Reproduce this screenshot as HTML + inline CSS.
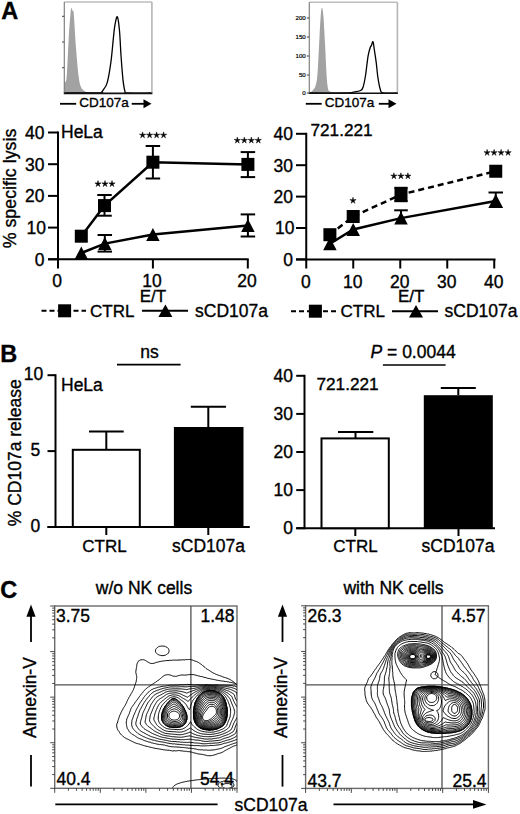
<!DOCTYPE html>
<html><head><meta charset="utf-8"><style>
html,body{margin:0;padding:0;background:#fff;}
body{width:520px;height:814px;overflow:hidden;}
svg{display:block;font-family:"Liberation Sans", sans-serif;}
text{stroke:#000;stroke-width:0.35px;}
</style></head><body>
<svg width="520" height="814" viewBox="0 0 520 814">
<text x="1.2" y="18.6" font-size="23.5" text-anchor="start" font-weight="bold" font-style="normal" >A</text>
<text x="0.2" y="361.6" font-size="23.5" text-anchor="start" font-weight="bold" font-style="normal" >B</text>
<text x="0.2" y="598.3" font-size="23.5" text-anchor="start" font-weight="bold" font-style="normal" >C</text>
<path d="M64.30,93.30 C64.30,91.25 64.07,82.88 64.30,81.00 C64.53,79.12 65.27,83.22 65.70,82.00 C66.13,80.78 66.38,81.20 66.90,73.70 C67.42,66.20 68.20,46.95 68.80,37.00 C69.40,27.05 70.05,18.83 70.50,14.00 C70.95,9.17 71.15,8.50 71.50,8.00 C71.85,7.50 72.23,10.08 72.60,11.00 C72.97,11.92 73.12,7.17 73.70,13.50 C74.28,19.83 75.28,38.58 76.10,49.00 C76.92,59.42 77.78,69.67 78.60,76.00 C79.42,82.33 79.88,84.42 81.00,87.00 C82.12,89.58 83.47,90.57 85.30,91.50 C87.13,92.43 89.55,92.35 92.00,92.60 C94.45,92.85 98.67,92.88 100.00,93.00 C101.33,93.12 100.00,93.25 100.00,93.30 L100,93.35 L64.3,93.35Z" fill="#a2a2a2"/>
<path d="M64.50,93.00 C70.42,93.00 93.90,93.03 100.00,93.00 C106.10,92.97 100.60,93.25 101.10,92.80 C101.60,92.35 101.97,92.05 103.00,90.30 C104.03,88.55 105.97,87.12 107.30,82.30 C108.63,77.48 109.97,68.97 111.00,61.40 C112.03,53.83 112.83,43.03 113.50,36.90 C114.17,30.77 114.35,27.95 115.00,24.60 C115.65,21.25 116.65,15.78 117.40,16.80 C118.15,17.82 118.90,24.28 119.50,30.70 C120.10,37.12 120.42,47.10 121.00,55.30 C121.58,63.50 122.33,73.87 123.00,79.90 C123.67,85.93 124.33,89.32 125.00,91.50 C125.67,93.68 122.67,92.75 127.00,93.00 C131.33,93.25 147.00,93.00 151.00,93.00" fill="none" stroke="#000" stroke-width="1.3" stroke-linejoin="round"/>
<line x1="64.3" y1="2.0" x2="151.9" y2="2.0" stroke="#bdbdbd" stroke-width="1.6" />
<line x1="151.9" y1="2.0" x2="151.9" y2="93.35" stroke="#b5b5b5" stroke-width="1.6" />
<line x1="64.3" y1="2.0" x2="64.3" y2="93.35" stroke="#808080" stroke-width="1.2" />
<line x1="63.8" y1="93.35" x2="152.4" y2="93.35" stroke="#111" stroke-width="1.6" />
<line x1="62.0" y1="16.3" x2="64.3" y2="16.3" stroke="#444" stroke-width="1.0" />
<line x1="62.0" y1="42.0" x2="64.3" y2="42.0" stroke="#444" stroke-width="1.0" />
<line x1="62.0" y1="67.7" x2="64.3" y2="67.7" stroke="#444" stroke-width="1.0" />
<line x1="60" y1="103.8" x2="76.2" y2="103.8" stroke="#000" stroke-width="1.8" />
<text x="79.3" y="107.3" font-size="13.5" text-anchor="start" font-weight="normal" font-style="normal" >CD107a</text>
<line x1="131.7" y1="103.8" x2="145" y2="103.8" stroke="#000" stroke-width="1.8" />
<polygon points="143.5,99.3 151.5,103.8 143.5,108.3" fill="#000"/>
<path d="M309.50,93.00 C309.67,92.92 309.92,93.00 310.50,92.50 C311.08,92.00 312.17,91.08 313.00,90.00 C313.83,88.92 314.75,88.72 315.50,86.00 C316.25,83.28 316.83,81.88 317.50,73.70 C318.17,65.52 318.92,47.13 319.50,36.90 C320.08,26.67 320.55,17.12 321.00,12.30 C321.45,7.48 321.78,7.18 322.20,8.00 C322.62,8.82 323.03,11.37 323.50,17.20 C323.97,23.03 324.50,33.58 325.00,43.00 C325.50,52.42 326.00,66.12 326.50,73.70 C327.00,81.28 327.42,85.53 328.00,88.50 C328.58,91.47 328.83,90.78 330.00,91.50 C331.17,92.22 334.17,92.55 335.00,92.80 C335.83,93.05 335.00,92.97 335.00,93.00 L335,93.2 L309.5,93.2Z" fill="#a2a2a2"/>
<path d="M309.50,93.00 C315.42,93.00 337.85,93.10 345.00,93.00 C352.15,92.90 349.73,92.85 352.40,92.40 C355.07,91.95 359.15,91.43 361.00,90.30 C362.85,89.17 362.73,88.15 363.50,85.60 C364.27,83.05 364.98,78.88 365.60,75.00 C366.22,71.12 366.75,65.65 367.20,62.30 C367.65,58.95 367.77,57.45 368.30,54.90 C368.83,52.35 369.90,48.50 370.40,47.00 C370.90,45.50 370.87,46.78 371.30,45.90 C371.73,45.02 372.50,41.08 373.00,41.70 C373.50,42.32 373.77,46.17 374.30,49.60 C374.83,53.03 375.58,57.53 376.20,62.30 C376.82,67.07 377.30,73.62 378.00,78.20 C378.70,82.78 379.57,87.37 380.40,89.80 C381.23,92.23 380.23,92.27 383.00,92.80 C385.77,93.33 394.67,92.97 397.00,93.00" fill="none" stroke="#000" stroke-width="1.3" stroke-linejoin="round"/>
<line x1="309.3" y1="2.2" x2="397.4" y2="2.2" stroke="#bdbdbd" stroke-width="1.6" />
<line x1="397.4" y1="2.2" x2="397.4" y2="93.2" stroke="#b5b5b5" stroke-width="1.6" />
<line x1="309.3" y1="2.2" x2="309.3" y2="93.2" stroke="#808080" stroke-width="1.2" />
<line x1="308.8" y1="93.2" x2="397.9" y2="93.2" stroke="#111" stroke-width="1.6" />
<text x="305.8" y="20.2" font-size="6.2" text-anchor="end" font-weight="normal" font-style="normal" style="stroke-width:0.2px">200</text>
<line x1="306.8" y1="18" x2="309.3" y2="18" stroke="#444" stroke-width="1.0" />
<text x="305.8" y="39.2" font-size="6.2" text-anchor="end" font-weight="normal" font-style="normal" style="stroke-width:0.2px">150</text>
<line x1="306.8" y1="37" x2="309.3" y2="37" stroke="#444" stroke-width="1.0" />
<text x="305.8" y="58.2" font-size="6.2" text-anchor="end" font-weight="normal" font-style="normal" style="stroke-width:0.2px">100</text>
<line x1="306.8" y1="56" x2="309.3" y2="56" stroke="#444" stroke-width="1.0" />
<text x="305.8" y="77.2" font-size="6.2" text-anchor="end" font-weight="normal" font-style="normal" style="stroke-width:0.2px">50</text>
<line x1="306.8" y1="75" x2="309.3" y2="75" stroke="#444" stroke-width="1.0" />
<text x="305.8" y="95.2" font-size="6.2" text-anchor="end" font-weight="normal" font-style="normal" style="stroke-width:0.2px">0</text>
<line x1="306.8" y1="93" x2="309.3" y2="93" stroke="#444" stroke-width="1.0" />
<line x1="305.8" y1="103.8" x2="321.7" y2="103.8" stroke="#000" stroke-width="1.8" />
<text x="324.8" y="107.3" font-size="13.5" text-anchor="start" font-weight="normal" font-style="normal" >CD107a</text>
<line x1="378.8" y1="103.8" x2="390" y2="103.8" stroke="#000" stroke-width="1.8" />
<polygon points="388.5,99.3 396.5,103.8 388.5,108.3" fill="#000"/>
<line x1="58.0" y1="131.5" x2="58.0" y2="260.3" stroke="#000" stroke-width="2" />
<line x1="48" y1="259.3" x2="248.7" y2="259.3" stroke="#000" stroke-width="2" />
<line x1="48" y1="259.3" x2="58.0" y2="259.3" stroke="#000" stroke-width="2" />
<text x="44.5" y="265.6" font-size="17.5" text-anchor="end" font-weight="normal" font-style="normal" >0</text>
<line x1="48" y1="227.60000000000002" x2="58.0" y2="227.60000000000002" stroke="#000" stroke-width="2" />
<text x="46.0" y="233.90000000000003" font-size="17.5" text-anchor="end" font-weight="normal" font-style="normal" >10</text>
<line x1="48" y1="195.9" x2="58.0" y2="195.9" stroke="#000" stroke-width="2" />
<text x="44.5" y="202.20000000000002" font-size="17.5" text-anchor="end" font-weight="normal" font-style="normal" >20</text>
<line x1="48" y1="164.20000000000002" x2="58.0" y2="164.20000000000002" stroke="#000" stroke-width="2" />
<text x="44.5" y="170.50000000000003" font-size="17.5" text-anchor="end" font-weight="normal" font-style="normal" >30</text>
<line x1="48" y1="132.5" x2="58.0" y2="132.5" stroke="#000" stroke-width="2" />
<text x="44.5" y="138.8" font-size="17.5" text-anchor="end" font-weight="normal" font-style="normal" >40</text>
<line x1="58.0" y1="259.3" x2="58.0" y2="268.5" stroke="#000" stroke-width="2" />
<text x="57.2" y="287.2" font-size="17.5" text-anchor="middle" font-weight="normal" font-style="normal" >0</text>
<line x1="152.9" y1="259.3" x2="152.9" y2="268.5" stroke="#000" stroke-width="2" />
<text x="152.1" y="287.2" font-size="17.5" text-anchor="middle" font-weight="normal" font-style="normal" >10</text>
<line x1="247.8" y1="259.3" x2="247.8" y2="268.5" stroke="#000" stroke-width="2" />
<text x="247.0" y="287.2" font-size="17.5" text-anchor="middle" font-weight="normal" font-style="normal" >20</text>
<text x="152.9" y="302.3" font-size="17" text-anchor="middle" font-weight="normal" font-style="normal" >E/T</text>
<text x="61.0" y="138.2" font-size="17.5" text-anchor="start" font-weight="normal" font-style="normal" >HeLa</text>
<text x="0" y="0" font-size="17.8" text-anchor="middle" transform="translate(16.0 188.5) rotate(-90)">% specific lysis</text>
<polyline points="81.3,236.2 104.5,205.6 152.9,162.2 247.9,164.4" fill="none" stroke="#000" stroke-width="2.5"/>
<polyline points="81.3,253.0 104.8,243.6 152.9,234.6 247.9,225.5" fill="none" stroke="#000" stroke-width="2.5"/>
<rect x="74.8" y="229.7" width="13" height="13" fill="#000"/>
<line x1="104.5" y1="195" x2="104.5" y2="215.7" stroke="#000" stroke-width="2" />
<line x1="97.25" y1="195" x2="111.75" y2="195" stroke="#000" stroke-width="2" />
<line x1="97.25" y1="215.7" x2="111.75" y2="215.7" stroke="#000" stroke-width="2" />
<rect x="98.0" y="199.1" width="13" height="13" fill="#000"/>
<line x1="152.9" y1="146" x2="152.9" y2="178.5" stroke="#000" stroke-width="2" />
<line x1="145.65" y1="146" x2="160.15" y2="146" stroke="#000" stroke-width="2" />
<line x1="145.65" y1="178.5" x2="160.15" y2="178.5" stroke="#000" stroke-width="2" />
<rect x="146.4" y="155.7" width="13" height="13" fill="#000"/>
<line x1="247.9" y1="152.1" x2="247.9" y2="177.1" stroke="#000" stroke-width="2" />
<line x1="240.65" y1="152.1" x2="255.15" y2="152.1" stroke="#000" stroke-width="2" />
<line x1="240.65" y1="177.1" x2="255.15" y2="177.1" stroke="#000" stroke-width="2" />
<rect x="241.4" y="157.9" width="13" height="13" fill="#000"/>
<polygon points="74.55,259.5 88.05,259.5 81.3,246.5" fill="#000"/>
<line x1="104.8" y1="235" x2="104.8" y2="251.6" stroke="#000" stroke-width="2" />
<line x1="97.55" y1="235" x2="112.05" y2="235" stroke="#000" stroke-width="2" />
<line x1="97.55" y1="251.6" x2="112.05" y2="251.6" stroke="#000" stroke-width="2" />
<polygon points="98.05,250.1 111.55,250.1 104.8,237.1" fill="#000"/>
<polygon points="146.15,241.1 159.65,241.1 152.9,228.1" fill="#000"/>
<line x1="247.9" y1="214.4" x2="247.9" y2="236.5" stroke="#000" stroke-width="2" />
<line x1="240.65" y1="214.4" x2="255.15" y2="214.4" stroke="#000" stroke-width="2" />
<line x1="240.65" y1="236.5" x2="255.15" y2="236.5" stroke="#000" stroke-width="2" />
<polygon points="241.15,232.0 254.65,232.0 247.9,219.0" fill="#000"/>
<polygon points="98.00,180.60 98.65,183.01 101.14,182.88 99.05,184.24 99.94,186.57 98.00,185.00 96.06,186.57 96.95,184.24 94.86,182.88 97.35,183.01" fill="#000" stroke="#000" stroke-width="0.5" stroke-linejoin="round"/>
<polygon points="105.00,180.60 105.65,183.01 108.14,182.88 106.05,184.24 106.94,186.57 105.00,185.00 103.06,186.57 103.95,184.24 101.86,182.88 104.35,183.01" fill="#000" stroke="#000" stroke-width="0.5" stroke-linejoin="round"/>
<polygon points="112.00,180.60 112.65,183.01 115.14,182.88 113.05,184.24 113.94,186.57 112.00,185.00 110.06,186.57 110.95,184.24 108.86,182.88 111.35,183.01" fill="#000" stroke="#000" stroke-width="0.5" stroke-linejoin="round"/>
<polygon points="142.60,131.90 143.25,134.31 145.74,134.18 143.65,135.54 144.54,137.87 142.60,136.30 140.66,137.87 141.55,135.54 139.46,134.18 141.95,134.31" fill="#000" stroke="#000" stroke-width="0.5" stroke-linejoin="round"/>
<polygon points="149.60,131.90 150.25,134.31 152.74,134.18 150.65,135.54 151.54,137.87 149.60,136.30 147.66,137.87 148.55,135.54 146.46,134.18 148.95,134.31" fill="#000" stroke="#000" stroke-width="0.5" stroke-linejoin="round"/>
<polygon points="156.60,131.90 157.25,134.31 159.74,134.18 157.65,135.54 158.54,137.87 156.60,136.30 154.66,137.87 155.55,135.54 153.46,134.18 155.95,134.31" fill="#000" stroke="#000" stroke-width="0.5" stroke-linejoin="round"/>
<polygon points="163.60,131.90 164.25,134.31 166.74,134.18 164.65,135.54 165.54,137.87 163.60,136.30 161.66,137.87 162.55,135.54 160.46,134.18 162.95,134.31" fill="#000" stroke="#000" stroke-width="0.5" stroke-linejoin="round"/>
<polygon points="237.30,137.10 237.95,139.51 240.44,139.38 238.35,140.74 239.24,143.07 237.30,141.50 235.36,143.07 236.25,140.74 234.16,139.38 236.65,139.51" fill="#000" stroke="#000" stroke-width="0.5" stroke-linejoin="round"/>
<polygon points="244.30,137.10 244.95,139.51 247.44,139.38 245.35,140.74 246.24,143.07 244.30,141.50 242.36,143.07 243.25,140.74 241.16,139.38 243.65,139.51" fill="#000" stroke="#000" stroke-width="0.5" stroke-linejoin="round"/>
<polygon points="251.30,137.10 251.95,139.51 254.44,139.38 252.35,140.74 253.24,143.07 251.30,141.50 249.36,143.07 250.25,140.74 248.16,139.38 250.65,139.51" fill="#000" stroke="#000" stroke-width="0.5" stroke-linejoin="round"/>
<polygon points="258.30,137.10 258.95,139.51 261.44,139.38 259.35,140.74 260.24,143.07 258.30,141.50 256.36,143.07 257.25,140.74 255.16,139.38 257.65,139.51" fill="#000" stroke="#000" stroke-width="0.5" stroke-linejoin="round"/>
<line x1="41.5" y1="310.8" x2="86" y2="310.8" stroke="#000" stroke-width="2" stroke-dasharray="5,3"/>
<rect x="58.099999999999994" y="304.3" width="13" height="13" fill="#000"/>
<text x="90.0" y="317.0" font-size="17" text-anchor="start" font-weight="normal" font-style="normal" >CTRL</text>
<line x1="142" y1="310.8" x2="188" y2="310.8" stroke="#000" stroke-width="2" />
<polygon points="158.4,317.05 172.4,317.05 165.4,304.55" fill="#000"/>
<text x="195.0" y="317.0" font-size="17.5" text-anchor="start" font-weight="normal" font-style="normal" >sCD107a</text>
<line x1="306.25" y1="132.79999999999998" x2="306.25" y2="260.4" stroke="#000" stroke-width="2" />
<line x1="296" y1="259.4" x2="495.5" y2="259.4" stroke="#000" stroke-width="2" />
<line x1="296" y1="259.4" x2="306.25" y2="259.4" stroke="#000" stroke-width="2" />
<text x="293" y="265.7" font-size="17.5" text-anchor="end" font-weight="normal" font-style="normal" >0</text>
<line x1="296" y1="227.99999999999997" x2="306.25" y2="227.99999999999997" stroke="#000" stroke-width="2" />
<text x="294.5" y="234.29999999999998" font-size="17.5" text-anchor="end" font-weight="normal" font-style="normal" >10</text>
<line x1="296" y1="196.59999999999997" x2="306.25" y2="196.59999999999997" stroke="#000" stroke-width="2" />
<text x="293" y="202.89999999999998" font-size="17.5" text-anchor="end" font-weight="normal" font-style="normal" >20</text>
<line x1="296" y1="165.2" x2="306.25" y2="165.2" stroke="#000" stroke-width="2" />
<text x="293" y="171.5" font-size="17.5" text-anchor="end" font-weight="normal" font-style="normal" >30</text>
<line x1="296" y1="133.79999999999998" x2="306.25" y2="133.79999999999998" stroke="#000" stroke-width="2" />
<text x="293" y="140.1" font-size="17.5" text-anchor="end" font-weight="normal" font-style="normal" >40</text>
<line x1="306.25" y1="259.4" x2="306.25" y2="268.5" stroke="#000" stroke-width="2" />
<text x="305.75" y="287.5" font-size="17.5" text-anchor="middle" font-weight="normal" font-style="normal" >0</text>
<line x1="353.25" y1="259.4" x2="353.25" y2="268.5" stroke="#000" stroke-width="2" />
<text x="352.75" y="287.5" font-size="17.5" text-anchor="middle" font-weight="normal" font-style="normal" >10</text>
<line x1="400.25" y1="259.4" x2="400.25" y2="268.5" stroke="#000" stroke-width="2" />
<text x="399.75" y="287.5" font-size="17.5" text-anchor="middle" font-weight="normal" font-style="normal" >20</text>
<line x1="447.25" y1="259.4" x2="447.25" y2="268.5" stroke="#000" stroke-width="2" />
<text x="446.75" y="287.5" font-size="17.5" text-anchor="middle" font-weight="normal" font-style="normal" >30</text>
<line x1="494.25" y1="259.4" x2="494.25" y2="268.5" stroke="#000" stroke-width="2" />
<text x="493.75" y="287.5" font-size="17.5" text-anchor="middle" font-weight="normal" font-style="normal" >40</text>
<text x="411.2" y="302.3" font-size="17" text-anchor="middle" font-weight="normal" font-style="normal" >E/T</text>
<text x="310.5" y="136.3" font-size="17.2" text-anchor="start" font-weight="normal" font-style="normal" >721.221</text>
<polyline points="329.9,234.7 353.2,216.5 401,194.5 495.75,171.25" fill="none" stroke="#000" stroke-width="2.5" stroke-dasharray="6,4"/>
<polyline points="329.9,243.8 353.2,229.5 401,218.1 495.75,201" fill="none" stroke="#000" stroke-width="2.5"/>
<line x1="401" y1="210.3" x2="401" y2="216" stroke="#000" stroke-width="2" />
<line x1="394.2" y1="210.3" x2="407.8" y2="210.3" stroke="#000" stroke-width="2" />
<line x1="495.75" y1="192.5" x2="495.75" y2="199" stroke="#000" stroke-width="2" />
<line x1="488.5" y1="192.5" x2="503" y2="192.5" stroke="#000" stroke-width="2" />
<line x1="401" y1="187.8" x2="401" y2="201.2" stroke="#000" stroke-width="2" />
<line x1="394.3" y1="187.8" x2="407.7" y2="187.8" stroke="#000" stroke-width="2" />
<line x1="394.3" y1="201.2" x2="407.7" y2="201.2" stroke="#000" stroke-width="2" />
<rect x="323.4" y="228.2" width="13" height="13" fill="#000"/>
<rect x="346.7" y="210.0" width="13" height="13" fill="#000"/>
<rect x="394.5" y="188.0" width="13" height="13" fill="#000"/>
<rect x="489.25" y="164.75" width="13" height="13" fill="#000"/>
<polygon points="323.15,250.3 336.65,250.3 329.9,237.3" fill="#000"/>
<polygon points="346.45,236.0 359.95,236.0 353.2,223.0" fill="#000"/>
<polygon points="394.25,224.6 407.75,224.6 401,211.6" fill="#000"/>
<polygon points="488.35,208.0 503.15,208.0 495.75,194.0" fill="#000"/>
<polygon points="353.00,197.30 353.65,199.71 356.14,199.58 354.05,200.94 354.94,203.27 353.00,201.70 351.06,203.27 351.95,200.94 349.86,199.58 352.35,199.71" fill="#000" stroke="#000" stroke-width="0.5" stroke-linejoin="round"/>
<polygon points="393.90,172.80 394.55,175.21 397.04,175.08 394.95,176.44 395.84,178.77 393.90,177.20 391.96,178.77 392.85,176.44 390.76,175.08 393.25,175.21" fill="#000" stroke="#000" stroke-width="0.5" stroke-linejoin="round"/>
<polygon points="400.90,172.80 401.55,175.21 404.04,175.08 401.95,176.44 402.84,178.77 400.90,177.20 398.96,178.77 399.85,176.44 397.76,175.08 400.25,175.21" fill="#000" stroke="#000" stroke-width="0.5" stroke-linejoin="round"/>
<polygon points="407.90,172.80 408.55,175.21 411.04,175.08 408.95,176.44 409.84,178.77 407.90,177.20 405.96,178.77 406.85,176.44 404.76,175.08 407.25,175.21" fill="#000" stroke="#000" stroke-width="0.5" stroke-linejoin="round"/>
<polygon points="487.10,149.40 487.75,151.81 490.24,151.68 488.15,153.04 489.04,155.37 487.10,153.80 485.16,155.37 486.05,153.04 483.96,151.68 486.45,151.81" fill="#000" stroke="#000" stroke-width="0.5" stroke-linejoin="round"/>
<polygon points="494.10,149.40 494.75,151.81 497.24,151.68 495.15,153.04 496.04,155.37 494.10,153.80 492.16,155.37 493.05,153.04 490.96,151.68 493.45,151.81" fill="#000" stroke="#000" stroke-width="0.5" stroke-linejoin="round"/>
<polygon points="501.10,149.40 501.75,151.81 504.24,151.68 502.15,153.04 503.04,155.37 501.10,153.80 499.16,155.37 500.05,153.04 497.96,151.68 500.45,151.81" fill="#000" stroke="#000" stroke-width="0.5" stroke-linejoin="round"/>
<polygon points="508.10,149.40 508.75,151.81 511.24,151.68 509.15,153.04 510.04,155.37 508.10,153.80 506.16,155.37 507.05,153.04 504.96,151.68 507.45,151.81" fill="#000" stroke="#000" stroke-width="0.5" stroke-linejoin="round"/>
<line x1="291" y1="311.2" x2="336" y2="311.2" stroke="#000" stroke-width="2" stroke-dasharray="5,3"/>
<rect x="308.9" y="304.7" width="13" height="13" fill="#000"/>
<text x="340.5" y="317.3" font-size="17" text-anchor="start" font-weight="normal" font-style="normal" >CTRL</text>
<line x1="392" y1="311.2" x2="438" y2="311.2" stroke="#000" stroke-width="2" />
<polygon points="409.0,317.45 423.0,317.45 416,304.95" fill="#000"/>
<text x="444.5" y="317.3" font-size="17.5" text-anchor="start" font-weight="normal" font-style="normal" >sCD107a</text>
<line x1="55.5" y1="374.2" x2="55.5" y2="528.0" stroke="#000" stroke-width="2" />
<line x1="47.5" y1="527.0" x2="249.8" y2="527.0" stroke="#000" stroke-width="2" />
<line x1="47.5" y1="527.0" x2="55.5" y2="527.0" stroke="#000" stroke-width="2" />
<text x="40.3" y="532.1" font-size="17.5" text-anchor="end" font-weight="normal" font-style="normal" >0</text>
<line x1="47.5" y1="451.1" x2="55.5" y2="451.1" stroke="#000" stroke-width="2" />
<text x="40.3" y="456.20000000000005" font-size="17.5" text-anchor="end" font-weight="normal" font-style="normal" >5</text>
<line x1="47.5" y1="375.2" x2="55.5" y2="375.2" stroke="#000" stroke-width="2" />
<text x="43.3" y="380.3" font-size="17.5" text-anchor="end" font-weight="normal" font-style="normal" >10</text>
<rect x="72.8" y="449.8" width="67" height="77.19999999999999" fill="#fff" stroke="#000" stroke-width="2"/>
<line x1="106.3" y1="431.4" x2="106.3" y2="449.8" stroke="#000" stroke-width="2" />
<line x1="89" y1="431.4" x2="123.7" y2="431.4" stroke="#000" stroke-width="2" />
<rect x="173.9" y="427" width="69.6" height="100.0" fill="#000"/>
<line x1="208.3" y1="406.8" x2="208.3" y2="427" stroke="#000" stroke-width="2" />
<line x1="190.8" y1="406.8" x2="226" y2="406.8" stroke="#000" stroke-width="2" />
<line x1="106.3" y1="527.0" x2="106.3" y2="535" stroke="#000" stroke-width="2" />
<line x1="208.3" y1="527.0" x2="208.3" y2="535" stroke="#000" stroke-width="2" />
<text x="104.5" y="551.8" font-size="17" text-anchor="middle" font-weight="normal" font-style="normal" >CTRL</text>
<text x="208.5" y="552.0" font-size="17.5" text-anchor="middle" font-weight="normal" font-style="normal" >sCD107a</text>
<text x="61.0" y="390.8" font-size="17.5" text-anchor="start" font-weight="normal" font-style="normal" >HeLa</text>
<line x1="117" y1="364.6" x2="180.6" y2="364.6" stroke="#000" stroke-width="1.6" />
<text x="149.6" y="357.8" font-size="17.5" text-anchor="middle" font-weight="normal" font-style="normal" >ns</text>
<text x="0" y="0" text-anchor="middle" transform="translate(20.8 452.8) rotate(-90)" font-size="17.5">% CD107a release</text>
<line x1="304.5" y1="374.80000000000007" x2="304.5" y2="529.2" stroke="#000" stroke-width="2" />
<line x1="296.2" y1="528.2" x2="495" y2="528.2" stroke="#000" stroke-width="2" />
<line x1="296.2" y1="528.2" x2="304.5" y2="528.2" stroke="#000" stroke-width="2" />
<text x="293" y="534.0" font-size="17.5" text-anchor="end" font-weight="normal" font-style="normal" >0</text>
<line x1="296.2" y1="490.1" x2="304.5" y2="490.1" stroke="#000" stroke-width="2" />
<text x="293" y="495.90000000000003" font-size="17.5" text-anchor="end" font-weight="normal" font-style="normal" >10</text>
<line x1="296.2" y1="452.00000000000006" x2="304.5" y2="452.00000000000006" stroke="#000" stroke-width="2" />
<text x="293" y="457.80000000000007" font-size="17.5" text-anchor="end" font-weight="normal" font-style="normal" >20</text>
<line x1="296.2" y1="413.90000000000003" x2="304.5" y2="413.90000000000003" stroke="#000" stroke-width="2" />
<text x="293" y="419.70000000000005" font-size="17.5" text-anchor="end" font-weight="normal" font-style="normal" >30</text>
<line x1="296.2" y1="375.80000000000007" x2="304.5" y2="375.80000000000007" stroke="#000" stroke-width="2" />
<text x="293" y="381.6000000000001" font-size="17.5" text-anchor="end" font-weight="normal" font-style="normal" >40</text>
<rect x="321.5" y="438.4" width="67.3" height="89.80000000000007" fill="#fff" stroke="#000" stroke-width="2"/>
<line x1="355.5" y1="432" x2="355.5" y2="438.4" stroke="#000" stroke-width="2" />
<line x1="338" y1="432" x2="373.3" y2="432" stroke="#000" stroke-width="2" />
<rect x="423.8" y="395.2" width="69" height="133.00000000000006" fill="#000"/>
<line x1="458.3" y1="387.9" x2="458.3" y2="395.2" stroke="#000" stroke-width="2" />
<line x1="440.8" y1="387.9" x2="475.8" y2="387.9" stroke="#000" stroke-width="2" />
<line x1="355.3" y1="528.2" x2="355.3" y2="536" stroke="#000" stroke-width="2" />
<line x1="458.5" y1="528.2" x2="458.5" y2="536" stroke="#000" stroke-width="2" />
<text x="355.5" y="552.0" font-size="17" text-anchor="middle" font-weight="normal" font-style="normal" >CTRL</text>
<text x="458.0" y="552.0" font-size="17.5" text-anchor="middle" font-weight="normal" font-style="normal" >sCD107a</text>
<text x="316.5" y="390.0" font-size="17.2" text-anchor="start" font-weight="normal" font-style="normal" >721.221</text>
<line x1="382.9" y1="365" x2="445.6" y2="365" stroke="#000" stroke-width="1.6" />
<text x="370.5" y="358.3" font-size="17.5"><tspan font-style="italic">P</tspan> = 0.0044</text>
<rect x="54.7" y="606.0" width="182.3" height="182.29999999999995" fill="none" stroke="#6a6a6a" stroke-width="1.4"/>
<line x1="190.9" y1="606.0" x2="190.9" y2="788.3" stroke="#505050" stroke-width="1.3" />
<line x1="54.7" y1="684.9" x2="237.0" y2="684.9" stroke="#505050" stroke-width="1.3" />
<line x1="54.7" y1="788.3" x2="54.7" y2="792.8" stroke="#333" stroke-width="0.9" />
<line x1="68.41944205238595" y1="788.3" x2="68.41944205238595" y2="790.8" stroke="#333" stroke-width="0.9" />
<line x1="76.44480118384863" y1="788.3" x2="76.44480118384863" y2="790.8" stroke="#333" stroke-width="0.9" />
<line x1="82.13888410477189" y1="788.3" x2="82.13888410477189" y2="790.8" stroke="#333" stroke-width="0.9" />
<line x1="86.55555794761406" y1="788.3" x2="86.55555794761406" y2="790.8" stroke="#333" stroke-width="0.9" />
<line x1="90.16424323623457" y1="788.3" x2="90.16424323623457" y2="790.8" stroke="#333" stroke-width="0.9" />
<line x1="93.21534317364976" y1="788.3" x2="93.21534317364976" y2="790.8" stroke="#333" stroke-width="0.9" />
<line x1="95.85832615715783" y1="788.3" x2="95.85832615715783" y2="790.8" stroke="#333" stroke-width="0.9" />
<line x1="98.18960236769723" y1="788.3" x2="98.18960236769723" y2="790.8" stroke="#333" stroke-width="0.9" />
<line x1="100.275" y1="788.3" x2="100.275" y2="792.8" stroke="#333" stroke-width="0.9" />
<line x1="113.99444205238595" y1="788.3" x2="113.99444205238595" y2="790.8" stroke="#333" stroke-width="0.9" />
<line x1="122.01980118384861" y1="788.3" x2="122.01980118384861" y2="790.8" stroke="#333" stroke-width="0.9" />
<line x1="127.71388410477189" y1="788.3" x2="127.71388410477189" y2="790.8" stroke="#333" stroke-width="0.9" />
<line x1="132.13055794761408" y1="788.3" x2="132.13055794761408" y2="790.8" stroke="#333" stroke-width="0.9" />
<line x1="135.73924323623456" y1="788.3" x2="135.73924323623456" y2="790.8" stroke="#333" stroke-width="0.9" />
<line x1="138.79034317364977" y1="788.3" x2="138.79034317364977" y2="790.8" stroke="#333" stroke-width="0.9" />
<line x1="141.43332615715784" y1="788.3" x2="141.43332615715784" y2="790.8" stroke="#333" stroke-width="0.9" />
<line x1="143.76460236769725" y1="788.3" x2="143.76460236769725" y2="790.8" stroke="#333" stroke-width="0.9" />
<line x1="145.85000000000002" y1="788.3" x2="145.85000000000002" y2="792.8" stroke="#333" stroke-width="0.9" />
<line x1="159.56944205238597" y1="788.3" x2="159.56944205238597" y2="790.8" stroke="#333" stroke-width="0.9" />
<line x1="167.59480118384863" y1="788.3" x2="167.59480118384863" y2="790.8" stroke="#333" stroke-width="0.9" />
<line x1="173.2888841047719" y1="788.3" x2="173.2888841047719" y2="790.8" stroke="#333" stroke-width="0.9" />
<line x1="177.7055579476141" y1="788.3" x2="177.7055579476141" y2="790.8" stroke="#333" stroke-width="0.9" />
<line x1="181.31424323623457" y1="788.3" x2="181.31424323623457" y2="790.8" stroke="#333" stroke-width="0.9" />
<line x1="184.36534317364976" y1="788.3" x2="184.36534317364976" y2="790.8" stroke="#333" stroke-width="0.9" />
<line x1="187.00832615715785" y1="788.3" x2="187.00832615715785" y2="790.8" stroke="#333" stroke-width="0.9" />
<line x1="189.33960236769724" y1="788.3" x2="189.33960236769724" y2="790.8" stroke="#333" stroke-width="0.9" />
<line x1="191.425" y1="788.3" x2="191.425" y2="792.8" stroke="#333" stroke-width="0.9" />
<line x1="205.14444205238595" y1="788.3" x2="205.14444205238595" y2="790.8" stroke="#333" stroke-width="0.9" />
<line x1="213.16980118384862" y1="788.3" x2="213.16980118384862" y2="790.8" stroke="#333" stroke-width="0.9" />
<line x1="218.8638841047719" y1="788.3" x2="218.8638841047719" y2="790.8" stroke="#333" stroke-width="0.9" />
<line x1="223.28055794761408" y1="788.3" x2="223.28055794761408" y2="790.8" stroke="#333" stroke-width="0.9" />
<line x1="226.88924323623456" y1="788.3" x2="226.88924323623456" y2="790.8" stroke="#333" stroke-width="0.9" />
<line x1="229.94034317364975" y1="788.3" x2="229.94034317364975" y2="790.8" stroke="#333" stroke-width="0.9" />
<line x1="232.58332615715784" y1="788.3" x2="232.58332615715784" y2="790.8" stroke="#333" stroke-width="0.9" />
<line x1="234.91460236769723" y1="788.3" x2="234.91460236769723" y2="790.8" stroke="#333" stroke-width="0.9" />
<line x1="237.0" y1="788.3" x2="237.0" y2="792.8" stroke="#333" stroke-width="0.9" />
<line x1="54.7" y1="788.3" x2="50.2" y2="788.3" stroke="#333" stroke-width="0.9" />
<line x1="54.7" y1="774.580557947614" x2="52.2" y2="774.580557947614" stroke="#333" stroke-width="0.9" />
<line x1="54.7" y1="766.5551988161513" x2="52.2" y2="766.5551988161513" stroke="#333" stroke-width="0.9" />
<line x1="54.7" y1="760.8611158952281" x2="52.2" y2="760.8611158952281" stroke="#333" stroke-width="0.9" />
<line x1="54.7" y1="756.4444420523859" x2="52.2" y2="756.4444420523859" stroke="#333" stroke-width="0.9" />
<line x1="54.7" y1="752.8357567637654" x2="52.2" y2="752.8357567637654" stroke="#333" stroke-width="0.9" />
<line x1="54.7" y1="749.7846568263502" x2="52.2" y2="749.7846568263502" stroke="#333" stroke-width="0.9" />
<line x1="54.7" y1="747.1416738428421" x2="52.2" y2="747.1416738428421" stroke="#333" stroke-width="0.9" />
<line x1="54.7" y1="744.8103976323027" x2="52.2" y2="744.8103976323027" stroke="#333" stroke-width="0.9" />
<line x1="54.7" y1="742.7249999999999" x2="50.2" y2="742.7249999999999" stroke="#333" stroke-width="0.9" />
<line x1="54.7" y1="729.005557947614" x2="52.2" y2="729.005557947614" stroke="#333" stroke-width="0.9" />
<line x1="54.7" y1="720.9801988161513" x2="52.2" y2="720.9801988161513" stroke="#333" stroke-width="0.9" />
<line x1="54.7" y1="715.286115895228" x2="52.2" y2="715.286115895228" stroke="#333" stroke-width="0.9" />
<line x1="54.7" y1="710.8694420523858" x2="52.2" y2="710.8694420523858" stroke="#333" stroke-width="0.9" />
<line x1="54.7" y1="707.2607567637654" x2="52.2" y2="707.2607567637654" stroke="#333" stroke-width="0.9" />
<line x1="54.7" y1="704.2096568263502" x2="52.2" y2="704.2096568263502" stroke="#333" stroke-width="0.9" />
<line x1="54.7" y1="701.5666738428421" x2="52.2" y2="701.5666738428421" stroke="#333" stroke-width="0.9" />
<line x1="54.7" y1="699.2353976323027" x2="52.2" y2="699.2353976323027" stroke="#333" stroke-width="0.9" />
<line x1="54.7" y1="697.15" x2="50.2" y2="697.15" stroke="#333" stroke-width="0.9" />
<line x1="54.7" y1="683.430557947614" x2="52.2" y2="683.430557947614" stroke="#333" stroke-width="0.9" />
<line x1="54.7" y1="675.4051988161514" x2="52.2" y2="675.4051988161514" stroke="#333" stroke-width="0.9" />
<line x1="54.7" y1="669.7111158952281" x2="52.2" y2="669.7111158952281" stroke="#333" stroke-width="0.9" />
<line x1="54.7" y1="665.2944420523859" x2="52.2" y2="665.2944420523859" stroke="#333" stroke-width="0.9" />
<line x1="54.7" y1="661.6857567637654" x2="52.2" y2="661.6857567637654" stroke="#333" stroke-width="0.9" />
<line x1="54.7" y1="658.6346568263502" x2="52.2" y2="658.6346568263502" stroke="#333" stroke-width="0.9" />
<line x1="54.7" y1="655.9916738428421" x2="52.2" y2="655.9916738428421" stroke="#333" stroke-width="0.9" />
<line x1="54.7" y1="653.6603976323028" x2="52.2" y2="653.6603976323028" stroke="#333" stroke-width="0.9" />
<line x1="54.7" y1="651.575" x2="50.2" y2="651.575" stroke="#333" stroke-width="0.9" />
<line x1="54.7" y1="637.8555579476141" x2="52.2" y2="637.8555579476141" stroke="#333" stroke-width="0.9" />
<line x1="54.7" y1="629.8301988161514" x2="52.2" y2="629.8301988161514" stroke="#333" stroke-width="0.9" />
<line x1="54.7" y1="624.1361158952282" x2="52.2" y2="624.1361158952282" stroke="#333" stroke-width="0.9" />
<line x1="54.7" y1="619.719442052386" x2="52.2" y2="619.719442052386" stroke="#333" stroke-width="0.9" />
<line x1="54.7" y1="616.1107567637655" x2="52.2" y2="616.1107567637655" stroke="#333" stroke-width="0.9" />
<line x1="54.7" y1="613.0596568263503" x2="52.2" y2="613.0596568263503" stroke="#333" stroke-width="0.9" />
<line x1="54.7" y1="610.4166738428422" x2="52.2" y2="610.4166738428422" stroke="#333" stroke-width="0.9" />
<line x1="54.7" y1="608.0853976323028" x2="52.2" y2="608.0853976323028" stroke="#333" stroke-width="0.9" />
<line x1="54.7" y1="606.0" x2="50.2" y2="606.0" stroke="#333" stroke-width="0.9" />
<rect x="305.6" y="605.8" width="182.79999999999995" height="182.60000000000002" fill="none" stroke="#6a6a6a" stroke-width="1.4"/>
<line x1="442.0" y1="605.8" x2="442.0" y2="788.4" stroke="#505050" stroke-width="1.3" />
<line x1="305.6" y1="684.9" x2="488.4" y2="684.9" stroke="#505050" stroke-width="1.3" />
<line x1="305.6" y1="788.4" x2="305.6" y2="792.9" stroke="#333" stroke-width="0.9" />
<line x1="319.357070801844" y1="788.4" x2="319.357070801844" y2="790.9" stroke="#333" stroke-width="0.9" />
<line x1="327.4044413406886" y1="788.4" x2="327.4044413406886" y2="790.9" stroke="#333" stroke-width="0.9" />
<line x1="333.1141416036879" y1="788.4" x2="333.1141416036879" y2="790.9" stroke="#333" stroke-width="0.9" />
<line x1="337.54292919815606" y1="788.4" x2="337.54292919815606" y2="790.9" stroke="#333" stroke-width="0.9" />
<line x1="341.1615121425325" y1="788.4" x2="341.1615121425325" y2="790.9" stroke="#333" stroke-width="0.9" />
<line x1="344.22098042865156" y1="788.4" x2="344.22098042865156" y2="790.9" stroke="#333" stroke-width="0.9" />
<line x1="346.8712124055318" y1="788.4" x2="346.8712124055318" y2="790.9" stroke="#333" stroke-width="0.9" />
<line x1="349.2088826813772" y1="788.4" x2="349.2088826813772" y2="790.9" stroke="#333" stroke-width="0.9" />
<line x1="351.3" y1="788.4" x2="351.3" y2="792.9" stroke="#333" stroke-width="0.9" />
<line x1="365.05707080184396" y1="788.4" x2="365.05707080184396" y2="790.9" stroke="#333" stroke-width="0.9" />
<line x1="373.1044413406886" y1="788.4" x2="373.1044413406886" y2="790.9" stroke="#333" stroke-width="0.9" />
<line x1="378.81414160368786" y1="788.4" x2="378.81414160368786" y2="790.9" stroke="#333" stroke-width="0.9" />
<line x1="383.24292919815605" y1="788.4" x2="383.24292919815605" y2="790.9" stroke="#333" stroke-width="0.9" />
<line x1="386.86151214253255" y1="788.4" x2="386.86151214253255" y2="790.9" stroke="#333" stroke-width="0.9" />
<line x1="389.92098042865155" y1="788.4" x2="389.92098042865155" y2="790.9" stroke="#333" stroke-width="0.9" />
<line x1="392.5712124055318" y1="788.4" x2="392.5712124055318" y2="790.9" stroke="#333" stroke-width="0.9" />
<line x1="394.9088826813771" y1="788.4" x2="394.9088826813771" y2="790.9" stroke="#333" stroke-width="0.9" />
<line x1="397.0" y1="788.4" x2="397.0" y2="792.9" stroke="#333" stroke-width="0.9" />
<line x1="410.75707080184395" y1="788.4" x2="410.75707080184395" y2="790.9" stroke="#333" stroke-width="0.9" />
<line x1="418.8044413406886" y1="788.4" x2="418.8044413406886" y2="790.9" stroke="#333" stroke-width="0.9" />
<line x1="424.5141416036879" y1="788.4" x2="424.5141416036879" y2="790.9" stroke="#333" stroke-width="0.9" />
<line x1="428.94292919815604" y1="788.4" x2="428.94292919815604" y2="790.9" stroke="#333" stroke-width="0.9" />
<line x1="432.5615121425325" y1="788.4" x2="432.5615121425325" y2="790.9" stroke="#333" stroke-width="0.9" />
<line x1="435.62098042865154" y1="788.4" x2="435.62098042865154" y2="790.9" stroke="#333" stroke-width="0.9" />
<line x1="438.2712124055318" y1="788.4" x2="438.2712124055318" y2="790.9" stroke="#333" stroke-width="0.9" />
<line x1="440.60888268137717" y1="788.4" x2="440.60888268137717" y2="790.9" stroke="#333" stroke-width="0.9" />
<line x1="442.7" y1="788.4" x2="442.7" y2="792.9" stroke="#333" stroke-width="0.9" />
<line x1="456.45707080184394" y1="788.4" x2="456.45707080184394" y2="790.9" stroke="#333" stroke-width="0.9" />
<line x1="464.5044413406886" y1="788.4" x2="464.5044413406886" y2="790.9" stroke="#333" stroke-width="0.9" />
<line x1="470.21414160368784" y1="788.4" x2="470.21414160368784" y2="790.9" stroke="#333" stroke-width="0.9" />
<line x1="474.642929198156" y1="788.4" x2="474.642929198156" y2="790.9" stroke="#333" stroke-width="0.9" />
<line x1="478.2615121425325" y1="788.4" x2="478.2615121425325" y2="790.9" stroke="#333" stroke-width="0.9" />
<line x1="481.3209804286515" y1="788.4" x2="481.3209804286515" y2="790.9" stroke="#333" stroke-width="0.9" />
<line x1="483.9712124055318" y1="788.4" x2="483.9712124055318" y2="790.9" stroke="#333" stroke-width="0.9" />
<line x1="486.3088826813771" y1="788.4" x2="486.3088826813771" y2="790.9" stroke="#333" stroke-width="0.9" />
<line x1="488.4" y1="788.4" x2="488.4" y2="792.9" stroke="#333" stroke-width="0.9" />
<line x1="305.6" y1="788.4" x2="301.1" y2="788.4" stroke="#333" stroke-width="0.9" />
<line x1="305.6" y1="774.6579806979393" x2="303.1" y2="774.6579806979393" stroke="#333" stroke-width="0.9" />
<line x1="305.6" y1="766.6194147220474" x2="303.1" y2="766.6194147220474" stroke="#333" stroke-width="0.9" />
<line x1="305.6" y1="760.9159613958785" x2="303.1" y2="760.9159613958785" stroke="#333" stroke-width="0.9" />
<line x1="305.6" y1="756.4920193020607" x2="303.1" y2="756.4920193020607" stroke="#333" stroke-width="0.9" />
<line x1="305.6" y1="752.8773954199867" x2="303.1" y2="752.8773954199867" stroke="#333" stroke-width="0.9" />
<line x1="305.6" y1="749.8212744733491" x2="303.1" y2="749.8212744733491" stroke="#333" stroke-width="0.9" />
<line x1="305.6" y1="747.1739420938178" x2="303.1" y2="747.1739420938178" stroke="#333" stroke-width="0.9" />
<line x1="305.6" y1="744.8388294440948" x2="303.1" y2="744.8388294440948" stroke="#333" stroke-width="0.9" />
<line x1="305.6" y1="742.75" x2="301.1" y2="742.75" stroke="#333" stroke-width="0.9" />
<line x1="305.6" y1="729.0079806979393" x2="303.1" y2="729.0079806979393" stroke="#333" stroke-width="0.9" />
<line x1="305.6" y1="720.9694147220474" x2="303.1" y2="720.9694147220474" stroke="#333" stroke-width="0.9" />
<line x1="305.6" y1="715.2659613958785" x2="303.1" y2="715.2659613958785" stroke="#333" stroke-width="0.9" />
<line x1="305.6" y1="710.8420193020607" x2="303.1" y2="710.8420193020607" stroke="#333" stroke-width="0.9" />
<line x1="305.6" y1="707.2273954199867" x2="303.1" y2="707.2273954199867" stroke="#333" stroke-width="0.9" />
<line x1="305.6" y1="704.1712744733492" x2="303.1" y2="704.1712744733492" stroke="#333" stroke-width="0.9" />
<line x1="305.6" y1="701.5239420938178" x2="303.1" y2="701.5239420938178" stroke="#333" stroke-width="0.9" />
<line x1="305.6" y1="699.1888294440948" x2="303.1" y2="699.1888294440948" stroke="#333" stroke-width="0.9" />
<line x1="305.6" y1="697.0999999999999" x2="301.1" y2="697.0999999999999" stroke="#333" stroke-width="0.9" />
<line x1="305.6" y1="683.3579806979392" x2="303.1" y2="683.3579806979392" stroke="#333" stroke-width="0.9" />
<line x1="305.6" y1="675.3194147220473" x2="303.1" y2="675.3194147220473" stroke="#333" stroke-width="0.9" />
<line x1="305.6" y1="669.6159613958785" x2="303.1" y2="669.6159613958785" stroke="#333" stroke-width="0.9" />
<line x1="305.6" y1="665.1920193020607" x2="303.1" y2="665.1920193020607" stroke="#333" stroke-width="0.9" />
<line x1="305.6" y1="661.5773954199866" x2="303.1" y2="661.5773954199866" stroke="#333" stroke-width="0.9" />
<line x1="305.6" y1="658.5212744733491" x2="303.1" y2="658.5212744733491" stroke="#333" stroke-width="0.9" />
<line x1="305.6" y1="655.8739420938177" x2="303.1" y2="655.8739420938177" stroke="#333" stroke-width="0.9" />
<line x1="305.6" y1="653.5388294440947" x2="303.1" y2="653.5388294440947" stroke="#333" stroke-width="0.9" />
<line x1="305.6" y1="651.4499999999999" x2="301.1" y2="651.4499999999999" stroke="#333" stroke-width="0.9" />
<line x1="305.6" y1="637.7079806979392" x2="303.1" y2="637.7079806979392" stroke="#333" stroke-width="0.9" />
<line x1="305.6" y1="629.6694147220473" x2="303.1" y2="629.6694147220473" stroke="#333" stroke-width="0.9" />
<line x1="305.6" y1="623.9659613958785" x2="303.1" y2="623.9659613958785" stroke="#333" stroke-width="0.9" />
<line x1="305.6" y1="619.5420193020607" x2="303.1" y2="619.5420193020607" stroke="#333" stroke-width="0.9" />
<line x1="305.6" y1="615.9273954199866" x2="303.1" y2="615.9273954199866" stroke="#333" stroke-width="0.9" />
<line x1="305.6" y1="612.8712744733491" x2="303.1" y2="612.8712744733491" stroke="#333" stroke-width="0.9" />
<line x1="305.6" y1="610.2239420938178" x2="303.1" y2="610.2239420938178" stroke="#333" stroke-width="0.9" />
<line x1="305.6" y1="607.8888294440948" x2="303.1" y2="607.8888294440948" stroke="#333" stroke-width="0.9" />
<line x1="305.6" y1="605.8" x2="301.1" y2="605.8" stroke="#333" stroke-width="0.9" />
<text x="144.0" y="594.0" font-size="17.5" text-anchor="middle" font-weight="normal" font-style="normal" >w/o NK cells</text>
<text x="393.5" y="594.0" font-size="17.5" text-anchor="middle" font-weight="normal" font-style="normal" >with NK cells</text>
<text x="56.0" y="622.0" font-size="17.5" text-anchor="start" font-weight="normal" font-style="normal" >3.75</text>
<text x="234.5" y="622.0" font-size="17.5" text-anchor="end" font-weight="normal" font-style="normal" >1.48</text>
<text x="56.5" y="785.3" font-size="17.5" text-anchor="start" font-weight="normal" font-style="normal" >40.4</text>
<text x="234.0" y="785.3" font-size="17.5" text-anchor="end" font-weight="normal" font-style="normal" >54.4</text>
<text x="307.5" y="621.5" font-size="17.5" text-anchor="start" font-weight="normal" font-style="normal" >26.3</text>
<text x="485.5" y="622.0" font-size="17.5" text-anchor="end" font-weight="normal" font-style="normal" >4.57</text>
<text x="307.5" y="786.5" font-size="17.5" text-anchor="start" font-weight="normal" font-style="normal" >43.7</text>
<text x="486.5" y="786.5" font-size="17.5" text-anchor="end" font-weight="normal" font-style="normal" >25.4</text>
<text x="0" y="0" font-size="17.5" text-anchor="middle" transform="translate(36.2 697.5) rotate(-90)">Annexin-V</text>
<line x1="31.0" y1="614" x2="31.0" y2="642.0" stroke="#000" stroke-width="1.8" />
<polygon points="26.4,616.8 35.6,616.8 31.0,604.4" fill="#000"/>
<line x1="31.0" y1="755" x2="31.0" y2="786.6" stroke="#000" stroke-width="1.8" />
<text x="0" y="0" font-size="17.5" text-anchor="middle" transform="translate(286.6 697.5) rotate(-90)">Annexin-V</text>
<line x1="282.5" y1="614" x2="282.5" y2="642.0" stroke="#000" stroke-width="1.8" />
<polygon points="277.9,616.8 287.1,616.8 282.5,604.4" fill="#000"/>
<line x1="282.5" y1="755" x2="282.5" y2="786.6" stroke="#000" stroke-width="1.8" />
<line x1="55.3" y1="804.3" x2="217.6" y2="804.3" stroke="#000" stroke-width="1.8" />
<text x="271.0" y="811.0" font-size="17.5" text-anchor="middle" font-weight="normal" font-style="normal" >sCD107a</text>
<line x1="333.5" y1="804.4" x2="476" y2="804.4" stroke="#000" stroke-width="1.8" />
<polygon points="473.0,800.1 486.5,804.4 473.0,808.7" fill="#000"/>
<defs><clipPath id="cL"><rect x="54.6" y="606.2" width="182.4" height="181.5999999999999"/></clipPath>
<clipPath id="cR"><rect x="305.6" y="605.8" width="182.89999999999998" height="181.80000000000007"/></clipPath></defs>
<g clip-path="url(#cL)" fill="none" stroke="#000" stroke-width="1.0" stroke-linejoin="round">
<path d="M242.8,694.9 L242.5,694.2 L242.3,693.3 L242.4,692.7 L242.1,692.0 L242.1,691.1 L241.8,690.4 L241.6,689.6 L241.3,688.9 L240.9,688.2 L240.6,687.7 L240.0,687.2 L239.3,686.8 L238.8,686.5 L238.1,686.0 L237.6,685.5 L237.1,685.0 L236.6,684.6 L236.1,684.0 L235.6,683.7 L235.1,683.2 L234.6,682.7 L234.0,682.2 L233.4,681.7 L232.8,681.3 L232.3,681.0 L231.6,680.5 L231.1,680.0 L230.4,679.7 L229.8,679.4 L229.1,679.1 L228.3,678.8 L227.8,678.5 L227.0,678.2 L226.3,678.0 L225.5,677.7 L224.7,677.5 L224.0,677.2 L223.2,677.0 L222.4,676.7 L221.8,676.4 L221.1,676.1 L220.3,675.9 L219.6,675.6 L218.8,675.3 L218.1,675.1 L217.3,674.8 L216.6,674.5 L216.0,674.2 L215.3,674.0 L214.6,673.5 L213.8,673.2 L213.1,673.0 L212.6,672.7 L211.9,672.2 L211.3,671.8 L210.8,671.5 L210.1,671.0 L209.6,670.7 L208.8,670.2 L208.3,669.8 L207.6,669.5 L207.1,669.1 L206.3,668.7 L205.8,668.3 L205.3,667.8 L204.8,667.3 L204.2,667.0 L203.8,666.3 L203.3,665.9 L202.6,665.5 L202.1,665.0 L201.6,664.6 L200.9,664.2 L200.3,663.7 L199.8,663.4 L199.2,663.0 L198.6,662.5 L198.0,662.2 L197.3,661.9 L196.6,661.6 L195.8,661.3 L195.1,661.1 L194.3,660.8 L193.6,660.5 L193.1,660.2 L192.2,660.0 L191.3,659.8 L190.6,659.5 L189.6,659.5 L188.6,659.5 L187.6,659.6 L186.6,659.6 L185.6,659.6 L184.8,659.9 L183.8,659.8 L182.8,659.8 L181.8,659.8 L181.1,660.0 L180.1,660.0 L179.1,660.0 L178.1,660.0 L177.1,660.2 L176.5,660.2 L175.6,660.1 L174.6,660.1 L173.6,660.1 L172.6,660.1 L171.8,660.4 L170.8,660.3 L169.8,660.3 L169.0,660.5 L168.1,660.5 L167.1,660.5 L166.2,660.7 L165.3,660.7 L164.3,660.8 L163.6,661.0 L162.6,661.0 L161.8,661.3 L160.8,661.3 L160.1,661.6 L159.2,661.7 L158.3,661.9 L157.8,662.2 L156.8,662.2 L156.1,662.5 L155.3,662.8 L154.6,663.1 L153.8,663.3 L152.8,663.4 L152.1,663.6 L151.3,663.4 L150.3,663.4 L149.7,663.0 L149.1,662.6 L148.3,662.3 L147.8,662.0 L147.1,661.5 L146.6,661.2 L145.8,660.8 L145.3,660.3 L144.6,660.1 L143.9,659.7 L143.3,659.8 L142.6,659.7 L141.8,659.8 L140.8,659.8 L140.1,660.1 L139.4,660.5 L138.8,660.8 L138.3,661.2 L138.0,662.0 L137.6,662.6 L137.3,663.2 L137.0,664.0 L136.8,664.7 L136.8,665.7 L136.6,666.5 L136.6,667.5 L136.3,668.2 L136.2,669.2 L136.1,670.0 L135.9,671.0 L135.8,671.7 L135.8,672.7 L136.1,673.4 L136.2,674.2 L136.3,675.2 L136.7,675.7 L136.7,676.7 L136.8,677.7 L136.5,678.5 L136.5,679.5 L136.3,680.2 L136.3,681.2 L136.0,682.0 L135.8,682.7 L135.5,683.5 L135.3,684.2 L134.9,685.0 L134.8,685.7 L134.5,686.5 L134.3,687.3 L134.1,688.0 L133.7,688.7 L133.5,689.5 L133.1,690.2 L132.8,690.8 L132.4,691.5 L132.1,692.1 L131.8,692.7 L131.3,693.4 L131.0,694.0 L130.6,694.7 L130.3,695.2 L129.9,696.0 L129.6,696.5 L129.1,697.2 L128.8,697.7 L128.5,698.5 L128.1,699.1 L127.7,699.7 L127.5,700.5 L127.1,701.1 L126.8,701.7 L126.6,702.5 L126.4,703.0 L126.1,703.6 L125.8,704.2 L125.3,704.9 L125.1,705.5 L124.7,706.2 L124.3,706.8 L123.8,707.4 L123.6,708.0 L123.1,708.6 L122.8,709.2 L122.5,710.0 L122.0,710.5 L121.8,711.2 L121.3,711.9 L121.0,712.5 L120.8,713.2 L120.6,714.0 L120.1,714.7 L119.8,715.2 L119.5,716.0 L119.3,716.7 L119.1,717.5 L118.8,718.2 L118.6,719.0 L118.3,719.7 L118.0,720.5 L117.8,721.3 L117.6,722.0 L117.4,723.0 L117.0,723.5 L116.8,724.2 L116.7,725.2 L116.7,726.2 L116.9,727.0 L117.0,728.0 L117.3,728.7 L117.6,729.4 L117.8,730.0 L118.3,730.7 L118.8,731.2 L119.2,731.7 L119.5,732.5 L119.8,733.0 L120.3,733.7 L120.8,734.1 L121.3,734.7 L121.8,735.2 L122.3,735.6 L122.8,736.1 L123.3,736.7 L123.9,737.0 L124.5,737.5 L125.1,737.9 L125.8,738.2 L126.3,738.6 L127.1,738.9 L127.7,739.2 L128.3,739.5 L129.1,739.8 L129.8,740.2 L130.3,740.5 L131.1,741.0 L131.6,741.2 L132.3,741.5 L133.1,741.9 L133.8,742.2 L134.3,742.5 L135.1,742.8 L135.8,743.1 L136.6,743.4 L137.3,743.6 L138.1,743.7 L138.6,743.9 L139.3,744.1 L140.1,744.3 L140.8,744.6 L141.6,744.9 L142.4,745.0 L143.1,745.4 L143.8,745.6 L144.6,745.8 L145.3,746.0 L146.1,746.2 L147.1,746.4 L147.8,746.5 L148.6,746.7 L149.3,747.0 L150.2,747.2 L151.1,747.3 L151.8,747.6 L152.6,747.7 L153.5,748.0 L154.3,748.1 L155.1,748.4 L156.0,748.5 L156.8,748.6 L157.6,748.7 L158.6,748.8 L159.3,749.0 L160.2,749.2 L161.1,749.2 L161.8,749.5 L162.8,749.6 L163.6,749.8 L164.6,749.8 L165.3,750.1 L166.3,750.0 L167.3,750.2 L168.1,750.2 L169.1,750.2 L169.8,750.5 L170.8,750.6 L171.6,750.7 L172.3,751.0 L173.1,750.9 L174.1,750.8 L174.9,750.7 L175.6,750.9 L176.6,750.8 L177.3,750.7 L178.3,750.6 L179.3,750.5 L180.1,750.8 L181.1,750.8 L182.1,750.9 L183.0,751.0 L183.6,751.2 L184.6,751.3 L185.6,751.3 L186.6,751.3 L187.3,751.6 L188.3,751.6 L189.2,751.7 L190.1,751.9 L191.1,751.9 L191.6,752.2 L192.6,752.4 L193.2,752.7 L194.1,752.8 L194.8,753.1 L195.6,753.2 L196.6,753.4 L197.3,753.7 L198.1,753.9 L198.9,754.0 L199.8,754.1 L200.6,754.2 L201.2,754.2 L202.1,754.4 L202.8,754.5 L203.3,754.7 L204.1,754.7 L204.9,755.0 L205.8,755.2 L206.6,755.4 L207.3,755.7 L208.3,755.7 L209.2,755.7 L210.1,755.7 L211.1,755.7 L211.8,755.5 L212.6,755.4 L213.3,755.2 L214.3,755.0 L215.0,754.7 L215.8,754.5 L216.5,754.2 L217.1,753.9 L217.8,753.7 L218.4,753.5 L219.1,753.4 L219.8,753.1 L220.6,753.0 L221.1,752.7 L221.8,752.5 L222.5,752.2 L223.1,751.9 L223.7,751.5 L224.3,751.0 L225.0,750.7 L225.6,750.4 L226.3,750.0 L226.8,749.6 L227.6,749.3 L228.2,749.0 L228.8,748.5 L229.6,748.3 L230.1,748.0 L230.8,747.5 L231.5,747.2 L232.1,746.9 L232.8,746.5 L233.4,746.2 L234.2,746.0 L234.8,745.7 L235.6,745.5 L236.4,745.2 L237.1,744.8 L237.8,744.6 L238.6,744.4 L239.3,744.0 L239.8,743.5 L240.3,743.0 L240.6,742.3 L240.9,741.7 L240.9,741.2 L241.0,740.2 L241.1,739.5 L241.2,738.5 L241.3,737.5 L241.5,736.7 L241.6,736.0 L241.8,735.0 L242.1,734.2 L242.6,733.9 L242.8,733.9 M242.8,694.1 L242.5,693.5 L242.6,692.7 L242.4,692.0 L242.2,691.2 L242.1,690.4 L242.0,689.5 L241.7,688.7 L241.3,688.1 L241.1,687.4 L240.6,686.7 L240.1,686.3 L239.6,685.8 L239.0,685.5 L238.3,685.1 L237.6,684.7 L237.1,684.5 L236.3,684.0 L235.8,683.7 L235.1,683.4 L234.3,683.2 L233.3,683.0 L232.6,682.8 L231.8,682.6 L230.9,682.5 L230.1,682.2 L229.3,682.2 L228.6,681.9 L227.6,681.9 L226.8,681.6 L225.8,681.6 L225.1,681.4 L224.1,681.4 L223.3,681.1 L222.3,681.1 L221.6,680.9 L220.6,680.9 L219.8,680.6 L218.8,680.6 L218.1,680.3 L217.2,680.2 L216.3,680.1 L215.6,679.8 L214.7,679.7 L213.8,679.5 L213.1,679.3 L212.2,679.2 L211.3,679.1 L210.6,678.9 L209.8,678.6 L208.9,678.5 L208.1,678.4 L207.3,678.2 L206.6,677.9 L205.8,677.6 L205.0,677.5 L204.1,677.3 L203.3,677.0 L202.6,676.8 L201.8,676.5 L200.8,676.6 L200.1,676.3 L199.3,676.0 L198.5,676.0 L197.6,675.7 L197.1,675.4 L196.1,675.3 L195.3,675.0 L194.6,674.9 L193.8,674.6 L192.8,674.6 L191.8,674.6 L191.1,674.4 L190.3,674.5 L189.3,674.6 L188.6,674.7 L187.6,674.8 L186.8,675.0 L185.8,675.0 L184.8,675.0 L184.3,675.2 L183.3,675.0 L182.3,675.1 L181.3,675.0 L180.3,675.2 L179.6,675.4 L178.8,675.5 L178.1,675.8 L177.2,676.0 L176.6,676.3 L175.6,676.4 L174.6,676.2 L173.6,676.3 L172.8,676.0 L172.1,675.8 L171.5,675.5 L170.8,675.2 L169.8,675.0 L169.1,674.7 L168.4,674.7 L167.6,674.7 L166.6,674.8 L165.8,675.0 L165.1,675.2 L164.3,675.5 L163.7,676.0 L163.1,676.3 L162.6,676.7 L162.0,677.2 L161.4,677.7 L160.8,678.2 L160.3,678.7 L159.9,679.2 L159.3,679.5 L158.7,680.0 L158.1,680.3 L157.6,680.8 L157.0,681.2 L156.3,681.6 L155.8,682.1 L155.2,682.5 L154.6,682.8 L154.0,683.2 L153.4,683.7 L152.8,684.0 L152.2,684.5 L151.6,684.8 L151.1,685.2 L150.4,685.7 L149.8,686.0 L149.1,686.5 L148.6,686.7 L148.1,687.3 L147.4,687.7 L146.9,688.2 L146.3,688.5 L145.8,689.0 L145.3,689.5 L144.8,690.0 L144.3,690.6 L143.8,691.1 L143.3,691.6 L142.8,692.1 L142.6,692.7 L142.1,693.2 L141.6,693.7 L141.1,694.4 L140.6,694.9 L140.3,695.5 L139.8,696.0 L139.3,696.7 L139.1,697.2 L138.6,697.7 L138.1,698.4 L137.8,699.0 L137.3,699.6 L136.9,700.2 L136.4,700.7 L136.1,701.2 L135.6,701.7 L135.1,702.4 L134.7,703.0 L134.4,703.7 L133.9,704.2 L133.6,704.8 L133.1,705.4 L132.7,706.0 L132.3,706.5 L131.8,707.2 L131.5,707.7 L131.1,708.3 L130.8,709.0 L130.6,709.7 L130.3,710.5 L130.1,711.2 L129.8,712.0 L129.5,712.7 L129.3,713.5 L129.0,714.2 L128.6,714.9 L128.3,715.5 L128.1,716.2 L127.7,717.0 L127.4,717.7 L127.1,718.2 L126.8,719.0 L126.6,719.9 L126.6,720.5 L126.4,721.2 L126.3,722.1 L126.3,723.0 L126.3,723.7 L126.5,724.7 L126.6,725.5 L126.8,726.4 L126.9,727.2 L127.1,727.8 L127.3,728.5 L127.8,729.0 L128.1,729.6 L128.4,730.2 L128.8,730.7 L129.2,731.5 L129.6,732.0 L130.1,732.5 L130.6,733.0 L131.2,733.5 L131.7,734.0 L132.3,734.3 L132.9,734.7 L133.6,735.0 L134.3,735.4 L134.8,735.9 L135.4,736.2 L136.1,736.7 L136.6,737.0 L137.2,737.5 L137.8,737.8 L138.6,738.2 L139.2,738.5 L139.8,738.7 L140.3,738.9 L141.1,739.1 L141.8,739.4 L142.5,739.7 L143.2,740.0 L143.8,740.4 L144.6,740.6 L145.3,740.9 L146.1,741.1 L146.8,741.4 L147.6,741.6 L148.3,741.9 L149.1,742.0 L149.9,742.2 L150.8,742.4 L151.3,742.7 L151.8,743.0 L152.3,742.9 L153.1,743.2 L153.8,743.4 L154.6,743.5 L155.6,743.7 L156.3,743.9 L157.1,744.2 L158.1,744.2 L158.8,744.4 L159.6,744.6 L160.6,744.5 L161.3,744.7 L162.0,744.7 L162.8,744.8 L163.6,745.0 L164.6,745.0 L165.3,745.4 L166.1,745.5 L166.8,745.8 L167.8,745.9 L168.3,746.2 L169.3,746.3 L170.1,746.6 L171.1,746.6 L171.8,746.8 L172.8,746.8 L173.8,746.8 L174.5,747.0 L175.3,746.9 L176.3,746.9 L177.1,747.1 L178.1,747.1 L179.1,747.1 L179.9,747.2 L180.8,747.4 L181.8,747.4 L182.7,747.5 L183.6,747.6 L184.6,747.6 L185.4,747.7 L186.3,747.9 L187.3,747.9 L188.1,748.2 L189.1,748.2 L189.9,748.2 L190.8,748.4 L191.8,748.4 L192.6,748.6 L193.6,748.6 L194.3,748.9 L195.3,748.9 L196.1,749.0 L196.8,749.3 L197.7,749.5 L198.6,749.7 L199.4,749.7 L200.3,749.8 L201.2,749.7 L201.8,749.9 L202.8,749.8 L203.6,750.1 L204.6,750.0 L205.6,750.0 L206.6,750.0 L207.3,750.2 L208.3,750.2 L209.3,750.2 L210.3,750.3 L211.1,750.0 L212.1,750.0 L213.1,750.1 L213.8,749.8 L214.8,749.8 L215.6,749.6 L216.3,749.4 L217.3,749.2 L217.9,749.2 L218.6,749.0 L219.3,748.8 L220.1,748.7 L220.8,748.3 L221.6,748.2 L222.3,747.9 L223.1,747.6 L223.8,747.2 L224.3,746.9 L225.1,746.6 L225.8,746.3 L226.6,746.1 L227.3,745.8 L228.1,745.5 L228.8,745.3 L229.6,745.0 L230.3,744.7 L230.9,744.5 L231.7,744.2 L232.4,744.0 L233.2,743.7 L233.8,743.4 L234.6,743.2 L235.6,743.0 L236.3,742.7 L237.1,742.5 L237.8,742.2 L238.6,742.0 L239.1,741.7 L239.6,741.0 L240.0,740.5 L240.2,739.7 L240.4,739.0 L240.6,738.2 L240.8,737.2 L241.0,736.5 L241.3,735.7 L241.4,735.0 L241.6,734.0 L241.8,733.2 L242.0,732.5 L242.5,732.0 L242.8,731.9 M242.8,695.2 L242.6,694.7 L242.6,694.0 L242.4,693.2 L242.2,692.5 L241.9,691.7 L241.7,691.0 L241.4,690.2 L241.2,689.5 L240.7,689.0 L240.3,688.4 L239.8,687.9 L239.1,687.7 L238.3,687.4 L237.6,687.2 L236.8,686.9 L236.1,686.6 L235.3,686.4 L234.6,686.1 L233.6,686.1 L232.8,685.8 L232.0,685.7 L231.1,685.6 L230.1,685.6 L229.3,685.3 L228.3,685.3 L227.3,685.3 L226.3,685.3 L225.6,685.1 L224.6,685.1 L223.6,685.1 L222.6,685.1 L221.6,685.1 L220.6,685.1 L219.6,685.1 L218.7,685.0 L217.8,684.9 L216.8,684.9 L215.8,684.9 L214.8,684.9 L213.8,684.9 L212.8,684.9 L211.8,684.9 L210.8,684.8 L209.8,684.8 L208.8,684.8 L207.9,684.7 L207.1,684.6 L206.1,684.7 L205.3,684.7 L204.3,684.8 L203.3,684.8 L202.3,684.8 L201.3,684.8 L200.5,684.7 L199.6,684.7 L198.6,684.7 L197.7,684.7 L196.8,684.8 L195.8,684.8 L194.8,684.9 L193.8,684.9 L192.8,684.8 L192.1,684.7 L191.1,684.6 L190.1,684.6 L189.1,684.5 L188.1,684.5 L187.3,684.4 L186.6,684.6 L185.6,684.6 L184.6,684.6 L183.6,684.7 L182.7,684.7 L181.8,684.7 L180.8,684.7 L179.8,684.8 L178.9,685.0 L178.1,685.0 L177.1,685.1 L176.1,685.1 L175.1,685.0 L174.2,685.2 L173.3,685.2 L172.6,685.2 L171.6,685.1 L170.6,685.2 L169.8,685.3 L168.8,685.4 L168.1,685.5 L167.3,685.8 L166.3,685.8 L165.6,686.1 L164.6,686.1 L163.7,686.2 L162.8,686.3 L162.1,686.5 L161.1,686.5 L160.3,686.8 L159.6,687.1 L158.6,687.1 L157.8,687.3 L157.1,687.6 L156.3,687.9 L155.6,688.1 L154.8,688.3 L154.1,688.6 L153.3,688.8 L152.7,689.2 L152.1,689.5 L151.3,689.8 L150.8,690.3 L150.2,690.7 L149.6,691.1 L149.1,691.6 L148.5,692.0 L148.1,692.5 L147.6,693.0 L147.1,693.5 L146.6,694.0 L146.1,694.7 L145.6,695.2 L145.1,695.7 L144.8,696.2 L144.3,696.7 L143.8,697.4 L143.6,698.0 L143.1,698.5 L142.6,699.2 L142.3,699.7 L141.8,700.2 L141.5,701.0 L141.0,701.5 L140.6,702.1 L140.2,702.7 L139.8,703.3 L139.4,704.0 L139.1,704.5 L138.7,705.2 L138.4,706.0 L138.1,706.5 L137.7,707.2 L137.3,707.7 L136.9,708.5 L136.6,709.2 L136.3,709.7 L135.9,710.5 L135.7,711.2 L135.3,711.8 L135.0,712.5 L134.7,713.2 L134.5,714.0 L134.1,714.6 L133.8,715.2 L133.5,716.0 L133.3,716.7 L133.0,717.5 L132.8,718.2 L132.5,719.0 L132.2,719.7 L131.9,720.5 L131.9,721.5 L131.7,722.2 L131.7,723.2 L131.7,724.2 L131.7,725.2 L131.9,726.0 L132.2,726.7 L132.4,727.5 L132.8,728.2 L133.1,728.7 L133.6,729.4 L134.1,729.9 L134.6,730.4 L135.1,730.9 L135.6,731.4 L136.1,731.9 L136.6,732.4 L137.1,732.7 L137.6,733.2 L138.3,733.7 L138.8,734.0 L139.6,734.4 L140.1,734.9 L140.8,735.2 L141.4,735.5 L142.1,735.9 L142.7,736.2 L143.3,736.6 L144.1,736.8 L144.8,737.1 L145.5,737.5 L146.2,737.7 L146.8,738.1 L147.6,738.4 L148.3,738.6 L149.1,738.9 L149.8,739.1 L150.6,739.4 L151.3,739.6 L152.1,739.9 L153.0,740.0 L153.7,740.2 L154.6,740.3 L155.3,740.6 L156.1,740.9 L156.9,741.0 L157.8,741.1 L158.6,741.4 L159.3,741.6 L160.2,741.7 L161.1,741.8 L161.8,742.0 L162.8,742.0 L163.4,742.2 L164.1,742.2 L164.8,742.5 L165.8,742.7 L166.6,742.8 L167.3,743.1 L168.3,743.2 L169.1,743.4 L170.1,743.4 L170.8,743.7 L171.8,743.7 L172.6,743.9 L173.6,743.9 L174.6,743.8 L175.3,744.1 L176.3,744.1 L177.1,744.3 L178.1,744.3 L179.1,744.3 L179.8,744.6 L180.8,744.6 L181.8,744.6 L182.6,744.8 L183.6,744.8 L184.6,744.8 L185.5,745.0 L186.3,745.1 L187.3,745.1 L188.3,745.1 L189.2,745.2 L190.1,745.4 L191.1,745.4 L192.1,745.4 L193.1,745.4 L193.8,745.6 L194.8,745.6 L195.8,745.6 L196.8,745.6 L197.8,745.6 L198.8,745.7 L199.8,745.7 L200.6,745.9 L201.6,745.9 L202.6,745.9 L203.6,745.9 L204.6,745.9 L205.6,745.8 L206.6,745.8 L207.6,745.7 L208.4,745.7 L209.3,745.7 L210.1,745.4 L211.1,745.4 L212.0,745.5 L212.8,745.5 L213.6,745.5 L214.6,745.3 L215.6,745.3 L216.3,745.1 L217.3,745.1 L218.1,744.9 L219.1,744.9 L219.8,744.6 L220.7,744.5 L221.6,744.3 L222.3,744.0 L223.1,743.7 L223.8,743.5 L224.6,743.2 L225.4,743.2 L226.2,743.0 L227.1,742.8 L227.8,742.5 L228.6,742.3 L229.3,742.1 L230.1,741.8 L230.8,741.6 L231.6,741.3 L232.3,741.1 L233.1,740.8 L233.8,740.6 L234.6,740.3 L235.3,740.0 L236.1,739.7 L236.8,739.5 L237.3,739.2 L238.1,738.7 L238.5,738.2 L239.1,737.7 L239.4,737.2 L239.8,736.5 L240.1,735.9 L240.5,735.2 L240.8,734.5 L241.1,733.7 L241.3,733.1 L241.6,732.2 L241.7,731.5 L242.0,730.7 L242.2,730.0 L242.3,729.0 L242.8,728.7 L242.8,728.7 M242.8,698.0 L242.1,697.9 L241.3,697.5 L240.8,697.0 L240.4,696.5 L240.1,695.8 L240.0,695.0 L239.8,694.2 L239.6,693.5 L239.3,692.5 L239.1,691.9 L238.8,691.2 L238.3,690.5 L237.8,690.0 L237.1,689.7 L236.5,689.5 L235.8,689.1 L235.1,688.7 L234.3,688.5 L233.7,688.2 L232.9,688.0 L232.2,687.7 L231.4,687.5 L230.6,687.3 L229.8,687.2 L229.1,687.0 L228.1,686.8 L227.1,686.8 L226.1,686.7 L225.3,686.5 L224.6,686.4 L223.6,686.3 L222.6,686.3 L221.6,686.2 L220.8,686.2 L219.8,686.1 L218.8,686.1 L218.1,685.8 L217.1,685.8 L216.1,685.8 L215.1,685.7 L214.2,685.7 L213.3,685.6 L212.3,685.6 L211.3,685.6 L210.3,685.5 L209.3,685.5 L208.3,685.5 L207.6,685.4 L206.6,685.4 L205.8,685.5 L204.8,685.6 L203.8,685.7 L203.1,685.7 L202.1,685.8 L201.1,685.8 L200.1,685.8 L199.1,685.9 L198.3,686.0 L197.3,686.1 L196.6,686.3 L195.6,686.4 L194.8,686.5 L193.8,686.6 L192.8,686.6 L191.8,686.6 L190.8,686.6 L189.8,686.6 L188.8,686.6 L187.8,686.7 L187.1,686.8 L186.1,686.9 L185.1,686.8 L184.1,686.8 L183.1,686.7 L182.3,686.7 L181.3,686.7 L180.3,686.7 L179.6,686.7 L178.6,686.9 L177.6,686.9 L176.6,686.9 L175.6,686.8 L174.6,686.9 L173.8,687.0 L173.1,686.9 L172.1,686.8 L171.1,686.9 L170.3,687.0 L169.3,687.1 L168.6,687.2 L167.8,687.5 L166.8,687.6 L166.1,687.8 L165.3,688.0 L164.3,688.1 L163.6,688.3 L162.8,688.5 L162.0,688.7 L161.3,689.0 L160.5,689.2 L159.7,689.5 L159.0,689.7 L158.3,690.0 L157.6,690.2 L156.8,690.5 L156.1,690.8 L155.3,691.1 L154.6,691.4 L154.0,691.7 L153.3,692.1 L152.8,692.5 L152.1,692.9 L151.6,693.4 L151.1,693.8 L150.6,694.3 L150.1,694.8 L149.6,695.4 L149.1,696.0 L148.8,696.5 L148.3,697.0 L147.8,697.5 L147.4,698.2 L146.9,698.7 L146.5,699.2 L146.1,699.8 L145.6,700.5 L145.2,701.0 L144.8,701.5 L144.4,702.2 L144.1,702.7 L143.6,703.5 L143.3,704.0 L142.9,704.7 L142.6,705.2 L142.2,706.0 L141.8,706.5 L141.5,707.2 L141.1,708.0 L140.8,708.5 L140.4,709.2 L140.1,709.8 L139.8,710.5 L139.5,711.2 L139.2,712.0 L139.0,712.7 L138.7,713.5 L138.4,714.2 L138.3,715.0 L138.0,715.7 L137.7,716.5 L137.4,717.2 L137.2,718.0 L136.9,718.7 L136.6,719.5 L136.5,720.2 L136.3,721.0 L136.1,721.7 L135.9,722.7 L135.8,723.5 L135.9,724.2 L136.1,725.0 L136.4,725.7 L136.8,726.5 L137.1,727.0 L137.6,727.6 L138.0,728.2 L138.4,728.7 L138.8,729.3 L139.3,729.8 L139.8,730.3 L140.3,730.8 L141.0,731.2 L141.6,731.6 L142.1,732.0 L142.8,732.3 L143.6,732.6 L144.1,733.0 L144.8,733.3 L145.6,733.7 L146.1,734.0 L146.8,734.5 L147.4,734.7 L148.1,735.1 L148.7,735.5 L149.3,735.7 L150.1,736.1 L150.8,736.4 L151.6,736.7 L152.3,736.9 L153.1,737.2 L153.8,737.4 L154.6,737.6 L155.3,737.8 L156.1,738.1 L156.8,738.3 L157.6,738.5 L158.3,738.8 L159.1,739.0 L159.8,739.2 L160.8,739.4 L161.6,739.5 L162.6,739.7 L163.3,739.8 L164.2,740.0 L165.1,740.2 L165.8,740.3 L166.6,740.5 L167.6,740.7 L168.3,740.9 L169.1,741.0 L169.8,741.2 L170.8,741.3 L171.6,741.5 L172.3,741.4 L173.1,741.5 L174.1,741.6 L175.1,741.5 L176.1,741.7 L177.1,741.7 L177.8,741.8 L178.8,741.9 L179.8,742.0 L180.6,742.2 L181.6,742.2 L182.5,742.2 L183.3,742.4 L184.3,742.3 L185.3,742.3 L186.3,742.4 L187.3,742.4 L188.3,742.3 L189.3,742.2 L190.2,742.5 L191.1,742.6 L192.1,742.6 L193.1,742.7 L193.8,742.7 L194.8,743.0 L195.6,743.0 L196.6,743.0 L197.6,743.1 L198.6,743.1 L199.3,743.2 L200.3,743.3 L201.1,743.6 L202.0,743.7 L202.8,743.7 L203.8,743.8 L204.8,743.8 L205.8,743.7 L206.6,743.7 L207.6,743.6 L208.6,743.5 L209.3,743.3 L210.3,743.3 L211.3,743.3 L212.3,743.3 L213.1,743.2 L214.1,743.1 L215.1,743.1 L215.8,742.9 L216.6,743.0 L217.3,742.9 L218.3,742.9 L219.1,742.7 L220.1,742.5 L220.8,742.3 L221.6,742.0 L222.3,741.7 L223.1,741.5 L223.8,741.2 L224.6,741.0 L225.3,740.7 L226.1,740.5 L226.8,740.3 L227.6,740.1 L228.3,739.9 L229.1,739.7 L229.9,739.5 L230.6,739.2 L231.3,738.9 L232.1,738.6 L232.8,738.2 L233.4,738.0 L234.1,737.6 L234.8,737.2 L235.3,736.9 L236.1,736.5 L236.6,736.1 L237.1,735.5 L237.5,735.0 L237.8,734.3 L238.2,733.7 L238.5,733.0 L238.8,732.2 L239.1,731.5 L239.3,730.7 L239.5,730.0 L239.8,729.2 L239.9,728.5 L240.3,727.7 L240.6,727.2 L241.1,726.6 L241.7,726.2 L242.3,725.9 L242.8,725.8 M242.8,701.1 L242.1,700.9 L241.3,700.6 L240.7,700.2 L240.1,699.8 L239.6,699.5 L239.0,699.0 L238.6,698.4 L238.1,697.7 L237.8,697.2 L237.6,696.5 L237.3,695.5 L237.2,694.7 L237.0,694.0 L236.7,693.2 L236.4,692.5 L235.8,692.1 L235.2,691.7 L234.6,691.3 L233.9,691.0 L233.3,690.7 L232.6,690.3 L231.8,690.0 L231.2,689.7 L230.6,689.4 L229.7,689.2 L228.9,689.0 L228.1,688.7 L227.3,688.6 L226.4,688.5 L225.6,688.2 L224.9,688.0 L224.1,687.8 L223.3,687.7 L222.3,687.5 L221.6,687.4 L220.6,687.3 L219.8,687.2 L218.8,687.1 L218.1,686.9 L217.1,686.8 L216.3,686.7 L215.3,686.6 L214.3,686.6 L213.3,686.5 L212.6,686.4 L211.6,686.4 L210.6,686.3 L209.6,686.3 L208.6,686.3 L207.6,686.3 L206.9,686.2 L206.1,686.3 L205.1,686.4 L204.3,686.5 L203.3,686.7 L202.6,686.7 L201.6,686.8 L200.6,686.9 L199.8,687.0 L198.8,687.2 L198.1,687.4 L197.3,687.6 L196.6,687.8 L195.8,688.0 L195.1,688.2 L194.1,688.4 L193.3,688.5 L192.3,688.7 L191.6,688.7 L190.6,688.8 L189.6,688.9 L188.8,689.0 L188.1,689.2 L187.2,689.5 L186.3,689.6 L185.6,689.4 L184.6,689.3 L183.7,689.2 L182.8,689.1 L181.8,689.0 L181.1,688.9 L180.1,688.9 L179.1,688.9 L178.1,688.9 L177.1,688.8 L176.1,688.8 L175.1,688.9 L174.1,688.9 L173.1,688.9 L172.1,688.8 L171.3,689.0 L170.3,689.0 L169.3,689.1 L168.6,689.2 L167.6,689.4 L166.8,689.5 L166.1,689.8 L165.3,690.0 L164.6,690.2 L163.8,690.5 L163.1,690.8 L162.3,691.1 L161.7,691.5 L161.1,691.7 L160.3,692.0 L159.6,692.3 L158.8,692.7 L158.2,693.0 L157.6,693.2 L156.8,693.6 L156.1,693.9 L155.6,694.2 L154.9,694.7 L154.3,695.1 L153.8,695.5 L153.3,696.0 L152.8,696.5 L152.3,697.1 L151.8,697.7 L151.5,698.2 L151.1,698.7 L150.6,699.3 L150.1,699.9 L149.6,700.5 L149.2,701.0 L148.8,701.5 L148.3,702.1 L147.9,702.7 L147.6,703.2 L147.2,704.0 L146.8,704.7 L146.6,705.2 L146.2,706.0 L145.9,706.7 L145.6,707.4 L145.3,708.0 L145.0,708.7 L144.6,709.5 L144.3,710.0 L144.0,710.7 L143.6,711.5 L143.3,712.1 L143.1,712.7 L142.8,713.5 L142.6,714.2 L142.3,715.1 L142.1,716.0 L142.0,716.7 L141.8,717.5 L141.5,718.2 L141.3,719.0 L141.1,719.7 L140.8,720.5 L140.6,721.5 L140.4,722.2 L140.3,723.0 L140.3,724.0 L140.6,724.5 L141.1,725.2 L141.4,725.7 L141.8,726.2 L142.3,726.8 L142.8,727.4 L143.3,727.9 L143.8,728.4 L144.3,728.8 L145.0,729.2 L145.6,729.6 L146.1,730.0 L146.8,730.3 L147.5,730.7 L148.1,731.1 L148.8,731.4 L149.3,731.7 L150.1,732.1 L150.6,732.5 L151.3,732.9 L152.0,733.2 L152.6,733.5 L153.3,733.9 L154.1,734.2 L154.8,734.5 L155.3,734.7 L156.1,735.0 L156.8,735.3 L157.6,735.6 L158.3,735.9 L159.1,736.2 L159.7,736.5 L160.4,736.7 L161.3,737.0 L162.1,737.2 L162.8,737.4 L163.6,737.5 L164.6,737.7 L165.3,737.8 L166.1,738.0 L167.1,738.2 L167.8,738.3 L168.6,738.5 L169.6,738.6 L170.3,738.8 L171.3,738.9 L172.1,739.1 L173.1,739.1 L173.8,739.2 L174.6,739.2 L175.3,739.2 L176.3,739.3 L177.3,739.4 L178.1,739.5 L179.1,739.5 L180.1,739.6 L180.8,739.7 L181.6,739.7 L182.6,739.6 L183.6,739.7 L184.6,739.6 L185.6,739.5 L186.3,739.4 L187.3,739.4 L188.3,739.3 L189.1,739.2 L190.1,739.2 L190.8,739.4 L191.6,739.5 L192.6,739.6 L193.5,739.7 L194.3,739.8 L195.1,740.0 L196.1,740.1 L197.1,740.1 L198.1,740.2 L198.8,740.3 L199.8,740.4 L200.6,740.5 L201.3,740.8 L202.1,741.0 L203.1,741.1 L203.8,741.3 L204.8,741.4 L205.8,741.4 L206.8,741.4 L207.8,741.4 L208.8,741.2 L209.6,741.1 L210.6,741.1 L211.6,741.1 L212.6,741.0 L213.3,740.9 L214.3,740.8 L215.2,740.7 L216.1,740.6 L217.1,740.6 L218.1,740.5 L218.8,740.4 L219.8,740.2 L220.5,740.0 L221.2,739.7 L221.8,739.4 L222.6,739.1 L223.3,738.8 L224.1,738.5 L224.8,738.2 L225.6,738.0 L226.3,737.8 L227.1,737.6 L227.8,737.4 L228.6,737.2 L229.3,736.9 L230.1,736.5 L230.8,736.2 L231.3,735.9 L232.1,735.5 L232.7,735.2 L233.3,734.9 L234.1,734.5 L234.6,734.2 L235.1,733.7 L235.6,733.0 L235.9,732.5 L236.2,731.7 L236.6,731.0 L236.8,730.2 L237.1,729.5 L237.3,728.8 L237.6,728.0 L237.8,727.2 L238.1,726.6 L238.5,726.0 L238.8,725.3 L239.3,724.7 L239.7,724.2 L240.2,723.7 L240.8,723.2 L241.3,722.8 L242.1,722.5 L242.7,722.2 L242.8,722.1 M242.8,706.8 L242.3,706.4 L241.8,706.0 L241.3,705.5 L240.8,705.0 L240.3,704.5 L239.8,704.0 L239.3,703.5 L238.8,703.0 L238.3,702.5 L237.8,701.9 L237.3,701.3 L236.8,700.7 L236.5,700.2 L236.1,699.7 L235.7,699.0 L235.3,698.2 L235.1,697.6 L234.8,696.8 L234.7,696.0 L234.5,695.2 L234.1,694.5 L233.6,694.1 L233.1,693.7 L232.4,693.2 L231.8,692.8 L231.2,692.5 L230.6,692.1 L229.8,691.7 L229.2,691.5 L228.6,691.1 L227.8,690.8 L227.1,690.6 L226.3,690.3 L225.6,690.0 L225.0,689.7 L224.3,689.4 L223.6,689.2 L222.8,688.9 L221.9,688.7 L221.1,688.5 L220.3,688.4 L219.4,688.2 L218.6,688.1 L217.8,687.9 L216.8,687.7 L216.1,687.6 L215.1,687.5 L214.3,687.4 L213.3,687.3 L212.3,687.3 L211.3,687.2 L210.6,687.1 L209.6,687.1 L208.6,687.1 L207.6,687.1 L206.6,687.1 L205.7,687.2 L204.8,687.4 L204.1,687.5 L203.1,687.7 L202.3,687.8 L201.4,688.0 L200.6,688.1 L199.8,688.3 L199.1,688.5 L198.3,688.8 L197.6,689.0 L196.8,689.3 L196.1,689.6 L195.3,689.9 L194.6,690.2 L193.8,690.4 L193.1,690.7 L192.3,690.9 L191.6,691.2 L190.9,691.5 L190.1,691.7 L189.4,692.0 L188.8,692.2 L188.1,692.6 L187.3,692.9 L186.6,693.0 L185.8,692.7 L185.1,692.5 L184.3,692.2 L183.6,692.0 L182.8,691.8 L182.1,691.7 L181.2,691.5 L180.3,691.3 L179.4,691.2 L178.6,691.1 L177.8,690.9 L176.8,690.8 L175.8,690.8 L174.8,690.9 L173.8,690.9 L172.8,690.9 L172.0,691.0 L171.1,691.1 L170.1,691.1 L169.1,691.2 L168.3,691.4 L167.6,691.5 L166.8,691.7 L166.1,692.0 L165.3,692.3 L164.6,692.7 L164.1,693.0 L163.4,693.5 L162.8,693.7 L162.1,694.2 L161.6,694.5 L160.8,694.8 L160.1,695.2 L159.6,695.5 L158.8,695.8 L158.2,696.2 L157.6,696.5 L156.9,697.0 L156.3,697.4 L155.8,697.9 L155.3,698.4 L154.9,699.0 L154.5,699.5 L154.1,700.0 L153.6,700.7 L153.3,701.2 L152.8,701.7 L152.4,702.5 L152.0,703.0 L151.6,703.6 L151.2,704.2 L150.8,704.9 L150.6,705.5 L150.3,706.2 L149.9,707.0 L149.6,707.7 L149.3,708.3 L149.1,709.0 L148.7,709.7 L148.4,710.5 L148.1,711.0 L147.8,711.7 L147.4,712.5 L147.1,713.1 L146.8,713.7 L146.6,714.5 L146.3,715.2 L146.1,716.2 L146.0,717.0 L145.8,717.7 L145.7,718.7 L145.5,719.5 L145.3,720.3 L145.2,721.2 L145.1,722.0 L145.2,722.7 L145.6,723.2 L146.1,724.0 L146.4,724.5 L146.8,725.0 L147.3,725.5 L147.8,726.0 L148.3,726.5 L149.0,727.0 L149.6,727.4 L150.1,727.7 L150.8,728.2 L151.3,728.6 L151.8,729.0 L152.5,729.5 L153.1,730.0 L153.6,730.4 L154.1,730.7 L154.8,731.2 L155.3,731.5 L156.1,731.9 L156.8,732.2 L157.3,732.5 L158.1,732.8 L158.8,733.2 L159.4,733.5 L160.1,733.8 L160.8,734.2 L161.5,734.5 L162.1,734.7 L162.8,735.0 L163.7,735.2 L164.6,735.4 L165.3,735.6 L166.1,735.7 L167.1,735.9 L167.8,736.0 L168.8,736.1 L169.6,736.2 L170.6,736.4 L171.3,736.5 L172.3,736.7 L173.2,736.7 L174.1,736.8 L175.1,736.8 L176.1,737.0 L176.8,737.0 L177.8,737.1 L178.6,737.2 L179.6,737.2 L180.6,737.3 L181.6,737.2 L182.3,737.1 L183.3,737.0 L184.1,736.9 L184.8,736.7 L185.8,736.5 L186.6,736.3 L187.6,736.2 L188.3,736.1 L189.1,735.9 L190.1,735.8 L190.8,736.1 L191.6,736.4 L192.3,736.6 L193.1,736.8 L193.8,737.0 L194.8,737.2 L195.6,737.4 L196.3,737.6 L197.3,737.7 L198.1,737.8 L199.0,738.0 L199.8,738.1 L200.6,738.2 L201.6,738.4 L202.3,738.6 L203.1,738.7 L204.1,738.9 L204.8,739.0 L205.8,739.0 L206.8,739.1 L207.8,739.1 L208.8,739.0 L209.6,738.9 L210.3,739.0 L211.3,739.0 L212.1,738.9 L213.1,738.7 L213.8,738.6 L214.8,738.5 L215.6,738.3 L216.6,738.2 L217.3,738.1 L218.3,738.0 L219.1,737.8 L219.8,737.6 L220.6,737.3 L221.3,737.0 L222.1,736.7 L222.6,736.4 L223.3,736.2 L224.1,735.9 L224.8,735.6 L225.6,735.4 L226.3,735.2 L227.1,734.9 L227.8,734.6 L228.6,734.3 L229.2,734.0 L229.8,733.6 L230.6,733.2 L231.1,732.9 L231.8,732.5 L232.4,732.2 L233.1,731.8 L233.5,731.2 L233.8,730.6 L234.2,730.0 L234.5,729.2 L234.8,728.5 L235.0,727.7 L235.3,727.0 L235.5,726.2 L235.8,725.5 L236.1,724.9 L236.5,724.2 L236.8,723.5 L237.2,723.0 L237.6,722.3 L238.0,721.7 L238.5,721.2 L238.9,720.7 L239.4,720.2 L239.9,719.7 L240.4,719.2 L241.0,718.7 L241.6,718.3 L242.1,717.9 L242.8,717.5 L242.8,717.4 M208.2,736.7 L209.1,736.7 L210.1,736.7 L211.1,736.7 L212.1,736.5 L212.8,736.4 L213.8,736.3 L214.6,736.2 L215.5,736.0 L216.3,735.8 L217.1,735.7 L218.1,735.5 L218.8,735.3 L219.6,735.1 L220.3,734.9 L221.1,734.7 L221.8,734.3 L222.6,734.1 L223.3,733.8 L224.1,733.5 L224.8,733.2 L225.5,733.0 L226.1,732.7 L226.8,732.3 L227.6,732.0 L228.1,731.6 L228.8,731.2 L229.3,730.9 L230.0,730.5 L230.6,730.0 L231.1,729.7 L231.5,729.0 L231.8,728.3 L232.1,727.7 L232.4,727.0 L232.6,726.2 L232.9,725.5 L233.2,724.7 L233.5,724.0 L233.8,723.2 L234.1,722.7 L234.5,722.0 L234.8,721.3 L235.2,720.7 L235.6,720.0 L235.9,719.5 L236.3,718.7 L236.7,718.2 L237.1,717.5 L237.5,717.0 L237.8,716.3 L238.2,715.7 L238.6,715.0 L238.9,714.5 L239.3,713.7 L239.6,713.2 L240.1,712.5 L240.1,711.8 L239.7,711.2 L239.3,710.5 L239.0,710.0 L238.6,709.2 L238.3,708.7 L237.8,708.0 L237.5,707.5 L237.1,706.9 L236.7,706.2 L236.3,705.7 L235.8,705.0 L235.6,704.5 L235.1,703.7 L234.8,703.2 L234.5,702.5 L234.1,701.8 L233.8,701.2 L233.5,700.5 L233.2,699.7 L232.8,699.0 L232.6,698.3 L232.3,697.7 L232.1,696.9 L231.6,696.3 L231.1,695.9 L230.6,695.4 L230.1,695.0 L229.5,694.5 L228.9,694.0 L228.3,693.6 L227.8,693.2 L227.1,692.7 L226.5,692.5 L225.8,692.1 L225.1,691.7 L224.6,691.3 L223.9,691.0 L223.3,690.7 L222.6,690.3 L221.8,690.0 L221.1,689.7 L220.3,689.5 L219.6,689.3 L218.8,689.2 L218.0,689.0 L217.1,688.7 L216.3,688.6 L215.3,688.5 L214.6,688.4 L213.6,688.3 L212.8,688.2 L211.8,688.1 L210.8,688.1 L210.1,687.9 L209.1,687.8 L208.1,687.9 L207.1,687.9 L206.3,688.0 L205.3,688.2 L204.6,688.3 L203.8,688.5 L203.1,688.7 L202.1,688.9 L201.3,689.2 L200.6,689.4 L199.8,689.7 L199.2,690.0 L198.6,690.2 L197.8,690.6 L197.2,691.0 L196.6,691.3 L195.8,691.6 L195.2,692.0 L194.6,692.3 L193.9,692.7 L193.3,693.1 L192.8,693.5 L192.1,693.9 L191.6,694.3 L191.0,694.7 L190.3,695.1 L189.8,695.5 L189.2,696.0 L188.6,696.4 L188.1,696.8 L187.6,697.2 L186.9,697.0 L186.3,696.7 L185.6,696.4 L184.8,696.0 L184.1,695.7 L183.6,695.5 L182.8,695.1 L182.1,694.7 L181.6,694.4 L180.8,694.1 L180.1,693.8 L179.3,693.5 L178.6,693.3 L177.8,693.1 L177.1,692.9 L176.1,692.8 L175.1,692.8 L174.1,692.9 L173.1,692.9 L172.3,693.0 L171.3,693.1 L170.4,693.2 L169.6,693.3 L168.8,693.5 L168.1,693.8 L167.3,694.0 L166.6,694.4 L166.1,694.8 L165.4,695.2 L164.8,695.6 L164.3,696.0 L163.7,696.5 L163.1,696.8 L162.5,697.2 L161.8,697.6 L161.3,698.0 L160.6,698.4 L160.1,698.7 L159.4,699.2 L158.8,699.6 L158.3,700.0 L157.8,700.5 L157.3,701.1 L156.9,701.7 L156.5,702.2 L156.1,702.9 L155.7,703.5 L155.3,704.1 L155.0,704.7 L154.6,705.4 L154.3,706.0 L153.9,706.7 L153.6,707.3 L153.3,708.0 L153.0,708.7 L152.7,709.5 L152.4,710.2 L152.1,711.0 L151.8,711.6 L151.6,712.2 L151.3,713.0 L150.9,713.7 L150.6,714.5 L150.4,715.2 L150.2,716.0 L150.0,716.7 L149.9,717.7 L149.8,718.5 L149.6,719.5 L149.6,720.2 L149.6,721.1 L150.0,721.7 L150.3,722.3 L150.8,723.0 L151.2,723.5 L151.6,724.0 L152.1,724.5 L152.6,725.0 L153.1,725.5 L153.6,726.0 L154.1,726.5 L154.6,727.1 L155.1,727.6 L155.6,728.1 L156.1,728.5 L156.6,729.0 L157.3,729.4 L157.9,729.7 L158.6,730.1 L159.2,730.5 L159.8,730.8 L160.5,731.2 L161.1,731.6 L161.8,731.9 L162.4,732.2 L163.1,732.5 L163.8,732.8 L164.6,733.1 L165.3,733.3 L166.1,733.5 L167.1,733.6 L167.8,733.7 L168.8,733.8 L169.8,733.9 L170.6,734.0 L171.6,734.1 L172.6,734.2 L173.3,734.2 L174.3,734.3 L175.3,734.4 L176.1,734.5 L177.1,734.6 L177.9,734.7 L178.8,734.7 L179.8,734.8 L180.8,734.7 L181.6,734.6 L182.6,734.5 L183.3,734.3 L184.1,734.1 L184.8,733.9 L185.6,733.7 L186.3,733.4 L187.1,733.2 L187.9,733.0 L188.6,732.7 L189.3,732.3 L190.1,732.1 L190.8,732.4 L191.3,732.8 L192.1,733.2 L192.6,733.5 L193.3,733.8 L194.1,734.1 L194.8,734.4 L195.6,734.7 L196.2,735.0 L197.1,735.2 L197.8,735.4 L198.6,735.6 L199.3,735.7 L200.3,736.0 L201.1,736.1 L201.8,736.2 L202.8,736.4 L203.6,736.5 L204.6,736.6 L205.6,736.6 L206.6,736.6 L207.3,736.7 L208.2,736.7 L208.2,736.7Z M212.3,734.2 L213.1,734.2 L214.1,734.0 L214.8,733.8 L215.6,733.7 L216.6,733.5 L217.3,733.3 L218.1,733.2 L218.9,733.0 L219.8,732.7 L220.6,732.5 L221.2,732.2 L221.8,731.9 L222.6,731.6 L223.3,731.3 L224.1,731.0 L224.7,730.7 L225.3,730.3 L226.0,730.0 L226.6,729.5 L227.1,729.1 L227.7,728.7 L228.2,728.2 L228.7,727.7 L229.1,727.2 L229.4,726.5 L229.7,725.7 L230.0,725.0 L230.3,724.2 L230.6,723.5 L230.8,722.7 L231.1,722.2 L231.5,721.5 L231.8,720.7 L232.1,720.2 L232.4,719.5 L232.8,718.7 L233.0,718.0 L233.3,717.2 L233.6,716.5 L233.8,715.7 L234.0,715.0 L234.2,714.2 L234.4,713.5 L234.6,712.7 L234.7,711.7 L234.5,711.0 L234.3,710.2 L234.1,709.2 L233.9,708.5 L233.6,707.8 L233.3,707.2 L233.1,706.5 L232.7,705.7 L232.4,705.0 L232.1,704.2 L231.8,703.6 L231.6,703.0 L231.3,702.2 L231.0,701.5 L230.7,700.7 L230.5,700.0 L230.2,699.2 L229.8,698.7 L229.3,698.0 L228.9,697.5 L228.4,697.0 L228.0,696.5 L227.6,695.9 L227.1,695.3 L226.6,694.8 L226.1,694.5 L225.5,694.0 L224.8,693.5 L224.3,693.1 L223.7,692.7 L223.1,692.3 L222.6,691.9 L221.9,691.5 L221.3,691.2 L220.6,690.8 L219.8,690.6 L219.1,690.4 L218.3,690.1 L217.6,689.9 L216.6,689.7 L215.8,689.6 L215.1,689.4 L214.1,689.3 L213.3,689.2 L212.3,689.1 L211.3,689.0 L210.6,688.9 L209.8,688.7 L208.8,688.7 L208.1,688.8 L207.1,688.7 L206.1,688.9 L205.3,689.1 L204.6,689.3 L203.8,689.5 L203.1,689.8 L202.3,690.0 L201.6,690.3 L200.8,690.6 L200.3,691.0 L199.6,691.3 L199.1,691.7 L198.3,692.2 L197.8,692.5 L197.2,693.0 L196.6,693.3 L196.1,693.7 L195.4,694.2 L194.9,694.7 L194.4,695.2 L193.8,695.7 L193.3,696.2 L192.8,696.6 L192.3,697.0 L191.8,697.5 L191.3,698.0 L190.8,698.5 L190.3,699.0 L189.8,699.6 L189.3,700.2 L188.9,700.7 L188.5,701.2 L188.0,701.5 L187.4,701.0 L186.8,700.5 L186.3,700.2 L185.6,699.7 L185.1,699.4 L184.3,699.0 L183.7,698.7 L183.1,698.3 L182.5,698.0 L181.8,697.5 L181.3,697.2 L180.6,696.7 L180.1,696.4 L179.3,696.0 L178.8,695.7 L178.1,695.4 L177.3,695.2 L176.3,695.0 L175.6,694.9 L174.6,694.9 L173.6,694.9 L172.6,694.9 L171.8,695.1 L171.1,695.2 L170.2,695.5 L169.5,695.7 L168.8,696.0 L168.1,696.4 L167.6,696.8 L167.0,697.2 L166.4,697.7 L165.8,698.1 L165.3,698.5 L164.8,699.0 L164.2,699.5 L163.6,699.9 L163.1,700.4 L162.6,700.7 L162.1,701.2 L161.5,701.7 L161.0,702.2 L160.5,702.7 L160.0,703.2 L159.5,703.7 L159.1,704.3 L158.7,705.0 L158.3,705.6 L158.0,706.2 L157.6,707.0 L157.3,707.5 L157.1,708.2 L156.7,709.0 L156.4,709.7 L156.1,710.3 L155.8,711.1 L155.6,711.8 L155.3,712.5 L155.1,713.4 L154.8,714.1 L154.6,715.0 L154.5,715.7 L154.3,716.5 L154.1,717.2 L153.9,718.2 L153.8,719.0 L153.9,719.7 L154.2,720.5 L154.6,721.1 L154.9,721.7 L155.3,722.5 L155.6,723.0 L156.1,723.7 L156.4,724.2 L156.8,724.8 L157.3,725.4 L157.8,725.9 L158.3,726.4 L158.8,726.8 L159.4,727.2 L160.1,727.7 L160.6,728.0 L161.2,728.5 L161.8,728.9 L162.3,729.3 L163.0,729.7 L163.6,730.0 L164.3,730.4 L165.1,730.7 L165.8,730.9 L166.6,731.1 L167.3,731.2 L168.3,731.4 L169.1,731.5 L170.1,731.5 L171.1,731.6 L172.1,731.7 L173.1,731.7 L173.8,731.7 L174.8,731.8 L175.8,731.9 L176.6,732.0 L177.6,732.1 L178.6,732.1 L179.6,732.2 L180.6,732.0 L181.4,732.0 L182.3,731.8 L183.1,731.6 L183.8,731.3 L184.6,731.1 L185.3,730.8 L186.1,730.5 L186.6,730.2 L187.3,729.7 L187.9,729.5 L188.6,729.1 L189.2,728.7 L189.8,728.2 L190.3,727.9 L190.8,728.3 L191.3,728.7 L192.0,729.2 L192.6,729.6 L193.1,730.0 L193.8,730.5 L194.3,730.8 L194.9,731.2 L195.6,731.6 L196.3,731.9 L196.9,732.2 L197.6,732.5 L198.3,732.8 L199.1,733.1 L199.8,733.3 L200.6,733.5 L201.5,733.7 L202.3,733.9 L203.1,734.0 L204.1,734.1 L205.0,734.2 L205.8,734.3 L206.8,734.2 L207.8,734.4 L208.8,734.4 L209.8,734.4 L210.8,734.4 L211.8,734.3 L212.3,734.2Z M211.3,732.2 L212.1,732.1 L213.1,732.1 L213.9,732.0 L214.8,731.7 L215.6,731.5 L216.3,731.4 L217.1,731.1 L217.8,730.9 L218.6,730.7 L219.4,730.5 L220.1,730.1 L220.8,729.8 L221.6,729.5 L222.3,729.2 L222.9,729.0 L223.6,728.5 L224.1,728.2 L224.8,727.7 L225.3,727.2 L225.8,726.7 L226.2,726.2 L226.6,725.7 L226.9,725.0 L227.2,724.2 L227.5,723.5 L227.8,722.7 L228.0,722.0 L228.3,721.3 L228.6,720.7 L228.9,720.0 L229.2,719.2 L229.5,718.5 L229.8,717.7 L230.0,717.0 L230.2,716.2 L230.3,715.2 L230.4,714.5 L230.5,713.5 L230.6,712.6 L230.6,711.7 L230.6,710.9 L230.6,710.0 L230.5,709.0 L230.3,708.2 L230.1,707.3 L229.9,706.5 L229.6,705.7 L229.4,705.0 L229.1,704.2 L228.8,703.5 L228.6,702.8 L228.3,702.2 L228.1,701.4 L227.8,700.7 L227.4,700.0 L227.1,699.5 L226.7,698.7 L226.3,698.1 L226.0,697.5 L225.6,696.8 L225.2,696.2 L224.7,695.7 L224.3,695.2 L223.7,694.7 L223.1,694.2 L222.6,693.8 L222.1,693.3 L221.6,692.9 L221.0,692.5 L220.3,692.1 L219.6,691.7 L218.9,691.5 L218.1,691.2 L217.3,691.0 L216.6,690.8 L215.8,690.6 L215.1,690.5 L214.1,690.3 L213.3,690.2 L212.3,690.0 L211.6,689.9 L210.6,689.8 L209.8,689.5 L208.8,689.6 L207.8,689.6 L206.8,689.7 L206.1,689.8 L205.3,690.0 L204.6,690.3 L203.8,690.6 L203.1,690.9 L202.6,691.2 L201.8,691.5 L201.2,692.0 L200.6,692.3 L200.1,692.7 L199.6,693.2 L199.0,693.7 L198.4,694.2 L197.8,694.7 L197.3,695.1 L196.8,695.7 L196.4,696.2 L195.9,696.7 L195.6,697.2 L195.1,697.7 L194.6,698.2 L194.1,698.8 L193.6,699.5 L193.2,700.0 L192.8,700.5 L192.4,701.2 L192.1,701.7 L191.8,702.5 L191.6,703.2 L191.3,704.0 L191.1,704.7 L190.8,705.6 L190.6,706.4 L190.4,707.2 L190.1,708.0 L190.0,708.7 L189.7,709.5 L189.3,709.7 L188.8,709.1 L188.4,708.5 L188.1,708.0 L187.6,707.2 L187.3,706.6 L186.9,706.0 L186.6,705.4 L186.2,704.7 L185.8,704.2 L185.3,703.7 L184.8,703.1 L184.3,702.5 L183.8,702.1 L183.3,701.7 L182.7,701.2 L182.1,700.8 L181.6,700.4 L180.9,700.0 L180.3,699.5 L179.8,699.1 L179.3,698.7 L178.7,698.2 L178.1,697.8 L177.3,697.5 L176.6,697.2 L175.8,697.0 L175.1,696.9 L174.1,696.8 L173.1,696.8 L172.3,697.0 L171.4,697.2 L170.7,697.5 L170.1,697.7 L169.4,698.2 L168.8,698.6 L168.3,699.0 L167.8,699.5 L167.3,700.0 L166.7,700.5 L166.1,701.0 L165.6,701.5 L165.1,702.0 L164.6,702.4 L164.2,703.0 L163.7,703.5 L163.3,704.0 L162.8,704.5 L162.3,705.1 L161.9,705.7 L161.6,706.3 L161.2,707.0 L160.8,707.6 L160.6,708.2 L160.3,709.0 L160.0,709.7 L159.6,710.5 L159.4,711.2 L159.1,712.0 L158.9,712.7 L158.7,713.5 L158.6,714.2 L158.4,715.2 L158.3,716.0 L158.3,717.0 L158.2,718.0 L158.2,719.0 L158.3,719.7 L158.6,720.7 L158.8,721.5 L159.1,722.2 L159.4,722.7 L159.8,723.4 L160.3,724.0 L160.7,724.5 L161.3,725.0 L161.8,725.4 L162.3,725.8 L162.8,726.2 L163.4,726.7 L164.0,727.2 L164.6,727.5 L165.3,727.9 L165.9,728.2 L166.6,728.5 L167.5,728.7 L168.3,728.9 L169.1,729.0 L170.0,729.2 L170.6,729.2 L171.3,729.3 L172.3,729.4 L173.3,729.4 L174.3,729.4 L175.1,729.5 L176.1,729.5 L177.1,729.7 L178.1,729.6 L179.1,729.7 L180.1,729.5 L180.8,729.4 L181.6,729.2 L182.5,729.0 L183.1,728.7 L183.8,728.4 L184.6,728.0 L185.1,727.7 L185.8,727.2 L186.3,726.9 L186.8,726.4 L187.3,725.9 L187.8,725.4 L188.3,724.9 L188.8,724.2 L189.2,723.7 L189.6,723.0 L190.0,722.5 L190.3,721.7 L190.7,722.0 L191.1,722.7 L191.3,723.3 L191.8,724.0 L192.1,724.5 L192.6,725.1 L193.1,725.6 L193.6,726.1 L194.1,726.6 L194.6,727.0 L195.1,727.5 L195.7,728.0 L196.3,728.5 L196.8,728.9 L197.3,729.3 L198.1,729.7 L198.6,730.0 L199.3,730.3 L200.1,730.7 L200.8,730.9 L201.6,731.2 L202.3,731.3 L203.1,731.5 L204.1,731.7 L204.8,731.7 L205.7,732.0 L206.6,732.0 L207.6,732.1 L208.3,732.2 L209.3,732.2 L210.3,732.3 L211.3,732.2 L211.3,732.2Z M210.7,730.0 L211.6,729.8 L212.6,729.8 L213.5,729.7 L214.3,729.6 L215.1,729.3 L216.0,729.2 L216.8,729.1 L217.6,728.8 L218.3,728.6 L219.0,728.2 L219.6,727.8 L220.3,727.6 L221.0,727.2 L221.6,726.8 L222.1,726.3 L222.7,726.0 L223.2,725.5 L223.7,725.0 L224.1,724.3 L224.5,723.7 L225.0,723.2 L225.2,722.5 L225.6,721.8 L225.8,721.1 L226.2,720.5 L226.5,719.7 L226.6,718.8 L226.7,718.0 L227.0,717.2 L227.0,716.2 L227.2,715.5 L227.2,714.5 L227.2,713.5 L227.2,712.5 L227.2,711.5 L227.2,710.5 L227.2,709.5 L227.0,708.7 L227.0,707.7 L226.7,707.0 L226.7,706.0 L226.5,705.2 L226.3,704.3 L226.2,703.5 L226.0,702.7 L225.7,702.0 L225.5,701.2 L225.2,700.5 L225.0,699.7 L224.6,699.1 L224.2,698.5 L224.0,697.7 L223.6,697.1 L223.1,696.6 L222.7,696.0 L222.2,695.5 L221.7,695.0 L221.2,694.5 L220.7,694.0 L220.2,693.5 L219.6,693.1 L219.0,692.7 L218.3,692.3 L217.6,692.1 L216.8,691.8 L216.1,691.6 L215.3,691.3 L214.6,691.1 L213.8,690.8 L213.0,690.7 L212.1,690.6 L211.1,690.6 L210.1,690.6 L209.3,690.3 L208.6,690.6 L207.6,690.6 L206.8,690.8 L206.1,691.1 L205.3,691.3 L204.6,691.6 L203.8,691.8 L203.2,692.2 L202.6,692.6 L202.0,693.0 L201.3,693.3 L200.8,693.8 L200.3,694.3 L199.8,694.8 L199.3,695.3 L198.8,695.8 L198.5,696.5 L198.0,697.0 L197.6,697.6 L197.2,698.2 L196.8,698.8 L196.5,699.5 L196.2,700.2 L196.0,701.0 L195.7,701.7 L195.3,702.3 L195.1,703.1 L195.0,704.0 L194.7,704.7 L194.5,705.5 L194.2,706.2 L194.1,707.1 L194.0,708.0 L193.7,708.7 L193.7,709.7 L193.5,710.5 L193.5,711.5 L193.5,712.5 L193.5,713.5 L193.5,714.5 L193.5,715.5 L193.5,716.5 L193.7,717.2 L193.7,718.2 L194.0,719.0 L194.1,719.8 L194.3,720.6 L194.6,721.3 L194.8,722.1 L195.2,722.7 L195.5,723.5 L196.0,724.0 L196.3,724.6 L196.7,725.2 L197.2,725.7 L197.7,726.2 L198.2,726.7 L198.8,727.1 L199.3,727.6 L200.0,728.0 L200.6,728.3 L201.3,728.6 L202.1,728.8 L202.8,729.1 L203.6,729.3 L204.3,729.6 L205.3,729.6 L206.1,729.8 L207.1,729.8 L208.1,729.8 L208.8,730.1 L209.8,730.1 L210.7,730.0 L210.7,730.0Z M177.2,727.5 L178.1,727.3 L179.0,727.2 L179.8,727.1 L180.6,726.8 L181.3,726.6 L182.0,726.2 L182.6,725.8 L183.2,725.5 L183.7,725.0 L184.3,724.6 L184.7,724.0 L185.2,723.5 L185.6,722.8 L186.0,722.2 L186.2,721.5 L186.5,720.7 L186.7,720.0 L187.0,719.2 L187.0,718.2 L187.0,717.2 L187.0,716.2 L186.8,715.3 L186.7,714.5 L186.5,713.7 L186.2,713.0 L186.0,712.2 L185.7,711.5 L185.5,710.7 L185.1,710.1 L184.7,709.5 L184.5,708.7 L184.1,708.1 L183.7,707.5 L183.3,706.8 L183.0,706.2 L182.5,705.7 L182.1,705.1 L181.7,704.5 L181.2,704.0 L180.7,703.5 L180.3,702.8 L179.8,702.3 L179.3,701.8 L178.8,701.3 L178.3,700.8 L177.8,700.3 L177.3,699.8 L176.7,699.5 L176.1,699.1 L175.5,698.7 L174.7,698.5 L173.8,698.3 L173.0,698.5 L172.2,698.7 L171.6,699.1 L171.0,699.5 L170.5,700.0 L170.0,700.5 L169.5,701.0 L169.0,701.5 L168.5,702.0 L168.0,702.5 L167.6,703.1 L167.1,703.6 L166.7,704.2 L166.2,704.7 L165.8,705.3 L165.5,706.0 L165.0,706.5 L164.6,707.1 L164.2,707.7 L163.8,708.3 L163.5,709.0 L163.2,709.7 L163.0,710.5 L162.6,711.1 L162.3,711.8 L162.2,712.7 L162.0,713.5 L161.7,714.2 L161.6,715.1 L161.5,716.0 L161.5,717.0 L161.5,718.0 L161.5,719.0 L161.7,719.7 L162.0,720.5 L162.2,721.2 L162.6,721.8 L163.0,722.5 L163.3,723.1 L163.8,723.6 L164.3,724.1 L164.8,724.6 L165.3,725.1 L166.0,725.5 L166.6,725.8 L167.2,726.2 L168.0,726.5 L168.6,726.8 L169.3,727.1 L170.2,727.2 L171.1,727.3 L171.8,727.6 L172.8,727.6 L173.8,727.6 L174.8,727.6 L175.8,727.6 L176.8,727.6 L177.2,727.5Z M177.1,727.5 L178.1,727.2 L178.9,727.2 L179.8,727.0 L180.6,726.8 L181.3,726.6 L182.0,726.2 L182.6,725.8 L183.2,725.5 L183.7,725.0 L184.3,724.6 L184.7,724.0 L185.2,723.5 L185.6,722.8 L185.9,722.2 L186.2,721.5 L186.4,720.7 L186.7,720.0 L186.9,719.2 L186.9,718.2 L186.9,717.2 L187.0,716.2 L186.8,715.3 L186.7,714.5 L186.4,713.7 L186.2,713.0 L185.9,712.2 L185.6,711.5 L185.4,710.7 L185.1,710.2 L184.6,709.5 L184.4,708.7 L184.1,708.1 L183.7,707.5 L183.3,706.8 L183.0,706.2 L182.5,705.7 L182.1,705.1 L181.7,704.5 L181.2,704.0 L180.6,703.5 L180.3,702.9 L179.8,702.4 L179.3,702.0 L178.8,701.5 L178.3,701.0 L177.8,700.5 L177.2,700.0 L176.6,699.6 L175.9,699.2 L175.3,699.0 L174.5,698.7 L173.6,698.6 L172.8,698.8 L172.1,699.0 L171.3,699.4 L170.8,699.7 L170.3,700.2 L169.8,700.7 L169.3,701.2 L168.8,701.7 L168.3,702.2 L167.8,702.7 L167.3,703.3 L166.8,703.8 L166.5,704.5 L166.0,705.0 L165.6,705.6 L165.2,706.2 L164.8,706.8 L164.5,707.5 L164.1,708.1 L163.8,708.7 L163.3,709.4 L163.1,710.0 L162.8,710.7 L162.6,711.5 L162.3,712.2 L162.1,713.0 L161.9,714.0 L161.9,715.0 L161.6,715.7 L161.6,716.7 L161.6,717.5 L161.6,718.5 L161.8,719.2 L161.8,720.0 L162.1,720.8 L162.5,721.5 L162.8,722.2 L163.3,722.7 L163.6,723.2 L164.1,723.7 L164.6,724.2 L165.1,724.7 L165.6,725.2 L166.3,725.5 L166.6,725.7 L167.3,726.2 L168.1,726.4 L168.8,726.7 L169.6,726.9 L170.3,727.0 L171.3,727.1 L172.1,727.3 L173.1,727.3 L174.1,727.3 L175.1,727.4 L176.1,727.4 L176.9,727.5 L177.1,727.5Z M176.9,727.0 L177.8,726.8 L178.8,726.7 L179.6,726.6 L180.3,726.4 L181.1,726.2 L181.8,725.8 L182.6,725.5 L183.1,725.1 L183.6,724.6 L184.1,724.2 L184.6,723.6 L185.1,723.0 L185.3,722.4 L185.6,721.7 L186.0,721.0 L186.3,720.2 L186.3,719.2 L186.6,718.5 L186.6,717.5 L186.6,716.7 L186.6,715.7 L186.4,715.0 L186.2,714.2 L186.1,713.5 L185.8,712.7 L185.3,712.0 L185.1,711.3 L184.8,710.7 L184.5,710.0 L184.1,709.2 L183.8,708.6 L183.4,708.0 L183.1,707.2 L182.7,706.7 L182.3,706.1 L181.8,705.6 L181.3,705.0 L180.9,704.5 L180.3,704.0 L180.0,703.5 L179.4,703.0 L178.9,702.5 L178.4,702.0 L177.8,701.5 L177.3,701.0 L176.8,700.6 L176.2,700.2 L175.6,699.9 L174.8,699.5 L174.1,699.3 L173.2,699.5 L172.3,699.7 L171.8,700.0 L171.1,700.4 L170.6,700.8 L170.1,701.3 L169.6,701.7 L169.1,702.2 L168.5,702.7 L168.1,703.3 L167.6,703.8 L167.1,704.4 L166.6,704.9 L166.2,705.5 L165.8,706.0 L165.3,706.6 L165.0,707.2 L164.6,707.9 L164.3,708.5 L163.9,709.2 L163.7,710.0 L163.4,710.7 L163.1,711.3 L162.8,712.1 L162.7,713.0 L162.5,713.7 L162.3,714.5 L162.1,715.5 L162.1,716.2 L162.0,717.2 L162.0,718.2 L162.2,719.0 L162.3,719.8 L162.6,720.6 L162.9,721.2 L163.3,722.0 L163.7,722.5 L164.1,723.0 L164.6,723.5 L165.2,724.0 L165.7,724.5 L166.3,724.9 L166.9,725.2 L167.6,725.6 L168.3,725.9 L169.1,726.2 L169.8,726.4 L170.6,726.6 L171.6,726.6 L172.3,726.9 L173.3,726.9 L174.3,726.9 L175.3,726.9 L176.1,727.0 L176.9,727.0 L176.9,727.0Z M176.8,726.2 L177.6,726.1 L178.6,726.0 L179.3,725.9 L180.1,725.7 L180.9,725.5 L181.6,725.1 L182.3,724.8 L182.8,724.3 L183.3,723.9 L183.8,723.3 L184.3,722.8 L184.7,722.2 L185.0,721.5 L185.3,720.7 L185.6,720.0 L185.7,719.2 L185.9,718.5 L185.9,717.5 L185.9,716.5 L185.8,715.7 L185.7,714.7 L185.5,714.0 L185.2,713.2 L184.9,712.5 L184.6,711.8 L184.3,711.2 L184.0,710.5 L183.6,709.7 L183.3,709.1 L182.9,708.5 L182.6,707.8 L182.2,707.2 L181.8,706.7 L181.3,706.2 L180.8,705.7 L180.3,705.1 L179.8,704.7 L179.3,704.2 L178.8,703.7 L178.3,703.2 L177.7,702.7 L177.1,702.2 L176.6,701.8 L176.1,701.4 L175.4,701.0 L174.8,700.7 L174.0,700.5 L173.3,700.5 L172.6,700.8 L171.8,701.2 L171.3,701.6 L170.8,702.0 L170.3,702.5 L169.7,703.0 L169.1,703.4 L168.7,704.0 L168.1,704.5 L167.7,705.0 L167.2,705.5 L166.8,706.0 L166.3,706.5 L165.9,707.2 L165.5,707.7 L165.1,708.5 L164.8,709.0 L164.5,709.7 L164.1,710.5 L163.9,711.2 L163.6,712.0 L163.4,712.7 L163.2,713.5 L163.1,714.2 L162.9,715.2 L162.7,716.0 L162.7,717.0 L162.7,718.0 L162.9,718.7 L163.1,719.7 L163.3,720.4 L163.6,721.0 L164.1,721.7 L164.5,722.2 L164.9,722.7 L165.5,723.2 L166.0,723.7 L166.6,724.1 L167.2,724.5 L167.8,724.9 L168.6,725.2 L169.3,725.5 L170.1,725.7 L170.8,725.9 L171.7,726.0 L172.6,726.2 L173.3,726.2 L174.3,726.2 L175.3,726.3 L176.3,726.3 L176.8,726.2Z M178.0,725.2 L178.8,725.0 L179.6,724.8 L180.3,724.6 L181.1,724.3 L181.8,724.0 L182.3,723.5 L182.8,723.0 L183.3,722.5 L183.7,722.0 L184.1,721.3 L184.4,720.7 L184.6,720.0 L184.8,719.0 L185.0,718.2 L185.1,717.2 L185.0,716.2 L184.9,715.2 L184.7,714.5 L184.5,713.7 L184.2,713.0 L183.8,712.2 L183.6,711.6 L183.3,711.0 L182.9,710.2 L182.6,709.6 L182.2,709.0 L181.8,708.4 L181.3,707.7 L180.9,707.2 L180.4,706.7 L179.9,706.2 L179.4,705.7 L178.8,705.3 L178.3,704.8 L177.8,704.4 L177.3,704.0 L176.6,703.5 L176.1,703.1 L175.5,702.7 L174.8,702.3 L174.1,702.0 L173.6,702.0 L172.8,702.3 L172.3,702.7 L171.6,703.2 L171.1,703.5 L170.5,704.0 L169.9,704.5 L169.3,704.9 L168.8,705.4 L168.3,705.9 L167.8,706.3 L167.3,706.9 L166.8,707.4 L166.5,708.0 L166.1,708.5 L165.7,709.2 L165.3,709.8 L165.0,710.5 L164.8,711.2 L164.5,712.0 L164.2,712.7 L164.1,713.5 L163.9,714.5 L163.8,715.2 L163.6,716.2 L163.6,717.0 L163.6,717.7 L163.8,718.7 L164.0,719.5 L164.3,720.2 L164.6,720.7 L165.1,721.3 L165.6,722.0 L166.1,722.4 L166.6,722.9 L167.1,723.3 L167.8,723.7 L168.3,724.0 L169.1,724.3 L169.8,724.6 L170.6,724.8 L171.3,725.0 L172.3,725.2 L173.1,725.3 L174.1,725.4 L175.1,725.4 L176.1,725.4 L177.1,725.2 L178.0,725.2 L178.0,725.2Z M176.4,724.2 L177.3,724.1 L178.2,724.0 L179.1,723.7 L179.8,723.5 L180.5,723.2 L181.1,722.9 L181.7,722.5 L182.2,722.0 L182.7,721.5 L183.1,720.7 L183.4,720.2 L183.7,719.5 L183.8,718.5 L184.0,717.7 L184.0,716.7 L183.8,715.9 L183.7,715.0 L183.6,714.2 L183.3,713.5 L183.0,712.7 L182.7,712.0 L182.3,711.3 L182.0,710.7 L181.6,710.0 L181.2,709.5 L180.8,708.9 L180.3,708.4 L179.8,707.8 L179.3,707.4 L178.8,707.0 L178.2,706.5 L177.6,706.0 L177.1,705.7 L176.3,705.2 L175.8,705.0 L175.1,704.5 L174.5,704.2 L173.6,704.1 L173.0,704.5 L172.3,704.8 L171.7,705.2 L171.1,705.6 L170.5,706.0 L169.9,706.5 L169.3,706.8 L168.8,707.3 L168.3,707.7 L167.8,708.2 L167.3,708.7 L166.9,709.5 L166.5,710.0 L166.1,710.7 L165.8,711.3 L165.6,712.0 L165.3,712.7 L165.1,713.6 L164.9,714.5 L164.8,715.2 L164.7,716.2 L164.7,717.2 L164.8,718.2 L165.1,719.0 L165.3,719.6 L165.7,720.2 L166.1,720.7 L166.6,721.3 L167.1,721.7 L167.6,722.2 L168.3,722.6 L168.8,723.0 L169.6,723.3 L170.3,723.6 L171.1,723.8 L172.0,724.0 L172.8,724.2 L173.6,724.2 L174.6,724.3 L175.6,724.3 L176.4,724.2 L176.4,724.2Z M176.0,723.0 L176.8,722.8 L177.6,722.7 L178.6,722.5 L179.3,722.2 L179.8,721.9 L180.6,721.5 L181.1,721.0 L181.6,720.5 L181.9,720.0 L182.3,719.2 L182.5,718.5 L182.7,717.7 L182.7,716.7 L182.6,716.0 L182.5,715.0 L182.3,714.2 L182.0,713.5 L181.7,712.7 L181.4,712.0 L181.1,711.5 L180.6,710.7 L180.2,710.2 L179.7,709.7 L179.2,709.2 L178.6,708.7 L178.1,708.4 L177.6,708.0 L176.8,707.5 L176.1,707.2 L175.6,707.0 L174.8,706.6 L174.1,706.4 L173.3,706.6 L172.6,707.0 L172.1,707.2 L171.3,707.6 L170.7,708.0 L170.1,708.4 L169.6,708.7 L168.9,709.2 L168.4,709.7 L168.0,710.2 L167.6,710.7 L167.1,711.5 L166.8,712.0 L166.5,712.7 L166.3,713.5 L166.1,714.5 L166.0,715.2 L166.0,716.2 L166.0,717.2 L166.2,718.0 L166.4,718.7 L166.8,719.4 L167.2,720.0 L167.7,720.5 L168.2,721.0 L168.8,721.4 L169.4,721.7 L170.1,722.1 L170.8,722.3 L171.6,722.6 L172.4,722.7 L173.3,722.9 L174.1,723.0 L175.1,723.0 L176.0,723.0 L176.0,723.0Z M175.8,721.5 L176.6,721.4 L177.3,721.2 L178.1,721.0 L178.8,720.6 L179.6,720.2 L180.1,719.7 L180.5,719.2 L180.8,718.6 L181.1,717.7 L181.2,717.0 L181.2,716.0 L181.1,715.0 L180.9,714.2 L180.6,713.5 L180.3,713.0 L179.9,712.2 L179.5,711.7 L179.1,711.2 L178.5,710.7 L177.8,710.2 L177.3,709.9 L176.6,709.5 L175.8,709.2 L175.1,709.0 L174.3,708.8 L173.4,709.0 L172.8,709.2 L172.0,709.5 L171.3,709.8 L170.6,710.2 L170.1,710.5 L169.5,711.0 L169.0,711.5 L168.6,712.0 L168.1,712.7 L167.8,713.2 L167.6,714.0 L167.4,715.0 L167.4,716.0 L167.4,717.0 L167.7,717.7 L168.0,718.5 L168.4,719.0 L168.8,719.5 L169.3,720.0 L170.1,720.4 L170.6,720.7 L171.4,721.0 L172.2,721.2 L173.1,721.4 L173.8,721.5 L174.8,721.6 L175.8,721.5 L175.8,721.5Z M175.2,720.0 L176.1,719.9 L176.8,719.6 L177.6,719.4 L178.1,718.9 L178.8,718.5 L179.1,717.9 L179.3,717.2 L179.6,716.2 L179.6,715.2 L179.3,714.5 L178.9,713.7 L178.6,713.2 L178.1,712.6 L177.4,712.2 L176.8,712.0 L176.1,711.5 L175.3,711.3 L174.5,711.2 L173.6,711.1 L172.8,711.3 L172.1,711.6 L171.3,711.8 L170.7,712.2 L170.2,712.7 L169.7,713.2 L169.3,713.8 L169.1,714.5 L168.9,715.5 L168.9,716.5 L169.2,717.2 L169.6,717.8 L170.0,718.5 L170.6,718.8 L171.1,719.3 L171.8,719.6 L172.6,719.8 L173.5,720.0 L174.3,720.1 L175.2,720.0 L175.2,720.0Z M210.7,730.0 L211.6,729.8 L212.6,729.9 L213.5,729.7 L214.3,729.6 L215.1,729.3 L215.9,729.2 L216.8,729.0 L217.6,728.7 L218.3,728.5 L218.9,728.2 L219.6,727.7 L220.3,727.5 L220.9,727.2 L221.6,726.8 L222.1,726.3 L222.7,726.0 L223.2,725.5 L223.7,725.0 L224.1,724.3 L224.4,723.7 L224.9,723.2 L225.1,722.4 L225.5,721.7 L225.8,721.0 L226.1,720.2 L226.3,719.5 L226.6,718.7 L226.6,718.0 L226.9,717.2 L226.9,716.2 L227.2,715.5 L227.2,714.5 L227.2,713.5 L227.2,712.5 L227.2,711.5 L227.2,710.5 L227.3,709.5 L227.0,708.7 L227.0,707.7 L226.7,707.0 L226.7,706.0 L226.4,705.2 L226.3,704.4 L226.1,703.5 L225.9,702.7 L225.6,702.0 L225.4,701.2 L225.1,700.5 L224.9,699.7 L224.6,699.2 L224.2,698.5 L223.9,697.7 L223.6,697.1 L223.1,696.6 L222.7,696.0 L222.2,695.5 L221.7,695.0 L221.2,694.5 L220.7,694.0 L220.2,693.5 L219.6,693.1 L218.9,692.7 L218.3,692.4 L217.6,692.2 L216.8,691.9 L216.3,691.7 L215.6,691.5 L214.8,691.3 L214.1,691.0 L213.1,691.0 L212.3,690.7 L211.6,690.7 L210.6,690.7 L209.8,690.4 L209.1,690.6 L208.1,690.6 L207.2,690.7 L206.3,690.8 L205.6,691.1 L204.8,691.3 L204.3,691.7 L203.5,692.0 L202.8,692.4 L202.3,692.7 L201.8,693.2 L201.1,693.6 L200.6,694.2 L200.1,694.7 L199.6,695.2 L199.1,695.7 L198.6,696.2 L198.3,696.7 L197.8,697.4 L197.6,698.0 L197.1,698.7 L196.8,699.2 L196.3,699.9 L196.1,700.6 L195.7,701.2 L195.4,702.0 L195.1,702.7 L194.9,703.5 L194.6,704.2 L194.4,705.0 L194.3,705.8 L194.2,706.7 L194.0,707.5 L193.8,708.3 L193.7,709.2 L193.6,710.1 L193.4,711.0 L193.4,712.0 L193.4,713.0 L193.5,714.0 L193.5,715.0 L193.5,716.0 L193.5,717.0 L193.8,717.7 L193.8,718.5 L194.0,719.5 L194.3,720.2 L194.5,721.0 L194.8,721.7 L195.0,722.5 L195.3,723.0 L195.8,723.7 L196.1,724.2 L196.6,725.0 L197.1,725.5 L197.6,726.0 L198.1,726.5 L198.6,727.0 L199.1,727.3 L199.8,727.7 L200.3,728.0 L201.1,728.5 L201.8,728.7 L202.3,729.0 L203.3,729.2 L204.1,729.3 L204.8,729.5 L205.8,729.7 L206.6,729.8 L207.6,729.8 L208.3,730.1 L209.3,730.1 L210.3,730.1 L210.7,730.0Z M210.6,730.0 L211.6,729.7 L212.6,729.7 L213.4,729.7 L214.3,729.5 L214.8,729.2 L215.8,729.0 L216.6,728.8 L217.3,728.5 L218.1,728.2 L218.6,728.0 L219.3,727.5 L220.1,727.2 L220.7,727.0 L221.3,726.5 L221.8,726.2 L222.6,725.7 L223.1,725.2 L223.4,724.7 L223.8,724.1 L224.2,723.5 L224.6,722.7 L224.8,722.2 L225.3,721.5 L225.5,720.7 L225.8,720.0 L226.1,719.2 L226.3,718.5 L226.4,717.7 L226.7,717.0 L226.8,716.0 L227.0,715.2 L227.0,714.2 L227.0,713.2 L227.0,712.2 L227.1,711.2 L227.1,710.5 L227.1,709.5 L226.9,708.7 L226.9,707.7 L226.6,707.0 L226.5,706.2 L226.2,705.5 L226.1,704.6 L225.9,703.7 L225.6,703.2 L225.3,702.5 L225.1,701.5 L224.8,700.7 L224.6,700.0 L224.3,699.4 L224.0,698.7 L223.7,698.0 L223.3,697.4 L222.8,696.8 L222.5,696.2 L222.0,695.7 L221.5,695.2 L221.0,694.7 L220.5,694.2 L220.0,693.7 L219.3,693.3 L218.6,693.0 L217.9,692.7 L217.3,692.5 L216.5,692.2 L215.7,692.0 L214.9,691.7 L214.1,691.5 L213.3,691.4 L212.6,691.2 L211.6,691.1 L210.6,691.0 L209.8,690.9 L208.8,690.9 L207.8,690.9 L207.1,691.1 L206.3,691.2 L205.6,691.5 L204.8,691.8 L204.1,692.2 L203.5,692.5 L202.8,692.9 L202.3,693.2 L201.7,693.7 L201.1,694.2 L200.6,694.7 L200.1,695.2 L199.6,695.7 L199.1,696.2 L198.8,696.7 L198.4,697.5 L198.0,698.0 L197.6,698.7 L197.2,699.2 L196.8,699.8 L196.6,700.5 L196.1,701.2 L195.8,701.8 L195.3,702.4 L195.1,703.2 L195.1,704.0 L194.8,704.7 L194.6,705.5 L194.3,706.2 L194.1,707.2 L194.1,708.2 L193.9,709.0 L193.8,709.7 L193.6,710.5 L193.6,711.5 L193.6,712.5 L193.6,713.5 L193.6,714.5 L193.6,715.5 L193.6,716.2 L193.8,717.1 L193.9,718.0 L194.2,718.7 L194.3,719.7 L194.6,720.4 L194.8,721.2 L195.1,721.9 L195.4,722.5 L195.7,723.2 L196.2,723.7 L196.6,724.4 L196.9,725.0 L197.4,725.5 L197.9,726.0 L198.4,726.5 L199.1,726.9 L199.6,727.3 L200.1,727.7 L200.8,728.1 L201.6,728.3 L202.3,728.6 L203.1,728.8 L203.8,729.1 L204.6,729.3 L205.6,729.4 L206.3,729.7 L207.1,729.7 L208.1,729.7 L208.8,730.0 L209.8,730.0 L210.6,730.0 L210.6,730.0Z M210.6,729.5 L211.3,729.4 L212.3,729.4 L213.3,729.2 L214.1,729.0 L214.8,728.8 L215.6,728.6 L216.3,728.4 L217.1,728.1 L217.8,727.8 L218.5,727.5 L219.1,727.1 L219.8,726.8 L220.5,726.5 L221.1,726.1 L221.6,725.7 L222.3,725.2 L222.8,724.7 L223.1,724.1 L223.6,723.6 L223.9,723.0 L224.3,722.2 L224.6,721.7 L224.9,721.0 L225.3,720.2 L225.5,719.5 L225.7,718.7 L226.0,718.0 L226.1,717.2 L226.3,716.2 L226.5,715.5 L226.6,714.5 L226.6,713.5 L226.6,712.7 L226.7,711.7 L226.7,710.7 L226.7,709.7 L226.5,709.0 L226.5,708.0 L226.2,707.2 L226.1,706.2 L225.8,705.6 L225.7,704.7 L225.4,704.0 L225.2,703.2 L224.9,702.5 L224.7,701.7 L224.4,701.0 L224.2,700.2 L223.8,699.5 L223.6,699.0 L223.2,698.2 L222.8,697.5 L222.3,697.0 L222.0,696.5 L221.5,696.0 L221.0,695.5 L220.5,695.0 L220.0,694.5 L219.3,694.0 L218.8,693.7 L218.1,693.4 L217.3,693.1 L216.6,692.9 L215.8,692.7 L215.1,692.5 L214.3,692.2 L213.3,692.0 L212.6,691.9 L211.7,691.7 L210.8,691.6 L209.8,691.5 L209.3,691.5 L208.3,691.5 L207.3,691.7 L206.6,691.8 L205.8,692.1 L205.1,692.4 L204.4,692.7 L203.8,693.0 L203.1,693.4 L202.6,693.8 L202.1,694.2 L201.4,694.7 L200.9,695.2 L200.4,695.7 L199.9,696.2 L199.5,696.7 L199.1,697.3 L198.7,698.0 L198.3,698.5 L197.9,699.2 L197.6,699.7 L197.2,700.5 L196.8,701.1 L196.5,701.7 L196.1,702.4 L195.8,703.0 L195.5,703.7 L195.3,704.5 L195.0,705.2 L194.8,706.1 L194.8,707.0 L194.5,707.7 L194.3,708.6 L194.2,709.5 L194.1,710.3 L193.9,711.2 L193.9,712.2 L193.9,713.2 L193.9,714.2 L193.9,715.2 L194.0,716.2 L194.2,717.0 L194.3,718.0 L194.5,718.7 L194.6,719.5 L194.8,720.2 L195.1,721.0 L195.3,721.7 L195.8,722.5 L196.1,723.1 L196.6,723.7 L196.9,724.2 L197.3,724.9 L197.8,725.4 L198.3,725.9 L198.8,726.4 L199.3,726.7 L200.1,727.2 L200.6,727.5 L201.3,727.9 L202.1,728.2 L202.8,728.5 L203.6,728.7 L204.3,728.8 L205.1,729.0 L206.0,729.2 L206.8,729.4 L207.8,729.4 L208.6,729.6 L209.6,729.6 L210.6,729.5 L210.6,729.5Z M210.5,729.0 L211.3,728.9 L212.3,728.8 L213.1,728.7 L214.1,728.5 L214.8,728.2 L215.6,728.0 L216.3,727.7 L217.0,727.5 L217.6,727.2 L218.3,726.8 L219.1,726.5 L219.6,726.2 L220.3,725.7 L220.9,725.5 L221.4,725.0 L222.1,724.5 L222.4,724.0 L222.8,723.4 L223.3,722.7 L223.7,722.2 L224.1,721.5 L224.3,720.8 L224.6,720.2 L224.9,719.5 L225.2,718.7 L225.4,718.0 L225.6,717.1 L225.7,716.2 L226.0,715.5 L226.0,714.5 L226.1,713.5 L226.1,712.5 L226.1,711.7 L226.2,710.7 L226.2,709.7 L226.0,709.0 L225.9,708.0 L225.7,707.2 L225.6,706.5 L225.3,705.7 L225.1,704.9 L224.8,704.0 L224.6,703.3 L224.3,702.6 L224.1,701.7 L223.8,701.1 L223.6,700.5 L223.3,699.7 L222.9,699.0 L222.6,698.4 L222.1,697.7 L221.7,697.2 L221.3,696.7 L220.8,696.2 L220.3,695.7 L219.8,695.2 L219.1,694.7 L218.6,694.4 L217.8,694.1 L217.1,693.8 L216.3,693.6 L215.6,693.4 L214.8,693.2 L214.1,693.0 L213.1,692.8 L212.3,692.6 L211.3,692.5 L210.6,692.4 L209.6,692.3 L208.6,692.3 L207.6,692.4 L206.8,692.6 L206.1,692.9 L205.3,693.1 L204.7,693.5 L204.1,693.8 L203.3,694.2 L202.8,694.6 L202.3,695.0 L201.7,695.5 L201.2,696.0 L200.7,696.5 L200.2,697.0 L199.8,697.5 L199.4,698.2 L199.0,698.7 L198.6,699.5 L198.3,700.0 L197.9,700.7 L197.6,701.3 L197.2,702.0 L196.8,702.6 L196.5,703.2 L196.2,704.0 L195.9,704.7 L195.6,705.5 L195.5,706.2 L195.3,707.0 L195.1,707.8 L195.0,708.7 L194.8,709.5 L194.6,710.5 L194.4,711.2 L194.4,712.2 L194.4,713.2 L194.4,714.2 L194.4,715.2 L194.4,716.2 L194.6,717.0 L194.7,718.0 L195.0,718.7 L195.1,719.5 L195.4,720.2 L195.6,721.0 L195.9,721.7 L196.3,722.5 L196.6,723.0 L197.0,723.7 L197.4,724.2 L197.8,724.8 L198.3,725.3 L198.8,725.8 L199.4,726.2 L200.1,726.7 L200.6,727.1 L201.3,727.4 L202.1,727.7 L202.7,728.0 L203.6,728.2 L204.3,728.4 L205.1,728.6 L205.9,728.7 L206.8,728.9 L207.6,729.0 L208.6,729.1 L209.6,729.1 L210.5,729.0 L210.5,729.0Z M210.2,728.5 L211.1,728.3 L212.1,728.2 L212.8,728.1 L213.6,727.9 L214.3,727.6 L215.1,727.5 L215.8,727.1 L216.6,726.8 L217.3,726.5 L217.9,726.2 L218.6,725.8 L219.3,725.5 L219.8,725.1 L220.5,724.7 L221.0,724.2 L221.6,723.8 L222.0,723.2 L222.4,722.7 L222.8,722.1 L223.2,721.5 L223.6,720.8 L223.9,720.2 L224.2,719.5 L224.5,718.7 L224.7,718.0 L224.8,717.2 L225.1,716.2 L225.2,715.5 L225.3,714.6 L225.4,713.7 L225.4,712.7 L225.5,711.7 L225.5,710.7 L225.5,709.7 L225.3,709.0 L225.2,708.0 L225.0,707.2 L224.8,706.4 L224.6,705.7 L224.3,704.8 L224.1,704.0 L223.8,703.3 L223.6,702.5 L223.4,701.7 L223.1,701.2 L222.8,700.5 L222.4,699.7 L222.1,699.1 L221.7,698.5 L221.3,698.0 L220.8,697.4 L220.3,696.9 L219.8,696.4 L219.3,696.0 L218.6,695.5 L218.1,695.2 L217.3,694.9 L216.6,694.6 L215.8,694.4 L215.1,694.2 L214.2,694.0 L213.3,693.7 L212.6,693.7 L211.6,693.5 L210.8,693.4 L209.8,693.3 L208.8,693.3 L207.8,693.4 L207.1,693.6 L206.3,693.8 L205.6,694.1 L204.8,694.4 L204.3,694.7 L203.6,695.2 L203.1,695.6 L202.6,696.0 L202.0,696.5 L201.5,697.0 L201.0,697.5 L200.6,698.0 L200.1,698.7 L199.8,699.2 L199.3,699.9 L199.0,700.5 L198.6,701.2 L198.3,701.7 L198.0,702.5 L197.6,703.0 L197.3,703.7 L197.0,704.5 L196.7,705.2 L196.4,706.0 L196.1,706.7 L196.0,707.5 L195.8,708.2 L195.6,709.0 L195.4,710.0 L195.2,710.7 L195.0,711.5 L195.0,712.5 L194.9,713.5 L194.9,714.5 L194.9,715.5 L195.0,716.5 L195.2,717.2 L195.3,718.1 L195.5,719.0 L195.7,719.7 L196.0,720.5 L196.3,721.2 L196.6,721.9 L196.9,722.5 L197.3,723.1 L197.7,723.7 L198.1,724.2 L198.6,724.8 L199.1,725.3 L199.6,725.7 L200.3,726.2 L200.8,726.6 L201.6,727.0 L202.3,727.2 L202.9,727.5 L203.8,727.7 L204.6,727.9 L205.3,728.1 L206.1,728.2 L207.1,728.4 L208.1,728.4 L208.8,728.6 L209.8,728.5 L210.2,728.5Z M210.2,727.7 L211.1,727.5 L211.9,727.5 L212.8,727.2 L213.6,727.1 L214.3,726.8 L215.1,726.6 L215.8,726.3 L216.5,726.0 L217.1,725.7 L217.8,725.2 L218.3,724.9 L219.1,724.5 L219.6,724.1 L220.1,723.7 L220.8,723.2 L221.2,722.7 L221.7,722.2 L222.1,721.6 L222.5,721.0 L222.8,720.4 L223.2,719.7 L223.6,719.0 L223.8,718.2 L224.0,717.5 L224.2,716.7 L224.3,715.7 L224.6,715.0 L224.6,714.2 L224.7,713.2 L224.7,712.2 L224.7,711.2 L224.8,710.2 L224.6,709.5 L224.5,708.5 L224.3,707.7 L224.1,706.8 L223.8,706.0 L223.6,705.2 L223.4,704.5 L223.2,703.7 L222.9,703.0 L222.7,702.2 L222.3,701.5 L222.1,701.0 L221.7,700.2 L221.3,699.6 L220.9,699.0 L220.5,698.5 L220.1,698.0 L219.5,697.5 L218.9,697.0 L218.3,696.5 L217.8,696.2 L217.1,695.9 L216.3,695.6 L215.6,695.4 L214.7,695.2 L213.8,695.0 L213.1,694.8 L212.1,694.7 L211.3,694.6 L210.3,694.5 L209.3,694.5 L208.3,694.5 L207.4,694.7 L206.6,695.0 L206.0,695.2 L205.3,695.5 L204.6,695.9 L204.1,696.2 L203.4,696.7 L202.8,697.2 L202.3,697.7 L201.8,698.2 L201.4,698.7 L201.1,699.2 L200.6,699.8 L200.2,700.5 L199.8,701.0 L199.5,701.7 L199.1,702.4 L198.8,703.0 L198.4,703.7 L198.1,704.3 L197.8,705.0 L197.5,705.7 L197.2,706.5 L197.0,707.2 L196.7,708.0 L196.5,708.7 L196.3,709.5 L196.1,710.4 L195.8,711.1 L195.7,712.0 L195.6,713.0 L195.6,714.0 L195.6,714.7 L195.6,715.7 L195.7,716.5 L195.8,717.5 L196.0,718.2 L196.1,719.0 L196.4,719.7 L196.6,720.5 L196.9,721.2 L197.3,722.0 L197.6,722.5 L198.1,723.2 L198.5,723.7 L198.9,724.2 L199.4,724.7 L200.0,725.2 L200.6,725.7 L201.1,726.0 L201.8,726.4 L202.6,726.6 L203.3,726.9 L204.1,727.1 L204.8,727.3 L205.6,727.5 L206.5,727.7 L207.3,727.8 L208.3,727.8 L209.3,727.9 L210.2,727.7 L210.2,727.7Z M209.9,727.0 L210.8,726.7 L211.6,726.6 L212.4,726.5 L213.1,726.2 L213.9,726.0 L214.7,725.7 L215.3,725.4 L216.1,725.1 L216.8,724.7 L217.3,724.4 L218.0,724.0 L218.6,723.6 L219.1,723.2 L219.7,722.7 L220.2,722.2 L220.7,721.7 L221.1,721.2 L221.6,720.6 L222.0,720.0 L222.3,719.3 L222.7,718.7 L222.9,718.0 L223.1,717.2 L223.3,716.4 L223.5,715.5 L223.7,714.7 L223.8,713.7 L223.8,712.7 L223.8,711.7 L223.8,710.8 L223.8,710.2 L223.6,709.2 L223.6,708.5 L223.3,707.7 L223.1,706.7 L222.9,706.0 L222.7,705.2 L222.4,704.5 L222.2,703.7 L221.9,703.0 L221.6,702.2 L221.3,701.7 L221.0,701.0 L220.6,700.3 L220.2,699.7 L219.7,699.2 L219.3,698.7 L218.7,698.2 L218.1,697.8 L217.6,697.4 L216.8,697.0 L216.1,696.8 L215.3,696.5 L214.6,696.4 L213.8,696.2 L212.8,696.0 L211.9,696.0 L211.1,695.9 L210.1,695.8 L209.1,695.8 L208.1,695.9 L207.3,696.1 L206.6,696.3 L205.8,696.7 L205.3,697.0 L204.6,697.4 L204.1,697.8 L203.6,698.2 L203.1,698.7 L202.6,699.2 L202.1,699.9 L201.6,700.5 L201.3,701.0 L200.8,701.6 L200.6,702.2 L200.1,703.0 L199.8,703.5 L199.5,704.2 L199.1,705.0 L198.8,705.5 L198.5,706.2 L198.2,707.0 L197.9,707.7 L197.6,708.4 L197.3,709.2 L197.1,710.0 L196.9,710.7 L196.7,711.5 L196.6,712.2 L196.4,713.2 L196.4,714.2 L196.3,715.0 L196.3,716.0 L196.5,716.7 L196.6,717.6 L196.8,718.5 L196.9,719.2 L197.2,720.0 L197.5,720.7 L197.8,721.5 L198.1,722.0 L198.6,722.7 L199.0,723.2 L199.4,723.7 L199.9,724.2 L200.5,724.7 L201.1,725.1 L201.6,725.5 L202.3,725.8 L203.1,726.1 L203.8,726.3 L204.6,726.5 L205.3,726.7 L206.3,726.9 L207.1,727.0 L208.1,727.0 L209.1,727.0 L209.9,727.0 L209.9,727.0Z M209.9,726.0 L210.8,725.7 L211.6,725.6 L212.3,725.3 L213.1,725.1 L213.8,724.8 L214.6,724.6 L215.3,724.3 L215.9,724.0 L216.6,723.6 L217.1,723.2 L217.8,722.7 L218.3,722.3 L218.8,721.9 L219.3,721.4 L219.8,720.9 L220.3,720.3 L220.8,719.7 L221.1,719.2 L221.6,718.5 L221.8,717.8 L222.1,717.1 L222.3,716.2 L222.5,715.5 L222.7,714.7 L222.8,713.7 L222.8,712.7 L222.8,711.7 L222.8,710.7 L222.7,709.7 L222.6,709.0 L222.4,708.0 L222.2,707.2 L222.0,706.5 L221.7,705.7 L221.5,705.0 L221.2,704.2 L220.9,703.5 L220.6,702.7 L220.3,702.2 L219.9,701.5 L219.6,700.9 L219.1,700.3 L218.6,699.8 L218.1,699.3 L217.6,699.0 L216.8,698.5 L216.3,698.2 L215.6,697.9 L214.7,697.7 L213.8,697.6 L213.1,697.4 L212.1,697.3 L211.1,697.2 L210.1,697.2 L209.1,697.2 L208.1,697.4 L207.3,697.6 L206.6,697.9 L206.0,698.2 L205.3,698.7 L204.8,699.0 L204.3,699.5 L203.8,700.0 L203.3,700.5 L202.8,701.1 L202.4,701.7 L202.1,702.2 L201.7,703.0 L201.3,703.5 L200.9,704.2 L200.6,704.8 L200.3,705.5 L199.8,706.2 L199.6,706.7 L199.2,707.5 L198.9,708.2 L198.6,708.8 L198.3,709.5 L198.1,710.2 L197.8,711.0 L197.6,711.9 L197.4,712.7 L197.3,713.5 L197.2,714.5 L197.2,715.5 L197.3,716.5 L197.4,717.2 L197.5,718.2 L197.7,719.0 L197.9,719.7 L198.2,720.5 L198.5,721.2 L198.9,721.7 L199.3,722.4 L199.8,723.0 L200.3,723.5 L200.8,724.0 L201.3,724.4 L201.9,724.7 L202.6,725.1 L203.3,725.4 L204.1,725.6 L204.8,725.8 L205.8,726.0 L206.6,726.1 L207.6,726.2 L208.6,726.1 L209.6,726.1 L209.9,726.0Z M207.8,725.2 L208.6,725.1 L209.6,725.0 L210.3,724.7 L211.1,724.5 L211.8,724.3 L212.6,724.0 L213.3,723.8 L214.1,723.5 L214.7,723.2 L215.3,722.9 L216.0,722.5 L216.6,722.0 L217.1,721.6 L217.7,721.2 L218.3,720.7 L218.8,720.2 L219.2,719.7 L219.6,719.2 L220.1,718.5 L220.5,718.0 L220.8,717.2 L221.1,716.5 L221.3,715.7 L221.4,715.0 L221.6,714.1 L221.7,713.2 L221.7,712.2 L221.7,711.2 L221.6,710.2 L221.5,709.5 L221.3,708.5 L221.1,707.7 L220.9,707.0 L220.7,706.2 L220.4,705.5 L220.1,704.7 L219.8,704.2 L219.5,703.5 L219.1,702.7 L218.8,702.2 L218.3,701.6 L217.8,701.0 L217.3,700.6 L216.8,700.2 L216.1,699.7 L215.6,699.5 L214.8,699.2 L213.8,699.0 L213.1,698.9 L212.1,698.8 L211.1,698.8 L210.1,698.8 L209.1,698.8 L208.3,699.0 L207.6,699.2 L206.8,699.6 L206.3,700.0 L205.6,700.4 L205.1,700.9 L204.6,701.4 L204.1,702.0 L203.7,702.5 L203.3,703.0 L202.9,703.7 L202.6,704.2 L202.1,704.9 L201.8,705.5 L201.4,706.2 L201.0,706.7 L200.6,707.5 L200.3,708.0 L200.0,708.7 L199.6,709.5 L199.3,710.1 L199.1,710.8 L198.8,711.5 L198.6,712.4 L198.4,713.2 L198.3,714.0 L198.2,715.0 L198.1,716.0 L198.2,717.0 L198.3,717.8 L198.5,718.7 L198.7,719.5 L199.0,720.2 L199.3,721.0 L199.7,721.5 L200.1,722.0 L200.6,722.6 L201.1,723.1 L201.6,723.5 L202.3,724.0 L202.8,724.2 L203.6,724.5 L204.3,724.8 L205.2,725.0 L206.1,725.1 L207.0,725.2 L207.8,725.2 L207.8,725.2Z M208.8,724.0 L209.6,723.8 L210.3,723.5 L211.1,723.2 L211.8,723.0 L212.5,722.7 L213.1,722.4 L213.8,722.1 L214.5,721.7 L215.1,721.3 L215.6,720.9 L216.3,720.5 L216.8,720.1 L217.3,719.6 L217.8,719.1 L218.3,718.5 L218.8,718.0 L219.1,717.5 L219.6,716.7 L219.8,716.0 L220.1,715.2 L220.3,714.5 L220.4,713.7 L220.4,712.7 L220.4,711.7 L220.4,710.7 L220.3,710.0 L220.2,709.0 L220.0,708.2 L219.8,707.5 L219.5,706.7 L219.1,706.0 L218.8,705.3 L218.5,704.7 L218.1,704.0 L217.8,703.5 L217.3,702.9 L216.8,702.3 L216.3,701.9 L215.8,701.5 L215.1,701.0 L214.3,700.7 L213.6,700.6 L212.6,700.5 L211.6,700.5 L210.8,700.4 L209.8,700.4 L209.1,700.5 L208.3,700.8 L207.6,701.1 L207.1,701.5 L206.4,702.0 L205.9,702.5 L205.4,703.0 L205.0,703.5 L204.6,704.0 L204.1,704.6 L203.7,705.2 L203.3,705.7 L202.9,706.5 L202.6,707.0 L202.1,707.7 L201.8,708.2 L201.4,709.0 L201.1,709.5 L200.7,710.2 L200.4,711.0 L200.1,711.6 L199.8,712.4 L199.6,713.2 L199.4,714.0 L199.3,714.7 L199.2,715.7 L199.2,716.7 L199.3,717.7 L199.4,718.5 L199.6,719.2 L199.9,720.0 L200.3,720.7 L200.6,721.2 L201.1,721.7 L201.6,722.3 L202.1,722.7 L202.8,723.2 L203.4,723.5 L204.1,723.7 L205.1,724.0 L205.8,724.0 L206.8,724.1 L207.8,724.1 L208.8,724.0 L208.8,724.0Z M207.9,723.0 L208.8,722.7 L209.6,722.5 L210.3,722.2 L210.9,722.0 L211.6,721.7 L212.3,721.2 L212.9,721.0 L213.6,720.5 L214.1,720.1 L214.6,719.7 L215.3,719.2 L215.8,718.9 L216.3,718.4 L216.8,717.8 L217.3,717.3 L217.8,716.7 L218.2,716.2 L218.5,715.5 L218.8,714.7 L219.0,714.0 L219.1,713.0 L219.1,712.0 L219.1,711.0 L219.0,710.0 L218.8,709.2 L218.6,708.2 L218.3,707.5 L218.1,707.0 L217.7,706.2 L217.3,705.6 L216.9,705.0 L216.5,704.5 L216.0,704.0 L215.5,703.5 L214.8,703.0 L214.3,702.7 L213.6,702.4 L212.6,702.3 L211.6,702.3 L210.6,702.3 L209.6,702.3 L208.8,702.6 L208.2,703.0 L207.6,703.3 L207.1,703.7 L206.6,704.3 L206.1,704.7 L205.6,705.3 L205.2,706.0 L204.8,706.5 L204.4,707.2 L204.0,707.7 L203.6,708.3 L203.2,709.0 L202.8,709.5 L202.4,710.2 L202.1,710.7 L201.7,711.5 L201.3,712.1 L201.1,712.8 L200.8,713.5 L200.6,714.2 L200.4,715.2 L200.3,716.0 L200.3,717.0 L200.3,717.7 L200.5,718.7 L200.8,719.5 L201.1,720.2 L201.5,720.7 L202.0,721.2 L202.5,721.7 L203.1,722.2 L203.6,722.5 L204.3,722.7 L205.3,722.9 L206.1,723.0 L207.1,723.0 L207.9,723.0 L207.9,723.0Z M207.8,721.7 L208.6,721.5 L209.3,721.3 L209.9,721.0 L210.6,720.6 L211.3,720.2 L211.8,719.9 L212.4,719.5 L213.0,719.0 L213.5,718.5 L214.1,718.0 L214.6,717.7 L215.2,717.2 L215.6,716.7 L216.1,716.2 L216.6,715.6 L217.1,715.0 L217.3,714.4 L217.6,713.5 L217.7,712.7 L217.7,711.7 L217.7,710.7 L217.6,709.9 L217.4,709.0 L217.1,708.2 L216.8,707.7 L216.4,707.0 L216.0,706.5 L215.6,706.0 L215.0,705.5 L214.4,705.0 L213.8,704.6 L213.1,704.4 L212.1,704.3 L211.1,704.3 L210.1,704.3 L209.3,704.6 L208.7,705.0 L208.1,705.4 L207.6,705.9 L207.1,706.3 L206.7,707.0 L206.3,707.5 L205.8,708.1 L205.5,708.7 L205.1,709.2 L204.6,710.0 L204.2,710.5 L203.8,711.1 L203.3,711.7 L203.0,712.2 L202.6,712.8 L202.3,713.5 L202.0,714.2 L201.7,715.0 L201.5,715.7 L201.5,716.7 L201.5,717.7 L201.6,718.6 L201.8,719.3 L202.3,720.0 L202.8,720.5 L203.3,721.0 L203.8,721.4 L204.6,721.7 L205.3,721.8 L206.3,721.8 L207.3,721.8 L207.8,721.7Z M207.3,720.5 L208.1,720.4 L208.8,720.1 L209.5,719.7 L210.1,719.3 L210.7,719.0 L211.3,718.5 L211.8,718.0 L212.3,717.5 L212.8,717.0 L213.3,716.5 L213.9,716.2 L214.4,715.7 L214.9,715.2 L215.4,714.7 L215.9,714.2 L216.2,713.5 L216.4,712.7 L216.4,711.7 L216.4,710.7 L216.1,710.0 L216.1,709.2 L215.7,708.5 L215.3,707.9 L214.8,707.4 L214.2,707.0 L213.6,706.6 L212.8,706.3 L211.8,706.3 L210.8,706.3 L210.1,706.6 L209.3,706.8 L208.8,707.3 L208.2,707.7 L207.8,708.3 L207.5,709.0 L207.0,709.5 L206.6,710.1 L206.2,710.7 L205.7,711.2 L205.3,711.8 L204.8,712.3 L204.3,712.8 L204.0,713.5 L203.6,714.0 L203.2,714.7 L202.9,715.5 L202.7,716.2 L202.6,717.2 L202.6,718.2 L202.9,719.0 L203.4,719.5 L203.9,720.0 L204.6,720.4 L205.3,720.6 L206.3,720.6 L207.3,720.5 L207.3,720.5Z M164.0,655.5 L164.8,655.3 L165.6,655.1 L166.2,654.7 L166.8,654.3 L167.5,654.0 L168.0,653.5 L168.5,653.0 L168.7,652.2 L169.0,651.5 L169.0,650.5 L168.8,649.6 L168.5,649.0 L168.1,648.3 L167.6,647.8 L167.1,647.3 L166.3,647.1 L165.7,646.7 L165.1,646.3 L164.2,646.2 L163.3,646.1 L162.3,646.1 L161.3,646.1 L160.5,646.2 L159.6,646.3 L158.8,646.6 L158.2,647.0 L157.6,647.3 L157.1,647.8 L156.6,648.3 L156.1,648.8 L155.7,649.5 L155.5,650.2 L155.5,651.2 L155.7,652.0 L156.0,652.7 L156.5,653.2 L157.0,653.7 L157.5,654.2 L158.1,654.6 L158.8,654.8 L159.6,655.1 L160.3,655.3 L161.1,655.6 L162.1,655.6 L163.1,655.6 L164.0,655.5 L164.0,655.5Z M217.0,790.0 L217.8,789.8 L218.8,789.8 L219.8,789.8 L220.8,789.8 L221.8,789.8 L222.8,789.8 L223.8,789.8 L224.8,789.8 L225.8,789.8 L226.8,789.8 L227.8,789.8 L228.6,789.6 L229.6,789.6 L230.6,789.6 L231.6,789.6 L232.6,789.6 L233.6,789.6 L234.3,789.3 L235.3,789.3 L236.3,789.3 L237.1,789.1 L238.1,789.1 L238.8,788.8 L239.6,788.6 L240.0,788.0 L239.8,787.1 L239.6,786.3 L239.3,785.6 L239.0,785.0 L238.7,784.2 L238.5,783.5 L238.1,782.8 L237.7,782.2 L237.2,781.7 L236.8,781.1 L236.3,780.6 L235.7,780.2 L235.1,779.8 L234.5,779.5 L233.7,779.2 L233.0,779.0 L232.1,778.8 L231.3,778.6 L230.3,778.6 L229.6,778.3 L228.6,778.3 L227.6,778.3 L226.6,778.3 L225.6,778.3 L224.8,778.1 L223.8,778.1 L222.8,778.1 L221.8,778.1 L220.8,778.1 L219.8,778.1 L219.1,778.3 L218.1,778.3 L217.1,778.3 L216.1,778.3 L215.1,778.3 L214.1,778.3 L213.1,778.3 L212.3,778.6 L211.3,778.6 L210.3,778.6 L209.3,778.6 L208.6,778.8 L207.6,778.8 L206.6,778.8 L205.7,779.0 L204.8,779.1 L203.8,779.1 L203.0,779.2 L202.1,779.3 L201.1,779.3 L200.3,779.6 L199.3,779.6 L198.5,779.7 L197.6,779.8 L196.6,779.8 L195.8,780.1 L194.8,780.1 L194.1,780.3 L193.1,780.3 L192.3,780.6 L191.3,780.6 L190.6,780.8 L189.6,780.8 L188.8,781.1 L187.8,781.1 L187.1,781.3 L186.2,781.5 L185.3,781.6 L184.6,781.8 L183.8,782.1 L182.8,782.1 L182.1,782.3 L181.3,782.6 L180.6,782.8 L179.8,783.1 L179.1,783.3 L178.3,783.6 L177.6,783.8 L176.8,784.1 L176.2,784.5 L175.6,784.8 L175.0,785.2 L174.3,785.6 L173.8,786.1 L173.3,786.6 L172.8,787.1 L172.5,787.7 L172.2,788.5 L172.8,788.8 L173.8,788.8 L174.6,789.1 L175.5,789.2 L176.3,789.3 L177.3,789.3 L178.3,789.3 L179.1,789.6 L180.1,789.6 L181.1,789.6 L182.1,789.6 L183.1,789.6 L183.8,789.8 L184.8,789.8 L185.8,789.8 L186.8,789.8 L187.8,789.8 L188.8,789.8 L189.8,789.8 L190.8,789.8 L191.8,789.8 L192.8,789.8 L193.8,789.8 L194.8,789.8 L195.6,790.1 L196.6,790.1 L197.6,790.1 L198.6,790.1 L199.6,790.1 L200.6,790.1 L201.6,790.1 L202.6,790.1 L203.6,790.1 L204.6,790.1 L205.6,790.1 L206.6,790.1 L207.6,790.1 L208.6,790.1 L209.6,790.1 L210.6,790.1 L211.6,790.1 L212.6,790.1 L213.6,790.1 L214.6,790.1 L215.6,790.1 L216.6,790.1 L217.0,790.0Z M227.0,789.0 L227.8,788.8 L228.8,788.8 L229.6,788.6 L230.3,788.3 L231.1,788.1 L231.8,787.8 L232.3,787.3 L233.0,787.0 L233.5,786.5 L233.8,785.8 L234.0,785.0 L233.7,784.2 L233.3,783.6 L232.8,783.1 L232.3,782.6 L231.7,782.2 L231.1,781.8 L230.3,781.6 L229.6,781.3 L228.6,781.3 L227.8,781.1 L226.8,781.1 L225.8,781.1 L224.8,781.1 L223.8,781.1 L223.1,781.3 L222.3,781.6 L221.5,781.7 L220.8,782.1 L220.1,782.3 L219.5,782.7 L219.0,783.2 L218.5,783.7 L218.2,784.5 L218.0,785.2 L218.2,786.0 L218.6,786.6 L219.1,787.1 L219.7,787.5 L220.3,787.8 L221.1,788.1 L221.8,788.3 L222.6,788.6 L223.3,788.8 L224.3,788.8 L225.1,789.1 L226.1,789.1 L227.0,789.0 L227.0,789.0Z M228.0,788.5 L228.8,788.3 L229.6,788.1 L230.3,787.8 L231.0,787.5 L231.6,787.1 L232.0,786.5 L232.0,785.5 L231.5,785.0 L231.0,784.5 L230.3,784.1 L229.6,783.8 L228.8,783.6 L227.8,783.6 L226.8,783.6 L225.8,783.6 L225.0,783.7 L224.2,784.0 L223.5,784.2 L222.8,784.6 L222.3,785.1 L222.0,785.7 L222.1,786.6 L222.6,787.1 L223.1,787.6 L223.8,787.8 L224.6,788.1 L225.3,788.3 L226.1,788.6 L227.1,788.6 L228.0,788.5 L228.0,788.5Z"/>
</g>
<g clip-path="url(#cR)" fill="none" stroke="#000" stroke-width="1.0" stroke-linejoin="round">
<path d="M429.4,751.3 L430.1,751.0 L430.9,751.1 L431.9,751.1 L432.6,750.8 L433.6,750.9 L434.4,750.6 L435.4,750.6 L436.1,750.4 L437.1,750.4 L437.9,750.1 L438.7,750.0 L439.6,749.9 L440.4,749.7 L441.2,749.5 L442.1,749.5 L442.9,749.2 L443.6,749.0 L444.5,748.8 L445.4,748.7 L446.1,748.4 L446.9,748.1 L447.6,747.9 L448.4,747.8 L449.4,747.6 L450.1,747.4 L450.9,747.2 L451.6,747.0 L452.4,746.8 L452.9,746.6 L453.6,746.4 L454.4,746.2 L455.1,746.0 L455.9,745.6 L456.4,745.3 L457.1,744.9 L457.8,744.5 L458.4,744.2 L459.1,743.9 L459.8,743.5 L460.4,743.2 L461.1,742.8 L461.6,742.4 L462.2,742.0 L462.6,741.5 L463.3,741.0 L463.9,740.7 L464.4,740.2 L465.0,739.8 L465.6,739.4 L466.1,738.9 L466.6,738.5 L467.1,738.0 L467.7,737.5 L468.2,737.0 L468.7,736.5 L469.4,736.2 L469.9,735.8 L470.4,735.3 L470.9,734.8 L471.4,734.3 L471.9,733.8 L472.4,733.3 L472.9,732.8 L473.4,732.3 L473.9,731.6 L474.4,731.1 L474.8,730.5 L475.1,730.0 L475.6,729.5 L476.1,729.0 L476.6,728.4 L477.1,727.9 L477.5,727.3 L477.9,726.7 L478.4,726.2 L478.7,725.5 L479.1,724.8 L479.4,724.3 L479.5,723.8 L479.9,723.2 L480.1,722.5 L480.4,721.8 L480.8,721.0 L481.1,720.3 L481.4,719.8 L481.8,719.0 L482.1,718.5 L482.4,717.8 L482.6,717.0 L482.9,716.3 L483.1,715.5 L483.4,714.8 L483.6,713.8 L483.9,713.1 L484.0,712.3 L484.3,711.5 L484.6,710.9 L484.7,710.0 L485.0,709.3 L485.1,708.3 L485.1,707.3 L485.1,706.5 L485.1,705.5 L485.1,704.5 L485.1,703.5 L485.1,702.5 L485.1,701.7 L484.9,700.8 L484.9,699.8 L484.7,699.0 L484.6,698.2 L484.5,697.3 L484.2,696.5 L484.1,695.8 L483.9,695.0 L483.6,694.3 L483.3,693.5 L483.0,692.8 L482.7,692.0 L482.4,691.3 L482.1,690.5 L481.8,690.0 L481.6,689.3 L481.4,688.3 L481.1,687.5 L480.9,687.0 L480.5,686.3 L480.2,685.5 L480.0,684.8 L479.6,684.1 L479.3,683.5 L479.1,682.8 L478.9,682.0 L478.6,681.3 L478.2,680.5 L477.9,680.0 L477.5,679.3 L477.1,678.5 L476.8,678.0 L476.4,677.5 L475.9,676.8 L475.6,676.3 L475.1,675.6 L474.8,675.0 L474.4,674.4 L474.0,673.8 L473.6,673.2 L473.1,672.5 L472.7,672.0 L472.2,671.5 L471.9,670.9 L471.4,670.3 L471.0,669.8 L470.6,669.1 L470.3,668.5 L469.9,667.8 L469.5,667.3 L469.1,666.5 L468.9,666.0 L468.5,665.3 L468.1,664.8 L467.9,664.3 L467.5,663.8 L467.2,663.0 L466.7,662.5 L466.4,661.9 L465.9,661.4 L465.5,660.8 L465.0,660.3 L464.6,659.7 L464.1,659.1 L463.6,658.5 L463.4,658.0 L462.9,657.4 L462.4,656.8 L462.1,656.2 L461.6,655.7 L461.1,655.2 L460.6,654.7 L460.0,654.3 L459.4,653.9 L458.6,653.6 L458.1,653.1 L457.6,652.7 L457.1,652.2 L456.6,651.8 L456.1,651.3 L455.6,650.7 L454.9,650.3 L454.5,649.8 L454.0,649.3 L453.4,648.8 L452.9,648.3 L452.5,647.8 L451.9,647.5 L451.4,647.0 L450.9,646.5 L450.4,646.3 L449.9,645.8 L449.3,645.5 L448.6,645.1 L448.1,644.7 L447.5,644.3 L446.9,643.8 L446.4,643.5 L445.6,643.1 L445.1,642.8 L444.4,642.4 L443.9,641.9 L443.4,641.5 L442.9,641.0 L442.4,640.5 L441.7,640.0 L441.1,639.7 L440.5,639.3 L439.9,638.8 L439.4,638.3 L438.6,638.1 L438.1,637.5 L437.8,637.5 L437.1,637.1 L436.4,636.8 L435.8,636.5 L435.1,636.1 L434.4,635.9 L433.6,635.6 L432.9,635.4 L432.1,635.1 L431.4,634.9 L430.6,634.7 L429.9,634.5 L429.1,634.2 L428.4,634.0 L427.4,634.0 L426.6,633.8 L425.9,633.5 L424.9,633.5 L423.9,633.3 L423.1,633.1 L422.1,633.1 L421.4,633.0 L420.6,632.8 L419.6,632.8 L418.9,632.8 L418.1,632.6 L417.1,632.7 L416.1,632.7 L415.4,632.8 L414.4,632.9 L413.4,632.9 L412.4,632.8 L411.6,632.7 L410.6,632.6 L410.1,632.8 L409.1,632.7 L408.4,632.9 L407.6,633.1 L407.1,633.2 L406.3,633.3 L405.6,633.6 L404.9,633.9 L404.1,634.2 L403.6,634.5 L402.9,634.9 L402.3,635.3 L401.6,635.6 L401.1,636.1 L400.4,636.4 L399.9,636.8 L399.1,637.3 L398.6,637.6 L398.1,638.1 L397.6,638.6 L396.9,639.0 L396.5,639.5 L396.0,640.0 L395.5,640.5 L395.0,641.0 L394.6,641.7 L394.1,642.2 L393.6,642.7 L393.2,643.3 L392.7,643.8 L392.2,644.3 L391.9,644.9 L391.5,645.5 L391.0,646.0 L390.6,646.6 L390.1,647.1 L389.7,647.8 L389.4,648.3 L388.9,649.0 L388.4,649.5 L388.1,650.1 L387.6,650.8 L387.4,651.3 L386.9,652.0 L386.6,652.7 L386.2,653.3 L385.9,654.0 L385.5,654.5 L385.1,655.2 L384.8,655.8 L384.3,656.3 L384.0,657.0 L383.5,657.5 L383.1,658.2 L382.7,658.8 L382.4,659.4 L382.0,660.0 L381.5,660.5 L381.1,661.2 L380.7,661.8 L380.4,662.4 L380.0,663.0 L379.5,663.5 L379.1,664.2 L378.6,664.7 L378.2,665.3 L377.7,665.8 L377.4,666.4 L377.0,667.0 L376.5,667.5 L376.1,668.2 L375.8,668.8 L375.3,669.3 L374.9,670.0 L374.5,670.5 L374.0,671.0 L373.6,671.7 L373.3,672.3 L372.9,673.0 L372.5,673.5 L372.0,674.0 L371.6,674.7 L371.2,675.3 L370.9,675.8 L370.4,676.4 L369.9,677.0 L369.4,677.5 L369.0,678.0 L368.6,678.5 L368.3,679.3 L368.0,680.0 L367.7,680.8 L367.6,681.4 L367.4,682.0 L367.1,682.6 L366.7,683.3 L366.4,684.0 L366.1,684.8 L365.8,685.3 L365.5,686.0 L365.1,686.8 L364.9,687.5 L364.8,688.3 L364.6,689.0 L364.6,689.8 L364.8,690.8 L364.9,691.5 L364.9,692.5 L365.0,693.5 L365.0,694.5 L365.1,695.3 L365.3,696.3 L365.6,697.0 L365.6,698.0 L365.9,698.5 L365.9,699.1 L366.1,699.5 L366.3,700.3 L366.6,701.0 L366.8,701.8 L367.1,702.3 L367.6,703.0 L367.8,703.8 L368.4,704.2 L368.8,704.8 L369.1,705.3 L369.6,705.9 L370.0,706.5 L370.5,707.0 L370.9,707.7 L371.2,708.3 L371.6,709.0 L372.0,709.5 L372.4,710.0 L372.8,710.8 L373.1,711.4 L373.4,712.0 L373.8,712.8 L374.2,713.3 L374.4,714.0 L374.9,714.5 L375.2,715.3 L375.5,716.0 L375.9,716.7 L376.2,717.3 L376.6,718.0 L377.1,718.3 L377.4,719.0 L377.9,719.6 L378.3,720.3 L378.6,720.8 L379.1,721.5 L379.4,722.0 L379.8,722.8 L380.1,723.4 L380.5,724.0 L380.9,724.8 L381.1,725.3 L381.5,726.0 L381.9,726.8 L382.1,727.3 L382.5,728.0 L382.9,728.6 L383.2,729.3 L383.6,730.0 L384.1,730.5 L384.4,731.0 L384.9,731.7 L385.4,732.2 L385.8,732.8 L386.1,733.3 L386.6,733.8 L387.2,734.3 L387.6,734.8 L388.2,735.3 L388.7,735.8 L389.1,736.4 L389.6,736.9 L390.1,737.5 L390.6,738.0 L391.0,738.5 L391.4,739.0 L391.9,739.6 L392.6,740.0 L393.0,740.5 L393.5,741.0 L394.1,741.4 L394.6,741.9 L395.2,742.3 L395.7,742.8 L396.4,743.2 L397.0,743.5 L397.6,743.9 L398.1,744.4 L398.9,744.6 L399.4,745.1 L400.1,745.4 L400.8,745.8 L401.4,746.1 L402.1,746.4 L402.7,746.8 L403.4,747.0 L404.1,747.5 L404.9,747.7 L405.6,747.9 L406.4,748.1 L407.1,748.3 L407.6,748.5 L408.4,748.6 L409.4,748.8 L410.1,749.0 L410.9,749.3 L411.4,749.5 L412.3,749.8 L413.1,749.9 L413.9,750.1 L414.6,750.4 L415.6,750.4 L416.4,750.7 L417.3,750.8 L418.1,750.9 L419.1,750.8 L419.9,751.1 L420.9,751.1 L421.6,751.4 L422.6,751.5 L423.6,751.5 L424.6,751.5 L425.6,751.4 L426.6,751.4 L427.6,751.3 L428.6,751.3 L429.4,751.3 L429.4,751.3Z M427.6,749.3 L428.6,749.2 L429.4,749.0 L430.4,749.0 L431.4,749.0 L432.2,748.8 L432.9,748.8 L433.6,748.7 L434.6,748.7 L435.4,748.5 L436.4,748.5 L437.4,748.3 L438.1,748.2 L439.1,748.2 L439.9,748.0 L440.9,747.8 L441.4,747.8 L442.1,747.7 L442.9,747.5 L443.9,747.4 L444.6,747.2 L445.4,746.9 L446.1,746.7 L446.9,746.3 L447.6,746.1 L448.4,745.9 L449.1,745.7 L449.9,745.5 L450.9,745.4 L451.6,745.3 L452.6,745.2 L453.4,745.0 L454.1,744.8 L455.1,744.6 L455.7,744.3 L456.4,743.9 L457.1,743.6 L457.6,743.3 L458.4,742.9 L459.1,742.6 L459.6,742.2 L460.4,741.9 L460.9,741.5 L461.6,741.1 L462.1,740.7 L462.7,740.3 L463.3,739.8 L463.8,739.3 L464.4,738.9 L464.9,738.5 L465.4,738.0 L466.0,737.5 L466.5,737.0 L467.1,736.6 L467.6,736.1 L468.1,735.6 L468.6,735.3 L469.2,734.8 L469.8,734.3 L470.4,733.9 L470.9,733.5 L471.4,733.0 L471.9,732.5 L472.4,731.9 L472.8,731.3 L473.2,730.8 L473.6,730.3 L474.1,729.7 L474.6,729.1 L475.1,728.6 L475.5,728.0 L476.1,727.6 L476.5,727.0 L476.9,726.5 L477.4,725.9 L477.6,725.3 L478.0,724.5 L478.4,723.9 L478.6,723.1 L478.9,722.5 L479.1,721.8 L479.4,721.0 L479.7,720.3 L480.1,719.5 L480.4,719.0 L480.7,718.3 L481.0,717.5 L481.3,716.8 L481.6,716.0 L481.8,715.3 L482.0,714.5 L482.2,713.8 L482.4,713.0 L482.5,712.0 L482.7,711.3 L482.9,710.5 L483.0,709.5 L483.2,708.8 L483.4,708.0 L483.5,707.0 L483.5,706.0 L483.5,705.0 L483.5,704.0 L483.5,703.0 L483.4,702.1 L483.3,701.3 L483.2,700.3 L483.1,699.5 L482.9,698.5 L482.8,697.8 L482.6,696.9 L482.4,696.1 L482.1,695.4 L481.9,694.7 L481.6,694.0 L481.2,693.3 L480.9,692.7 L480.5,692.0 L480.1,691.3 L479.9,690.7 L479.6,690.0 L479.3,689.3 L479.0,688.5 L478.6,687.8 L478.4,687.2 L478.1,686.5 L477.6,685.8 L477.3,685.3 L476.9,684.5 L476.6,683.9 L476.2,683.3 L475.9,682.8 L475.4,682.1 L474.9,681.5 L474.5,681.0 L474.1,680.5 L473.7,679.8 L473.3,679.3 L472.9,678.5 L472.6,677.8 L472.3,677.3 L471.9,676.5 L471.6,676.0 L471.1,675.4 L470.7,674.8 L470.3,674.3 L469.9,673.7 L469.4,673.0 L469.0,672.5 L468.6,672.0 L468.1,671.4 L467.6,670.8 L467.2,670.3 L466.8,669.8 L466.3,669.3 L465.9,668.7 L465.4,668.0 L465.0,667.5 L464.6,667.0 L464.1,666.4 L463.6,665.8 L463.3,665.3 L462.9,664.6 L462.5,664.0 L462.1,663.4 L461.6,662.8 L461.3,662.3 L460.9,661.7 L460.4,661.1 L460.0,660.5 L459.6,660.0 L459.1,659.4 L458.8,658.8 L458.4,658.2 L457.9,657.7 L457.4,657.2 L456.9,656.8 L456.3,656.3 L455.8,655.8 L455.3,655.3 L454.9,654.8 L454.4,654.1 L454.0,653.5 L453.6,653.0 L453.1,652.5 L452.6,651.8 L452.2,651.3 L451.7,650.8 L451.3,650.3 L450.8,649.8 L450.1,649.3 L449.6,648.8 L449.1,648.5 L448.6,648.0 L447.9,647.5 L447.4,647.1 L446.9,646.7 L446.3,646.3 L445.8,645.8 L445.1,645.3 L444.6,644.9 L444.1,644.5 L443.5,644.0 L442.9,643.6 L442.4,643.2 L441.9,642.8 L441.4,642.2 L440.9,641.7 L440.4,641.3 L439.9,640.8 L439.3,640.3 L438.7,639.8 L438.1,639.4 L437.6,639.0 L436.9,638.6 L436.3,638.3 L435.6,637.9 L434.9,637.6 L434.1,637.3 L433.5,637.0 L432.7,636.8 L431.9,636.6 L431.1,636.4 L430.4,636.3 L429.4,636.0 L428.6,635.9 L427.9,635.7 L427.1,635.5 L426.3,635.3 L425.5,635.0 L424.6,634.9 L423.9,634.7 L422.9,634.6 L422.1,634.4 L421.1,634.4 L420.4,634.2 L419.4,634.2 L418.4,634.2 L417.4,634.0 L416.9,634.1 L415.9,634.2 L414.9,634.2 L413.9,634.2 L412.9,634.2 L411.9,634.1 L411.1,634.0 L410.1,634.0 L409.1,634.0 L408.4,634.1 L407.4,634.2 L406.6,634.4 L405.9,634.6 L405.1,634.9 L404.4,635.3 L403.8,635.5 L403.1,635.9 L402.4,636.3 L401.8,636.5 L401.1,637.0 L400.5,637.3 L399.9,637.7 L399.4,638.2 L398.7,638.5 L398.2,639.0 L397.7,639.5 L397.1,640.0 L396.7,640.5 L396.2,641.0 L395.6,641.5 L395.3,642.0 L394.7,642.5 L394.1,643.0 L393.7,643.5 L393.3,644.0 L392.8,644.5 L392.4,645.3 L392.0,645.8 L391.6,646.3 L391.1,647.0 L390.7,647.5 L390.4,648.1 L389.9,648.8 L389.5,649.3 L389.1,650.0 L388.8,650.5 L388.4,651.3 L388.1,652.0 L387.9,652.6 L387.6,653.4 L387.3,654.0 L387.0,654.8 L386.6,655.5 L386.3,656.0 L385.9,656.8 L385.5,657.3 L385.2,658.0 L384.9,658.6 L384.5,659.3 L384.1,660.0 L383.9,660.7 L383.6,661.3 L383.2,662.0 L382.9,662.7 L382.5,663.3 L382.1,664.0 L381.8,664.5 L381.4,665.3 L381.1,665.8 L380.7,666.5 L380.4,667.2 L380.1,667.8 L379.7,668.5 L379.4,669.1 L379.0,669.8 L378.6,670.3 L378.1,671.0 L377.9,671.6 L377.4,672.3 L377.1,672.8 L376.7,673.5 L376.4,674.3 L376.1,675.0 L375.9,675.7 L375.6,676.3 L375.3,677.0 L375.0,677.8 L374.6,678.5 L374.3,679.0 L373.9,679.8 L373.6,680.3 L373.2,681.0 L372.9,681.7 L372.6,682.3 L372.2,683.0 L371.9,683.8 L371.6,684.5 L371.4,685.3 L371.1,686.0 L370.9,686.8 L370.8,687.5 L370.9,688.4 L370.9,689.3 L371.0,690.3 L371.1,691.1 L371.2,692.0 L371.1,693.0 L371.2,694.0 L371.3,695.0 L371.4,695.8 L371.6,696.8 L371.7,697.5 L372.0,698.3 L372.3,699.0 L372.6,699.7 L372.9,700.3 L373.4,700.9 L373.8,701.5 L374.1,702.1 L374.5,702.8 L374.9,703.4 L375.2,704.0 L375.5,704.8 L375.8,705.5 L376.1,706.3 L376.4,707.0 L376.6,707.6 L376.9,708.3 L377.2,709.0 L377.5,709.8 L377.8,710.5 L378.1,711.2 L378.4,712.0 L378.6,712.6 L378.9,713.3 L379.3,714.0 L379.6,714.5 L380.1,715.3 L380.4,715.8 L380.9,716.3 L381.3,717.0 L381.7,717.5 L382.1,718.1 L382.6,718.8 L382.9,719.3 L383.3,720.0 L383.6,720.6 L384.0,721.3 L384.3,722.0 L384.6,722.8 L384.8,723.5 L385.1,724.2 L385.4,724.9 L385.6,725.6 L385.9,726.3 L386.2,727.0 L386.5,727.8 L386.9,728.4 L387.2,729.0 L387.6,729.6 L388.1,730.1 L388.6,730.7 L389.1,731.3 L389.6,731.8 L390.0,732.3 L390.4,732.8 L390.9,733.3 L391.4,733.9 L391.7,734.5 L392.1,735.0 L392.6,735.7 L393.1,736.3 L393.5,736.8 L394.0,737.3 L394.6,737.8 L395.1,738.3 L395.6,738.8 L396.1,739.1 L396.6,739.5 L397.3,740.0 L397.9,740.5 L398.4,740.8 L399.1,741.3 L399.6,741.7 L400.3,742.0 L400.9,742.5 L401.4,742.8 L402.1,743.3 L402.6,743.7 L403.1,744.0 L403.9,744.5 L404.4,744.8 L405.1,745.2 L405.9,745.5 L406.6,745.8 L407.4,746.0 L408.1,746.2 L408.9,746.4 L409.6,746.6 L410.4,746.8 L411.1,747.1 L411.9,747.3 L412.8,747.5 L413.6,747.8 L414.4,748.0 L415.1,748.1 L416.1,748.2 L416.9,748.4 L417.9,748.4 L418.9,748.5 L419.6,748.6 L420.4,748.8 L421.4,749.0 L422.1,749.2 L422.9,749.4 L423.9,749.5 L424.9,749.5 L425.9,749.4 L426.9,749.4 L427.6,749.3 L427.6,749.3Z M428.6,747.0 L429.6,746.9 L430.6,747.0 L431.6,746.9 L432.6,746.9 L433.4,746.8 L434.4,746.8 L435.4,746.7 L436.4,746.6 L437.1,746.5 L438.1,746.4 L439.1,746.3 L439.9,746.3 L440.9,746.1 L441.6,746.0 L442.6,745.8 L443.4,745.6 L444.1,745.5 L444.9,745.3 L445.6,745.0 L446.4,744.7 L447.1,744.5 L448.1,744.3 L448.9,744.1 L449.6,743.9 L450.4,743.8 L451.4,743.6 L452.1,743.4 L453.1,743.3 L453.9,743.2 L454.6,743.0 L455.4,742.8 L456.1,742.5 L456.9,742.1 L457.5,741.8 L458.1,741.5 L458.9,741.1 L459.5,740.8 L460.1,740.5 L460.9,740.1 L461.4,739.7 L462.0,739.3 L462.6,738.9 L463.1,738.5 L463.6,738.0 L464.3,737.5 L464.9,737.1 L465.4,736.7 L465.9,736.2 L466.4,735.8 L466.9,735.3 L467.4,734.8 L468.1,734.3 L468.6,733.9 L469.1,733.5 L469.7,733.0 L470.3,732.5 L470.8,732.0 L471.3,731.5 L471.7,731.0 L472.1,730.5 L472.6,729.9 L473.1,729.3 L473.4,728.8 L473.9,728.3 L474.4,727.8 L474.9,727.3 L475.4,726.8 L475.9,726.2 L476.3,725.5 L476.6,725.0 L477.0,724.3 L477.3,723.5 L477.5,722.8 L477.8,722.0 L478.1,721.3 L478.3,720.5 L478.6,719.9 L478.9,719.3 L479.2,718.5 L479.5,717.8 L479.8,717.0 L480.1,716.3 L480.3,715.5 L480.5,714.8 L480.6,714.0 L480.8,713.0 L480.9,712.3 L481.0,711.3 L481.1,710.3 L481.1,709.5 L481.2,708.5 L481.3,707.5 L481.4,706.8 L481.5,705.8 L481.5,704.8 L481.5,703.8 L481.5,702.8 L481.4,701.8 L481.4,700.8 L481.2,700.0 L481.1,699.2 L480.9,698.3 L480.7,697.5 L480.5,696.8 L480.2,696.0 L479.9,695.3 L479.6,694.8 L479.2,694.0 L478.9,693.4 L478.5,692.8 L478.1,692.0 L477.8,691.5 L477.4,690.8 L477.1,690.2 L476.7,689.5 L476.4,689.0 L475.9,688.3 L475.5,687.8 L475.1,687.3 L474.6,686.6 L474.2,686.0 L473.8,685.5 L473.4,684.8 L473.0,684.3 L472.6,683.8 L472.1,683.3 L471.6,682.7 L471.1,682.1 L470.7,681.5 L470.2,681.0 L469.9,680.5 L469.4,679.8 L469.0,679.3 L468.6,678.7 L468.2,678.0 L467.8,677.5 L467.4,676.8 L467.0,676.3 L466.6,675.7 L466.1,675.1 L465.7,674.5 L465.2,674.0 L464.7,673.5 L464.3,673.0 L463.8,672.5 L463.2,672.0 L462.7,671.5 L462.2,671.0 L461.6,670.5 L461.1,670.1 L460.6,669.6 L460.1,669.1 L459.7,668.5 L459.3,668.0 L458.9,667.3 L458.6,666.8 L458.2,666.0 L457.9,665.5 L457.4,664.8 L457.0,664.3 L456.6,663.6 L456.2,663.0 L455.8,662.5 L455.4,661.9 L455.0,661.3 L454.6,660.8 L454.1,660.1 L453.7,659.5 L453.4,658.9 L453.0,658.3 L452.7,657.5 L452.4,656.9 L452.1,656.3 L451.7,655.5 L451.4,655.0 L451.0,654.3 L450.6,653.7 L450.1,653.0 L449.7,652.5 L449.3,652.0 L448.8,651.5 L448.2,651.0 L447.6,650.6 L447.1,650.1 L446.6,649.7 L446.1,649.2 L445.6,648.7 L445.1,648.1 L444.6,647.6 L444.1,647.1 L443.6,646.6 L443.1,646.2 L442.6,645.7 L442.1,645.2 L441.5,644.8 L440.9,644.3 L440.4,643.8 L439.9,643.3 L439.4,642.8 L438.9,642.3 L438.4,641.8 L437.9,641.3 L437.4,640.9 L436.9,640.5 L436.2,640.0 L435.6,639.7 L434.9,639.3 L434.4,639.0 L433.6,638.7 L432.9,638.4 L432.1,638.2 L431.4,638.0 L430.4,637.8 L429.6,637.6 L428.9,637.5 L428.1,637.3 L427.4,637.0 L426.4,636.8 L425.6,636.6 L424.9,636.4 L424.1,636.3 L423.1,636.1 L422.4,636.0 L421.4,635.9 L420.6,635.8 L419.6,635.7 L418.6,635.6 L417.7,635.5 L416.9,635.5 L415.9,635.5 L414.9,635.5 L413.9,635.5 L412.9,635.5 L411.9,635.3 L411.1,635.3 L410.1,635.3 L409.1,635.3 L408.4,635.3 L407.4,635.5 L406.6,635.7 L405.9,635.9 L405.1,636.2 L404.4,636.5 L403.7,636.8 L403.1,637.1 L402.4,637.5 L401.7,637.8 L401.1,638.1 L400.4,638.5 L399.9,638.9 L399.3,639.3 L398.8,639.8 L398.2,640.3 L397.6,640.8 L397.1,641.3 L396.6,641.8 L396.1,642.3 L395.6,642.8 L395.1,643.2 L394.6,643.6 L394.1,644.3 L393.6,644.8 L393.2,645.3 L392.9,645.9 L392.4,646.5 L392.0,647.0 L391.6,647.7 L391.2,648.3 L390.9,648.8 L390.4,649.5 L390.1,650.2 L389.8,650.8 L389.5,651.5 L389.2,652.3 L389.0,653.0 L388.9,653.8 L388.6,654.7 L388.4,655.5 L388.1,656.0 L387.7,656.8 L387.4,657.4 L387.0,658.0 L386.7,658.8 L386.4,659.5 L386.1,660.3 L385.9,661.0 L385.6,661.8 L385.4,662.5 L385.1,663.3 L384.9,664.0 L384.6,664.8 L384.4,665.5 L384.1,666.3 L383.9,667.0 L383.7,667.8 L383.4,668.5 L383.1,669.3 L382.9,669.9 L382.5,670.5 L382.1,671.3 L381.8,671.8 L381.4,672.4 L381.0,673.0 L380.6,673.8 L380.4,674.4 L380.1,675.3 L379.9,676.0 L379.8,676.8 L379.7,677.8 L379.6,678.5 L379.4,679.5 L379.2,680.3 L379.0,681.0 L378.8,681.8 L378.4,682.5 L378.2,683.3 L377.9,684.0 L377.6,684.8 L377.5,685.5 L377.4,686.5 L377.4,687.5 L377.4,688.5 L377.4,689.5 L377.5,690.5 L377.5,691.5 L377.4,692.5 L377.4,693.5 L377.4,694.5 L377.6,695.5 L377.7,696.3 L378.0,697.0 L378.2,697.8 L378.6,698.5 L378.8,699.3 L379.1,700.0 L379.3,700.8 L379.5,701.5 L379.8,702.3 L380.1,703.0 L380.4,703.6 L380.7,704.3 L381.1,704.9 L381.5,705.5 L381.9,706.3 L382.1,706.8 L382.4,707.5 L382.8,708.3 L383.1,709.0 L383.4,709.7 L383.6,710.3 L383.9,711.0 L384.2,711.8 L384.4,712.5 L384.7,713.3 L385.0,714.0 L385.3,714.8 L385.6,715.5 L385.9,716.0 L386.2,716.8 L386.6,717.5 L386.9,718.0 L387.2,718.8 L387.6,719.5 L387.9,720.0 L388.2,720.8 L388.6,721.5 L388.9,722.2 L389.1,722.9 L389.4,723.6 L389.6,724.3 L389.9,725.0 L390.1,725.8 L390.4,726.5 L390.7,727.3 L391.1,728.0 L391.4,728.6 L391.8,729.3 L392.2,729.8 L392.6,730.4 L393.1,731.0 L393.4,731.5 L393.9,732.2 L394.3,732.8 L394.7,733.3 L395.1,733.8 L395.6,734.4 L396.1,734.9 L396.6,735.4 L397.1,735.9 L397.6,736.4 L398.2,736.8 L398.9,737.3 L399.4,737.7 L399.9,738.1 L400.6,738.5 L401.1,738.9 L401.6,739.3 L402.2,739.8 L402.8,740.3 L403.4,740.8 L403.9,741.3 L404.4,741.7 L404.9,742.1 L405.5,742.5 L406.1,742.9 L406.8,743.3 L407.4,743.6 L408.1,743.9 L408.9,744.1 L409.6,744.4 L410.4,744.6 L411.1,744.9 L411.9,745.1 L412.6,745.4 L413.4,745.5 L414.3,745.8 L415.1,746.0 L415.9,746.1 L416.9,746.3 L417.6,746.4 L418.6,746.5 L419.4,746.6 L420.4,746.7 L421.1,746.9 L422.1,747.0 L422.9,747.2 L423.9,747.3 L424.9,747.3 L425.9,747.2 L426.9,747.2 L427.9,747.2 L428.6,747.0 L428.6,747.0Z M424.9,745.0 L425.9,745.0 L426.9,745.0 L427.9,745.0 L428.9,744.9 L429.9,744.9 L430.9,745.0 L431.9,745.0 L432.9,745.0 L433.9,745.0 L434.9,745.0 L435.9,745.0 L436.9,744.9 L437.9,744.8 L438.6,744.8 L439.6,744.7 L440.4,744.5 L441.4,744.4 L442.1,744.3 L442.9,744.0 L443.9,743.8 L444.6,743.6 L445.4,743.4 L446.1,743.2 L447.0,743.0 L447.9,742.9 L448.6,742.7 L449.4,742.5 L450.1,742.3 L450.9,742.0 L451.6,741.8 L452.6,741.6 L453.4,741.4 L454.3,741.3 L455.1,741.1 L455.9,740.8 L456.4,740.5 L457.1,740.3 L457.9,740.0 L458.6,739.6 L459.3,739.3 L459.9,739.0 L460.6,738.7 L461.3,738.3 L461.9,738.0 L462.5,737.5 L463.1,737.1 L463.6,736.8 L464.1,736.3 L464.8,735.8 L465.2,735.3 L465.8,734.8 L466.3,734.3 L466.9,733.9 L467.4,733.5 L467.9,733.0 L468.6,732.5 L469.1,732.1 L469.6,731.7 L470.1,731.2 L470.6,730.6 L471.1,730.0 L471.5,729.5 L471.9,729.0 L472.4,728.5 L472.8,727.8 L473.3,727.3 L473.7,726.8 L474.2,726.3 L474.6,725.8 L475.1,725.1 L475.5,724.5 L475.9,723.8 L476.1,723.3 L476.4,722.5 L476.6,721.8 L476.9,721.0 L477.1,720.2 L477.4,719.5 L477.6,718.8 L477.9,718.0 L478.3,717.3 L478.5,716.5 L478.8,715.8 L479.0,715.0 L479.1,714.3 L479.2,713.3 L479.3,712.3 L479.3,711.3 L479.2,710.3 L479.2,709.3 L479.2,708.3 L479.3,707.3 L479.4,706.5 L479.4,705.5 L479.5,704.5 L479.6,703.7 L479.6,702.8 L479.6,702.0 L479.5,701.0 L479.4,700.1 L479.1,699.3 L478.9,698.5 L478.6,697.8 L478.4,697.2 L478.0,696.5 L477.7,695.8 L477.4,695.2 L477.0,694.5 L476.6,693.9 L476.3,693.3 L475.9,692.5 L475.6,692.0 L475.1,691.3 L474.7,690.8 L474.3,690.3 L473.9,689.7 L473.4,689.1 L472.9,688.6 L472.4,688.1 L471.9,687.5 L471.4,687.0 L471.0,686.5 L470.6,686.0 L470.1,685.4 L469.6,684.9 L469.1,684.3 L468.7,683.8 L468.3,683.3 L467.9,682.8 L467.4,682.2 L466.9,681.6 L466.4,681.0 L466.0,680.5 L465.6,680.0 L465.1,679.5 L464.6,679.0 L464.1,678.5 L463.5,678.0 L462.9,677.6 L462.4,677.2 L461.8,676.8 L461.2,676.3 L460.7,675.8 L460.2,675.3 L459.7,674.8 L459.2,674.3 L458.8,673.8 L458.3,673.3 L457.7,672.8 L457.1,672.3 L456.6,671.8 L456.2,671.3 L455.7,670.8 L455.4,670.3 L454.9,669.5 L454.6,669.0 L454.2,668.3 L453.9,667.7 L453.5,667.0 L453.1,666.4 L452.8,665.8 L452.4,665.1 L452.0,664.5 L451.6,663.9 L451.2,663.3 L450.9,662.8 L450.5,662.0 L450.1,661.3 L449.9,660.6 L449.6,659.8 L449.4,659.1 L449.1,658.3 L448.9,657.6 L448.6,656.9 L448.4,656.3 L448.0,655.5 L447.6,654.8 L447.3,654.3 L446.9,653.7 L446.4,653.0 L445.9,652.5 L445.5,652.0 L444.9,651.5 L444.5,651.0 L444.1,650.5 L443.6,649.9 L443.2,649.3 L442.7,648.8 L442.3,648.3 L441.9,647.7 L441.4,647.1 L440.9,646.6 L440.4,646.1 L439.9,645.7 L439.4,645.3 L438.9,644.8 L438.4,644.2 L437.9,643.7 L437.4,643.3 L436.9,642.7 L436.4,642.2 L435.9,641.8 L435.2,641.3 L434.6,640.9 L434.0,640.5 L433.4,640.2 L432.6,639.9 L431.9,639.6 L431.1,639.5 L430.4,639.3 L429.4,639.0 L428.6,638.8 L427.9,638.7 L427.1,638.4 L426.4,638.2 L425.6,638.0 L424.6,637.8 L423.9,637.7 L422.9,637.6 L422.1,637.5 L421.1,637.5 L420.1,637.3 L419.4,637.2 L418.6,637.0 L417.6,636.9 L416.6,636.8 L415.6,636.8 L414.6,636.8 L413.9,636.8 L412.9,636.7 L411.9,636.6 L411.1,636.5 L410.1,636.5 L409.4,636.6 L408.4,636.6 L407.6,636.8 L406.6,637.0 L405.9,637.2 L405.1,637.5 L404.4,637.7 L403.6,638.0 L403.0,638.3 L402.4,638.6 L401.6,638.9 L401.0,639.3 L400.4,639.7 L399.8,640.0 L399.3,640.5 L398.6,641.0 L398.1,641.5 L397.6,642.0 L397.1,642.4 L396.6,642.9 L396.1,643.4 L395.5,643.8 L395.0,644.3 L394.6,644.9 L394.1,645.4 L393.7,646.0 L393.4,646.6 L392.9,647.2 L392.5,647.8 L392.1,648.5 L391.8,649.0 L391.4,649.8 L391.1,650.3 L390.8,651.0 L390.5,651.8 L390.3,652.5 L390.2,653.5 L390.0,654.3 L389.9,655.3 L389.8,656.0 L389.4,656.8 L389.2,657.5 L388.9,658.3 L388.6,658.8 L388.3,659.5 L388.1,660.3 L387.9,661.3 L387.7,662.0 L387.6,663.0 L387.5,663.8 L387.4,664.8 L387.3,665.5 L387.2,666.5 L387.0,667.3 L386.8,668.0 L386.6,669.0 L386.4,669.8 L386.3,670.5 L386.1,671.5 L385.9,672.3 L385.6,673.0 L385.4,673.8 L385.2,674.5 L384.9,675.3 L384.7,676.0 L384.6,676.8 L384.4,677.8 L384.4,678.8 L384.4,679.8 L384.4,680.8 L384.3,681.5 L384.3,682.5 L384.2,683.5 L384.1,684.5 L384.0,685.3 L383.9,686.3 L383.8,687.0 L383.6,688.0 L383.5,688.8 L383.3,689.5 L383.2,690.5 L383.1,691.3 L383.1,692.3 L383.1,693.0 L383.3,694.0 L383.5,694.8 L383.9,695.5 L384.1,696.0 L384.5,696.8 L384.9,697.4 L385.2,698.0 L385.5,698.8 L385.8,699.5 L386.0,700.3 L386.2,701.0 L386.5,701.8 L386.7,702.5 L387.0,703.3 L387.3,704.0 L387.5,704.8 L387.8,705.5 L388.1,706.3 L388.4,707.0 L388.6,707.7 L388.9,708.3 L389.1,709.2 L389.3,710.0 L389.4,710.8 L389.5,711.8 L389.6,712.8 L389.7,713.5 L389.9,714.5 L390.1,715.3 L390.3,716.0 L390.6,716.8 L390.8,717.5 L391.1,718.2 L391.4,718.9 L391.6,719.5 L391.9,720.3 L392.3,721.0 L392.6,721.8 L392.9,722.5 L393.1,723.1 L393.4,723.8 L393.7,724.5 L394.0,725.3 L394.3,726.0 L394.6,726.7 L395.0,727.3 L395.4,728.0 L395.7,728.5 L396.1,729.0 L396.6,729.8 L396.9,730.3 L397.4,730.9 L397.8,731.5 L398.2,732.0 L398.7,732.5 L399.1,733.1 L399.6,733.8 L400.0,734.3 L400.5,734.8 L401.0,735.3 L401.5,735.8 L402.1,736.3 L402.6,736.7 L403.1,737.1 L403.6,737.5 L404.2,738.0 L404.8,738.5 L405.3,739.0 L405.9,739.5 L406.4,739.9 L406.9,740.3 L407.6,740.8 L408.1,741.1 L408.9,741.5 L409.4,741.8 L410.1,742.2 L410.9,742.5 L411.6,742.7 L412.4,743.0 L413.1,743.2 L413.9,743.4 L414.6,743.6 L415.4,743.8 L416.4,744.0 L417.1,744.2 L417.9,744.4 L418.8,744.5 L419.6,744.6 L420.6,744.8 L421.4,744.9 L422.4,744.9 L423.4,745.0 L424.1,745.1 L424.9,745.0 L424.9,745.0Z M436.3,743.3 L437.1,743.3 L438.1,743.2 L439.1,743.2 L439.9,743.0 L440.9,742.8 L441.6,742.7 L442.4,742.5 L443.1,742.3 L444.1,742.1 L444.9,741.9 L445.6,741.7 L446.6,741.6 L447.4,741.4 L448.1,741.3 L449.0,741.0 L449.7,740.8 L450.4,740.5 L451.1,740.3 L452.0,740.0 L452.8,739.8 L453.6,739.7 L454.4,739.5 L455.1,739.3 L455.9,739.0 L456.6,738.7 L457.4,738.5 L458.1,738.1 L458.9,737.9 L459.6,737.6 L460.4,737.3 L461.0,737.0 L461.6,736.8 L462.3,736.3 L462.9,736.0 L463.4,735.5 L464.0,735.0 L464.5,734.5 L465.1,734.0 L465.6,733.5 L466.1,733.1 L466.6,732.7 L467.1,732.2 L467.7,731.8 L468.4,731.3 L468.9,730.9 L469.4,730.4 L469.8,729.8 L470.3,729.3 L470.7,728.8 L471.1,728.2 L471.6,727.6 L472.0,727.0 L472.4,726.5 L472.9,725.8 L473.4,725.3 L473.7,724.8 L474.1,724.1 L474.4,723.5 L474.8,722.8 L475.0,722.0 L475.3,721.3 L475.5,720.5 L475.7,719.8 L476.0,719.0 L476.3,718.3 L476.6,717.6 L476.9,717.0 L477.1,716.2 L477.4,715.5 L477.6,714.5 L477.6,713.8 L477.7,712.8 L477.7,711.8 L477.6,711.0 L477.5,710.0 L477.4,709.0 L477.4,708.0 L477.5,707.0 L477.6,706.1 L477.6,705.5 L477.7,704.8 L477.7,703.8 L477.8,702.8 L477.7,701.8 L477.6,701.0 L477.4,700.2 L477.1,699.5 L476.8,698.8 L476.4,698.0 L476.1,697.5 L475.7,696.8 L475.4,696.0 L475.1,695.5 L474.7,694.8 L474.4,694.2 L474.0,693.5 L473.6,693.0 L473.1,692.3 L472.6,691.8 L472.2,691.3 L471.7,690.8 L471.1,690.3 L470.6,689.9 L470.1,689.5 L469.6,689.0 L469.1,688.5 L468.6,688.0 L468.1,687.5 L467.6,687.0 L467.1,686.4 L466.6,686.0 L466.1,685.4 L465.6,684.9 L465.1,684.4 L464.6,683.9 L464.1,683.4 L463.6,683.0 L463.1,682.5 L462.5,682.0 L461.9,681.6 L461.4,681.3 L460.6,680.8 L460.1,680.5 L459.4,680.1 L458.9,679.7 L458.2,679.3 L457.6,678.9 L456.9,678.5 L456.4,678.2 L455.9,677.8 L455.2,677.3 L454.7,676.8 L454.1,676.3 L453.6,675.8 L453.2,675.3 L452.9,674.7 L452.4,674.1 L452.0,673.5 L451.6,673.0 L451.1,672.4 L450.7,671.8 L450.4,671.2 L450.0,670.5 L449.7,669.8 L449.4,669.1 L449.1,668.5 L448.8,667.8 L448.5,667.0 L448.2,666.3 L447.9,665.5 L447.6,664.8 L447.4,664.0 L447.1,663.3 L446.9,662.5 L446.7,661.8 L446.5,661.0 L446.3,660.3 L446.0,659.5 L445.9,658.8 L445.6,658.0 L445.3,657.3 L445.1,656.5 L444.7,655.8 L444.4,655.1 L444.0,654.5 L443.6,653.9 L443.2,653.3 L442.8,652.8 L442.4,652.2 L442.0,651.5 L441.6,651.0 L441.2,650.3 L440.8,649.8 L440.4,649.0 L440.0,648.5 L439.6,648.0 L439.1,647.4 L438.6,646.9 L438.1,646.5 L437.6,646.0 L437.1,645.4 L436.6,644.9 L436.1,644.5 L435.6,643.9 L435.1,643.4 L434.6,642.9 L434.1,642.5 L433.4,642.0 L432.9,641.7 L432.1,641.3 L431.5,641.0 L430.6,640.8 L429.9,640.6 L429.1,640.4 L428.4,640.1 L427.6,639.9 L426.9,639.7 L426.1,639.5 L425.1,639.4 L424.6,639.3 L423.9,639.2 L422.9,639.3 L421.9,639.1 L420.9,639.0 L420.1,638.8 L419.4,638.7 L418.6,638.5 L417.7,638.3 L416.9,638.2 L415.9,638.1 L414.9,638.1 L413.9,638.0 L413.1,638.0 L412.1,637.9 L411.1,637.8 L410.1,637.9 L409.1,637.9 L408.1,638.0 L407.4,638.1 L406.6,638.3 L405.7,638.5 L404.9,638.7 L404.1,639.0 L403.4,639.3 L402.6,639.5 L402.0,639.8 L401.4,640.2 L400.7,640.5 L400.1,641.0 L399.6,641.4 L399.0,641.8 L398.4,642.3 L397.9,642.8 L397.4,643.2 L396.9,643.7 L396.4,644.1 L395.8,644.5 L395.4,645.1 L394.9,645.7 L394.4,646.3 L394.1,646.9 L393.6,647.5 L393.3,648.0 L392.9,648.8 L392.6,649.4 L392.3,650.0 L391.9,650.8 L391.7,651.5 L391.5,652.3 L391.3,653.0 L391.2,654.0 L391.2,655.0 L391.2,656.0 L390.9,656.8 L390.8,657.5 L390.6,658.4 L390.4,659.3 L390.1,660.0 L390.0,660.8 L389.8,661.5 L389.8,662.5 L389.8,663.5 L389.8,664.5 L389.9,665.3 L390.1,666.3 L390.0,667.3 L389.9,668.3 L389.8,669.0 L389.8,670.0 L389.9,670.6 L389.7,671.5 L389.6,672.5 L389.6,673.3 L389.5,673.8 L389.4,674.6 L389.2,675.5 L389.1,676.3 L388.9,677.2 L388.8,678.0 L388.8,679.0 L388.9,679.8 L388.9,680.8 L389.1,681.8 L389.1,682.5 L389.2,683.5 L389.2,684.5 L389.2,685.5 L389.2,686.5 L389.2,687.5 L389.3,688.5 L389.3,689.5 L389.4,690.3 L389.5,691.3 L389.5,692.3 L389.7,693.0 L389.9,693.8 L390.1,694.5 L390.4,695.3 L390.6,696.0 L390.9,696.8 L391.1,697.6 L391.4,698.5 L391.4,699.3 L391.6,700.1 L391.7,701.0 L391.9,701.9 L392.0,702.8 L392.1,703.5 L392.3,704.5 L392.5,705.3 L392.7,706.0 L392.9,706.8 L393.1,707.7 L393.2,708.5 L393.4,709.4 L393.5,710.3 L393.5,711.3 L393.6,712.0 L393.8,713.0 L394.0,713.8 L394.3,714.5 L394.6,715.3 L394.8,716.0 L395.0,716.8 L395.2,717.5 L395.4,718.3 L395.6,719.0 L395.9,719.9 L396.1,720.8 L396.3,721.5 L396.6,722.3 L396.8,723.0 L397.1,723.8 L397.4,724.4 L397.6,725.0 L398.1,725.8 L398.4,726.3 L398.9,727.0 L399.2,727.5 L399.6,728.1 L400.1,728.7 L400.5,729.3 L400.9,729.9 L401.3,730.5 L401.6,731.0 L402.1,731.8 L402.4,732.3 L402.9,733.0 L403.3,733.5 L403.7,734.0 L404.2,734.5 L404.7,735.0 L405.2,735.5 L405.8,736.0 L406.4,736.5 L406.9,736.9 L407.4,737.3 L408.0,737.8 L408.6,738.2 L409.2,738.5 L409.9,739.0 L410.4,739.3 L411.1,739.7 L411.7,740.0 L412.4,740.3 L413.1,740.6 L413.9,740.9 L414.6,741.2 L415.4,741.4 L416.1,741.6 L416.9,741.9 L417.6,742.1 L418.5,742.3 L419.4,742.5 L420.1,742.6 L421.1,742.8 L421.9,742.9 L422.9,742.9 L423.9,742.9 L424.9,742.9 L425.9,742.8 L426.6,742.8 L427.4,742.9 L428.4,742.9 L429.4,742.8 L430.4,742.9 L431.1,743.1 L432.1,743.1 L433.1,743.2 L433.9,743.3 L434.9,743.4 L435.9,743.4 L436.3,743.3Z M435.6,741.5 L436.4,741.5 L437.4,741.5 L438.4,741.5 L439.4,741.5 L440.1,741.2 L441.1,741.2 L441.9,740.9 L442.9,740.9 L443.6,740.8 L444.6,740.6 L445.4,740.3 L446.4,740.4 L447.1,740.1 L447.9,739.9 L448.7,739.8 L449.6,739.6 L450.4,739.3 L451.0,739.0 L451.8,738.8 L452.6,738.5 L453.2,738.5 L453.9,738.3 L454.6,738.1 L455.4,737.8 L456.1,737.6 L456.9,737.4 L457.4,737.0 L458.1,736.6 L458.9,736.4 L459.6,736.2 L460.3,735.8 L460.9,735.5 L461.4,735.3 L461.9,735.0 L462.6,734.6 L463.1,734.3 L463.8,733.8 L464.3,733.3 L464.9,732.9 L465.4,732.4 L466.0,732.0 L466.5,731.5 L467.0,731.0 L467.6,730.7 L468.1,730.2 L468.5,729.5 L469.0,729.0 L469.5,728.5 L470.0,728.0 L470.4,727.4 L470.7,726.8 L471.2,726.3 L471.6,725.7 L472.0,725.0 L472.4,724.4 L472.7,723.8 L473.0,723.0 L473.4,722.4 L473.7,721.8 L474.0,721.0 L474.2,720.3 L474.5,719.5 L474.7,718.8 L475.0,718.0 L475.2,717.3 L475.5,716.5 L475.6,715.5 L475.8,714.8 L476.1,714.0 L476.1,713.0 L476.3,712.3 L476.2,711.3 L476.2,710.3 L476.1,709.3 L476.1,708.3 L476.1,707.3 L476.2,706.3 L476.0,705.5 L475.9,704.6 L475.8,703.8 L475.7,702.8 L475.4,702.0 L475.2,701.3 L474.9,700.5 L474.7,699.8 L474.4,699.1 L474.0,698.5 L473.7,697.8 L473.4,697.1 L472.9,696.5 L472.6,695.8 L472.2,695.3 L471.9,694.8 L471.4,694.1 L470.9,693.7 L470.3,693.3 L469.9,692.6 L469.4,692.2 L468.9,691.7 L468.4,691.2 L467.9,690.7 L467.4,690.3 L466.9,689.8 L466.1,689.3 L465.6,688.8 L465.1,688.5 L464.6,688.0 L463.9,687.5 L463.4,687.3 L462.9,686.8 L462.4,686.6 L461.8,686.3 L461.1,685.8 L460.7,685.5 L460.4,685.3 L459.6,685.0 L458.9,684.5 L458.4,684.2 L457.6,684.0 L456.9,683.5 L456.4,683.2 L455.7,682.8 L455.1,682.5 L454.6,682.3 L454.1,681.9 L453.5,681.5 L452.9,681.1 L452.4,680.5 L451.9,680.0 L451.4,679.7 L450.9,679.2 L450.4,678.7 L449.9,678.2 L449.4,677.7 L448.9,677.0 L448.4,676.5 L448.1,676.0 L447.6,675.4 L447.1,674.8 L446.8,674.3 L446.4,673.5 L446.1,673.0 L445.7,672.3 L445.5,671.5 L445.2,670.8 L445.0,670.0 L444.8,669.3 L444.6,668.8 L444.4,668.0 L444.2,667.3 L444.0,666.5 L443.9,665.7 L443.7,664.8 L443.5,664.0 L443.3,663.3 L443.3,662.3 L443.0,661.5 L442.9,660.6 L442.8,659.8 L442.6,659.0 L442.4,658.1 L442.3,657.3 L442.1,656.5 L441.8,655.8 L441.5,655.0 L441.2,654.3 L440.9,653.7 L440.4,653.0 L440.2,652.3 L439.9,651.5 L439.6,651.0 L439.2,650.3 L438.9,649.7 L438.4,649.0 L437.9,648.5 L437.6,648.0 L437.1,647.5 L436.6,647.0 L436.1,646.3 L435.6,646.0 L435.1,645.5 L434.6,645.0 L434.0,644.5 L433.4,644.2 L432.9,643.6 L432.1,643.4 L431.6,642.9 L430.9,642.6 L430.1,642.4 L429.5,642.0 L428.8,641.8 L428.1,641.4 L427.4,641.1 L426.6,640.9 L425.7,640.8 L424.9,640.7 L424.1,640.5 L423.4,640.3 L422.5,640.3 L421.9,640.1 L420.9,640.1 L420.1,639.8 L419.4,639.8 L418.4,639.7 L417.6,639.4 L416.6,639.4 L415.6,639.4 L414.6,639.4 L413.6,639.4 L412.6,639.4 L411.6,639.3 L411.1,639.3 L410.1,639.5 L409.1,639.5 L408.4,639.7 L407.4,639.7 L406.6,639.9 L405.9,640.1 L404.9,640.2 L404.1,640.5 L403.4,640.7 L402.6,640.9 L401.9,641.3 L401.3,641.5 L400.6,642.0 L400.1,642.3 L399.4,642.6 L398.7,643.0 L398.2,643.5 L397.6,643.9 L397.1,644.4 L396.5,644.8 L396.0,645.3 L395.6,645.9 L395.1,646.4 L394.7,647.0 L394.4,647.7 L394.0,648.3 L393.7,649.0 L393.4,649.8 L393.2,650.5 L392.9,651.3 L392.6,652.0 L392.6,652.8 L392.4,653.8 L392.2,654.5 L392.2,655.5 L392.3,656.5 L392.0,657.3 L392.0,658.3 L392.0,659.3 L391.9,660.3 L391.9,661.3 L391.9,662.3 L391.9,663.3 L391.9,664.3 L392.1,665.2 L392.2,666.0 L392.3,667.0 L392.3,668.0 L392.3,669.0 L392.6,669.8 L392.6,670.8 L392.6,671.8 L392.8,672.5 L392.8,673.5 L392.7,674.5 L392.9,675.3 L392.9,676.3 L393.1,677.0 L393.1,678.0 L393.4,678.8 L393.5,679.8 L393.8,680.5 L393.9,681.4 L394.1,682.0 L394.3,683.0 L394.6,683.8 L394.6,684.5 L394.6,685.1 L394.8,686.0 L394.9,686.8 L394.9,687.8 L394.9,688.3 L395.0,689.3 L395.3,690.0 L395.2,691.0 L395.5,691.8 L395.7,692.5 L395.7,693.5 L396.0,694.3 L396.0,695.3 L396.2,696.0 L396.4,696.9 L396.5,697.8 L396.6,698.7 L396.7,699.5 L396.9,700.5 L396.9,701.3 L397.1,702.3 L397.1,703.0 L397.1,704.0 L397.4,704.8 L397.4,705.8 L397.6,706.5 L397.6,707.5 L397.6,708.3 L397.8,709.0 L397.8,710.0 L397.9,711.0 L398.1,711.8 L398.1,712.5 L398.4,713.3 L398.4,714.3 L398.7,715.0 L398.9,715.9 L399.0,716.8 L399.3,717.5 L399.5,718.3 L399.6,719.1 L399.8,720.0 L400.0,720.8 L400.3,721.5 L400.5,722.3 L400.7,723.0 L401.0,723.8 L401.4,724.4 L401.6,725.1 L402.0,725.8 L402.3,726.5 L402.6,727.1 L403.0,727.8 L403.3,728.5 L403.8,729.0 L404.1,729.7 L404.5,730.3 L404.9,730.9 L405.4,731.4 L405.9,732.0 L406.2,732.5 L406.7,733.0 L407.1,733.5 L407.6,734.0 L408.4,734.5 L408.9,735.0 L409.4,735.3 L409.9,735.8 L410.6,736.2 L411.2,736.5 L411.9,736.9 L412.5,737.3 L413.1,737.7 L413.9,737.9 L414.6,738.2 L415.2,738.5 L415.9,738.8 L416.6,739.0 L417.4,739.3 L418.1,739.5 L418.9,739.8 L419.9,740.0 L420.6,740.3 L421.4,740.5 L422.1,740.8 L423.1,740.7 L423.9,740.9 L424.9,740.9 L425.6,741.1 L426.6,741.1 L427.6,741.3 L428.6,741.3 L429.6,741.3 L430.4,741.3 L431.1,741.6 L432.1,741.6 L433.1,741.6 L434.1,741.7 L435.1,741.7 L435.6,741.5Z M438.3,737.5 L439.1,737.4 L440.1,737.3 L440.9,737.2 L441.6,737.0 L442.6,736.9 L443.5,736.8 L444.4,736.7 L445.4,736.7 L446.4,736.6 L447.1,736.5 L448.0,736.3 L448.9,736.2 L449.8,736.0 L450.6,735.8 L451.4,735.7 L452.2,735.5 L453.1,735.4 L453.9,735.2 L454.6,735.0 L455.4,734.8 L456.4,734.6 L457.1,734.4 L457.9,734.2 L458.6,734.0 L459.4,733.8 L460.2,733.5 L460.9,733.2 L461.6,732.9 L462.2,732.5 L462.9,732.1 L463.4,731.7 L463.9,731.3 L464.5,730.8 L465.1,730.4 L465.6,729.8 L466.1,729.4 L466.6,729.0 L467.1,728.4 L467.6,728.0 L468.1,727.5 L468.6,726.8 L469.1,726.3 L469.5,725.8 L469.9,725.3 L470.3,724.5 L470.7,724.0 L471.1,723.3 L471.4,722.8 L471.7,722.0 L472.0,721.3 L472.3,720.5 L472.6,719.8 L472.8,719.0 L473.1,718.3 L473.3,717.5 L473.5,716.8 L473.7,716.0 L473.9,715.3 L474.0,714.3 L474.1,713.5 L474.1,712.5 L474.2,711.5 L474.1,710.5 L474.0,709.8 L473.9,708.8 L473.9,707.8 L473.8,707.0 L473.7,706.0 L473.6,705.3 L473.5,704.3 L473.3,703.5 L473.1,702.8 L472.7,702.0 L472.4,701.3 L472.1,700.7 L471.8,700.0 L471.4,699.3 L471.1,698.7 L470.7,698.0 L470.4,697.5 L469.9,696.9 L469.4,696.3 L468.9,695.8 L468.4,695.3 L467.9,694.9 L467.4,694.4 L466.9,694.0 L466.3,693.5 L465.7,693.0 L465.2,692.5 L464.6,692.2 L464.1,691.8 L463.5,691.3 L462.9,690.9 L462.3,690.5 L461.6,690.1 L461.0,689.8 L460.4,689.4 L459.6,689.1 L459.1,688.8 L458.4,688.4 L457.6,688.0 L457.1,687.7 L456.4,687.4 L455.8,687.0 L455.1,686.7 L454.4,686.4 L453.6,686.1 L452.9,685.8 L452.2,685.5 L451.6,685.3 L450.9,685.0 L450.1,684.6 L449.5,684.3 L448.9,683.9 L448.3,683.5 L447.6,683.1 L447.1,682.7 L446.5,682.3 L445.9,681.9 L445.2,681.5 L444.6,681.2 L443.9,680.8 L443.4,680.5 L442.7,680.0 L442.1,679.7 L441.4,679.3 L440.9,678.9 L440.2,678.5 L439.6,678.1 L439.1,677.7 L438.6,677.3 L437.9,676.8 L437.4,676.5 L436.8,676.0 L436.2,675.5 L435.6,675.1 L435.2,674.5 L435.5,673.8 L435.7,673.0 L435.9,672.3 L436.1,671.5 L436.4,670.8 L436.6,670.0 L436.9,669.2 L437.1,668.4 L437.4,667.7 L437.6,667.0 L437.9,666.1 L438.1,665.3 L438.3,664.5 L438.5,663.8 L438.8,663.0 L439.0,662.3 L439.2,661.5 L439.4,660.8 L439.5,659.8 L439.6,658.8 L439.5,657.8 L439.3,657.0 L439.1,656.1 L438.9,655.3 L438.7,654.5 L438.5,653.8 L438.3,653.0 L438.1,652.3 L437.7,651.5 L437.4,650.9 L437.0,650.3 L436.6,649.7 L436.1,649.1 L435.6,648.5 L435.1,648.0 L434.6,647.5 L434.1,647.2 L433.6,646.6 L433.1,646.3 L432.5,645.8 L431.9,645.3 L431.4,645.0 L430.6,644.5 L430.1,644.2 L429.4,643.9 L428.6,643.6 L427.9,643.3 L427.1,643.1 L426.4,642.9 L425.6,642.8 L424.6,642.6 L423.9,642.5 L422.9,642.4 L422.1,642.3 L421.1,642.1 L420.4,642.0 L419.4,641.8 L418.6,641.8 L417.6,641.6 L416.9,641.5 L415.9,641.5 L414.9,641.5 L413.9,641.5 L412.9,641.5 L411.9,641.4 L410.9,641.5 L409.9,641.4 L409.1,641.6 L408.1,641.6 L407.4,641.9 L406.6,642.1 L405.6,642.3 L404.9,642.5 L404.2,642.8 L403.6,643.0 L402.9,643.4 L402.1,643.7 L401.5,644.0 L400.9,644.4 L400.3,644.8 L399.7,645.3 L399.1,645.7 L398.6,646.2 L398.1,646.7 L397.6,647.3 L397.2,647.8 L396.9,648.5 L396.5,649.0 L396.2,649.8 L395.9,650.5 L395.6,651.1 L395.4,652.0 L395.2,652.8 L394.9,653.5 L394.9,654.5 L394.9,655.5 L394.9,656.5 L395.0,657.5 L395.1,658.5 L395.2,659.3 L395.3,660.3 L395.5,661.0 L395.6,661.8 L395.8,662.8 L396.0,663.5 L396.3,664.3 L396.6,664.9 L396.9,665.5 L397.2,666.3 L397.6,667.0 L397.9,667.6 L398.3,668.3 L398.6,668.9 L398.9,669.5 L399.3,670.3 L399.6,671.0 L399.9,671.5 L400.3,672.3 L400.6,672.8 L401.1,673.5 L401.4,674.0 L401.9,674.8 L402.3,675.3 L402.7,675.8 L403.1,676.3 L403.6,676.9 L404.1,677.4 L404.6,678.0 L405.1,678.5 L405.6,679.0 L406.0,679.5 L406.6,680.0 L406.4,681.0 L406.2,681.8 L406.0,682.5 L405.8,683.3 L405.6,684.3 L405.5,685.0 L405.3,685.8 L405.1,686.8 L404.9,687.5 L404.8,688.3 L404.6,689.1 L404.4,690.0 L404.3,690.8 L404.2,691.8 L404.1,692.8 L404.1,693.8 L404.1,694.8 L404.2,695.8 L404.3,696.8 L404.3,697.8 L404.4,698.5 L404.5,699.5 L404.6,700.5 L404.7,701.3 L404.7,702.3 L404.7,703.3 L404.6,704.3 L404.6,705.3 L404.5,706.0 L404.5,707.0 L404.6,707.8 L404.6,708.5 L404.6,709.3 L404.8,710.3 L404.9,711.1 L405.0,712.0 L405.2,712.8 L405.4,713.5 L405.6,714.3 L405.9,715.0 L406.2,715.8 L406.4,716.5 L406.6,717.3 L406.9,718.0 L407.1,718.8 L407.4,719.5 L407.7,720.3 L407.9,721.0 L408.1,721.8 L408.4,722.5 L408.7,723.3 L408.9,724.0 L409.3,724.8 L409.6,725.5 L409.9,726.0 L410.2,726.8 L410.6,727.4 L411.1,728.0 L411.5,728.5 L412.0,729.0 L412.5,729.5 L413.0,730.0 L413.6,730.5 L414.1,730.9 L414.7,731.3 L415.3,731.8 L415.9,732.2 L416.4,732.5 L417.1,733.0 L417.6,733.4 L418.4,733.8 L418.9,734.0 L419.6,734.4 L420.4,734.7 L421.1,735.0 L421.9,735.3 L422.6,735.5 L423.3,735.8 L424.1,736.0 L424.9,736.3 L425.6,736.4 L426.4,736.5 L427.4,736.7 L428.2,736.8 L429.1,736.9 L430.1,737.0 L430.9,737.1 L431.9,737.3 L432.6,737.5 L433.6,737.5 L434.4,737.6 L435.4,737.6 L436.4,737.6 L437.4,737.6 L438.3,737.5 L438.3,737.5Z M420.0,667.8 L420.9,667.7 L421.7,667.5 L422.6,667.4 L423.4,667.2 L424.1,666.9 L424.9,666.6 L425.6,666.4 L426.4,666.1 L427.1,665.9 L427.9,665.6 L428.6,665.4 L429.2,665.0 L429.9,664.7 L430.6,664.5 L431.1,664.0 L431.9,663.7 L432.4,663.2 L433.0,662.8 L433.6,662.4 L434.1,661.9 L434.6,661.4 L435.0,660.8 L435.5,660.3 L435.8,659.5 L436.0,658.8 L436.3,658.0 L436.5,657.3 L436.5,656.3 L436.5,655.3 L436.5,654.3 L436.2,653.5 L436.1,652.7 L435.7,652.0 L435.5,651.3 L435.1,650.7 L434.6,650.2 L434.2,649.5 L433.7,649.0 L433.1,648.7 L432.6,648.2 L432.0,647.8 L431.4,647.4 L430.8,647.0 L430.1,646.6 L429.4,646.3 L428.8,646.0 L428.1,645.8 L427.3,645.5 L426.4,645.3 L425.6,645.1 L424.9,644.8 L424.1,644.6 L423.3,644.5 L422.4,644.4 L421.6,644.2 L420.6,644.1 L419.9,643.9 L418.9,643.9 L417.9,643.9 L417.0,643.8 L416.1,643.7 L415.1,643.7 L414.1,643.7 L413.1,643.7 L412.2,643.8 L411.4,643.8 L410.4,643.8 L409.4,644.0 L408.5,644.0 L407.6,644.3 L407.1,644.6 L406.4,644.8 L405.4,645.0 L404.9,645.4 L404.1,645.7 L403.4,645.9 L402.6,646.2 L402.0,646.5 L401.4,647.0 L400.9,647.5 L400.3,647.8 L399.8,648.3 L399.3,648.8 L398.9,649.5 L398.6,650.0 L398.3,650.8 L398.1,651.5 L397.8,652.3 L397.8,653.3 L397.5,654.0 L397.7,654.8 L397.7,655.8 L397.9,656.5 L398.1,657.5 L398.4,658.2 L398.6,658.9 L399.0,659.5 L399.2,660.3 L399.6,661.0 L399.9,661.5 L400.4,662.2 L400.9,662.7 L401.2,663.3 L401.7,663.8 L402.2,664.3 L402.9,664.7 L403.4,665.2 L404.0,665.5 L404.6,665.9 L405.4,666.2 L406.1,666.4 L406.9,666.7 L407.6,667.0 L408.4,667.2 L409.1,667.5 L409.9,667.5 L410.9,667.7 L411.9,667.7 L412.6,667.9 L413.6,667.9 L414.6,667.9 L415.6,667.9 L416.6,667.9 L417.6,667.9 L418.6,667.9 L419.6,667.9 L420.0,667.8Z M414.0,667.0 L414.9,667.0 L415.9,667.0 L416.9,666.9 L417.9,666.9 L418.9,666.8 L419.6,666.7 L420.6,666.6 L421.4,666.5 L422.3,666.3 L423.1,666.2 L423.9,665.9 L424.6,665.7 L425.4,665.5 L426.1,665.3 L426.9,665.0 L427.6,664.8 L428.6,664.5 L429.3,664.3 L429.9,664.0 L430.6,663.7 L431.3,663.3 L431.9,663.0 L432.5,662.5 L433.0,662.0 L433.6,661.7 L434.1,661.2 L434.5,660.5 L435.0,660.0 L435.3,659.3 L435.6,658.6 L435.9,657.8 L436.0,657.0 L436.0,656.0 L436.0,655.0 L435.9,654.0 L435.7,653.3 L435.4,652.5 L435.1,652.0 L434.7,651.3 L434.3,650.8 L433.8,650.3 L433.4,649.6 L432.8,649.3 L432.2,648.8 L431.6,648.4 L431.1,648.0 L430.4,647.7 L429.6,647.3 L429.1,647.0 L428.4,646.6 L427.6,646.4 L426.9,646.2 L426.0,646.0 L425.1,645.8 L424.4,645.8 L423.4,645.6 L422.6,645.5 L421.6,645.5 L420.6,645.4 L419.9,645.3 L419.1,645.0 L418.1,645.0 L417.1,645.0 L416.4,644.7 L415.4,644.8 L414.4,644.8 L413.4,644.7 L412.5,644.8 L411.6,644.8 L410.9,644.8 L410.1,644.9 L409.1,645.0 L408.4,645.2 L407.6,645.5 L406.9,645.7 L406.1,645.9 L405.5,646.3 L404.9,646.6 L404.1,646.9 L403.5,647.3 L402.9,647.7 L402.4,648.1 L401.7,648.5 L401.1,649.0 L400.6,649.5 L400.3,650.0 L399.9,650.6 L399.6,651.3 L399.3,652.0 L399.1,652.8 L399.0,653.8 L398.9,654.8 L398.9,655.8 L399.1,656.8 L399.3,657.5 L399.5,658.3 L399.9,658.9 L400.1,659.5 L400.5,660.3 L400.9,661.0 L401.2,661.5 L401.6,662.0 L402.1,662.7 L402.6,663.3 L403.1,663.8 L403.6,664.1 L404.3,664.5 L404.9,664.9 L405.6,665.3 L406.1,665.6 L406.9,665.8 L407.6,666.1 L408.4,666.4 L409.1,666.6 L410.1,666.7 L410.9,666.9 L411.9,666.9 L412.6,667.1 L413.6,667.1 L414.0,667.0Z M415.1,666.0 L416.1,666.0 L417.1,665.9 L417.9,665.8 L418.9,665.7 L419.6,665.5 L420.6,665.3 L421.4,665.1 L422.3,665.0 L423.1,664.9 L424.1,664.8 L424.9,664.6 L425.6,664.5 L426.4,664.2 L427.2,664.0 L428.1,663.9 L428.9,663.6 L429.6,663.4 L430.3,663.0 L430.9,662.8 L431.6,662.4 L432.2,662.0 L432.7,661.5 L433.4,661.1 L433.8,660.5 L434.2,660.0 L434.6,659.4 L434.9,658.8 L435.2,658.0 L435.4,657.3 L435.4,656.3 L435.4,655.3 L435.3,654.5 L435.1,653.8 L434.9,653.0 L434.4,652.3 L434.1,651.7 L433.6,651.1 L433.1,650.6 L432.6,650.1 L432.1,649.8 L431.5,649.3 L430.9,648.9 L430.2,648.5 L429.6,648.3 L428.9,647.9 L428.1,647.6 L427.4,647.4 L426.6,647.2 L425.6,647.1 L424.9,647.0 L423.9,647.0 L422.9,646.9 L421.9,646.9 L420.9,646.8 L420.1,646.7 L419.4,646.5 L418.4,646.3 L417.6,646.3 L416.6,646.2 L415.9,646.0 L414.9,645.9 L413.9,645.9 L412.9,645.9 L411.9,645.9 L410.9,645.9 L410.1,646.1 L409.1,646.2 L408.4,646.4 L407.6,646.8 L406.9,647.0 L406.2,647.3 L405.6,647.7 L404.9,648.0 L404.3,648.3 L403.6,648.7 L403.1,649.1 L402.5,649.5 L401.9,650.0 L401.5,650.5 L401.1,651.1 L400.8,651.8 L400.5,652.5 L400.3,653.3 L400.2,654.3 L400.2,655.3 L400.4,656.3 L400.5,657.0 L400.7,657.8 L401.0,658.5 L401.3,659.3 L401.6,659.9 L402.0,660.5 L402.4,661.1 L402.9,661.7 L403.2,662.3 L403.7,662.8 L404.3,663.3 L404.9,663.6 L405.4,664.0 L406.1,664.4 L406.9,664.7 L407.6,665.0 L408.3,665.3 L409.1,665.5 L409.9,665.7 L410.6,665.9 L411.6,666.0 L412.5,666.0 L413.4,666.1 L414.4,666.1 L415.1,666.0 L415.1,666.0Z M415.7,665.0 L416.6,664.9 L417.4,664.8 L418.4,664.6 L419.1,664.4 L419.9,664.2 L420.6,664.0 L421.6,663.8 L422.6,663.8 L423.4,663.8 L424.4,663.7 L425.3,663.5 L426.1,663.4 L426.9,663.3 L427.9,663.1 L428.6,662.9 L429.4,662.7 L430.1,662.4 L430.9,662.1 L431.4,661.8 L432.1,661.3 L432.6,660.9 L433.1,660.5 L433.6,659.8 L434.0,659.3 L434.4,658.6 L434.6,657.9 L434.8,657.0 L434.8,656.0 L434.7,655.0 L434.6,654.3 L434.4,653.5 L433.9,652.8 L433.6,652.3 L433.1,651.6 L432.6,651.2 L432.1,650.7 L431.6,650.3 L430.9,649.9 L430.4,649.5 L429.6,649.2 L428.9,648.9 L428.1,648.7 L427.4,648.5 L426.6,648.3 L425.6,648.2 L424.6,648.1 L423.6,648.2 L422.6,648.2 L421.6,648.3 L420.9,648.3 L420.1,648.1 L419.4,647.9 L418.6,647.7 L417.8,647.5 L416.9,647.4 L416.1,647.3 L415.1,647.1 L414.3,647.0 L413.4,647.0 L412.6,647.1 L411.7,647.0 L411.0,647.0 L410.1,647.2 L409.4,647.4 L408.6,647.6 L407.9,647.9 L407.1,648.2 L406.5,648.5 L405.9,648.9 L405.1,649.3 L404.6,649.5 L403.9,650.0 L403.4,650.5 L402.9,650.9 L402.4,651.5 L402.0,652.0 L401.7,652.8 L401.6,653.5 L401.5,654.5 L401.5,655.5 L401.6,656.3 L401.8,657.3 L402.1,658.0 L402.3,658.8 L402.6,659.4 L403.0,660.0 L403.4,660.6 L403.8,661.3 L404.2,661.8 L404.7,662.3 L405.4,662.8 L405.9,663.1 L406.5,663.5 L407.1,663.8 L407.9,664.1 L408.6,664.4 L409.4,664.7 L410.1,664.8 L411.1,665.0 L411.9,665.1 L412.9,665.2 L413.9,665.2 L414.9,665.1 L415.7,665.0 L415.7,665.0Z M414.1,664.3 L415.1,664.2 L416.0,664.0 L416.9,663.9 L417.6,663.7 L418.4,663.5 L419.1,663.2 L419.9,662.9 L420.6,662.6 L421.4,662.4 L422.4,662.5 L423.1,662.6 L424.1,662.6 L425.1,662.6 L425.9,662.5 L426.9,662.5 L427.9,662.4 L428.6,662.2 L429.4,662.0 L430.1,661.7 L430.9,661.4 L431.5,661.0 L432.1,660.6 L432.6,660.2 L433.1,659.5 L433.5,659.0 L433.9,658.3 L434.1,657.6 L434.3,656.8 L434.2,655.8 L434.1,654.8 L433.9,654.2 L433.6,653.5 L433.1,652.8 L432.8,652.3 L432.2,651.8 L431.7,651.3 L431.1,650.9 L430.5,650.5 L429.9,650.2 L429.1,650.0 L428.4,649.7 L427.6,649.5 L426.6,649.3 L425.9,649.3 L424.9,649.3 L424.1,649.3 L423.1,649.5 L422.4,649.6 L421.4,649.7 L420.7,649.8 L420.1,649.5 L419.4,649.3 L418.6,649.0 L417.8,648.8 L416.9,648.7 L416.1,648.5 L415.4,648.3 L414.4,648.2 L413.4,648.2 L412.4,648.2 L411.4,648.1 L410.4,648.3 L409.6,648.4 L408.9,648.7 L408.1,649.0 L407.5,649.3 L406.9,649.6 L406.1,650.0 L405.6,650.3 L404.9,650.8 L404.4,651.2 L403.9,651.6 L403.4,652.2 L403.0,652.8 L402.8,653.5 L402.7,654.5 L402.7,655.5 L402.9,656.4 L403.0,657.3 L403.2,658.0 L403.5,658.8 L403.9,659.5 L404.2,660.0 L404.6,660.6 L405.1,661.3 L405.6,661.7 L406.1,662.2 L406.7,662.5 L407.4,662.9 L408.1,663.3 L408.8,663.5 L409.5,663.8 L410.4,664.0 L411.1,664.2 L412.1,664.2 L413.0,664.3 L413.9,664.3 L414.1,664.3Z M415.1,663.3 L415.9,663.1 L416.6,662.9 L417.4,662.7 L418.1,662.5 L418.9,662.1 L419.5,661.8 L420.1,661.4 L420.6,661.0 L421.6,661.0 L422.4,661.2 L423.1,661.4 L424.0,661.5 L424.9,661.6 L425.9,661.7 L426.9,661.7 L427.9,661.6 L428.6,661.5 L429.4,661.3 L430.2,661.0 L430.9,660.7 L431.5,660.3 L432.1,659.9 L432.6,659.3 L433.0,658.8 L433.4,658.1 L433.6,657.3 L433.7,656.5 L433.6,655.5 L433.5,654.8 L433.1,654.0 L432.9,653.5 L432.4,652.8 L431.9,652.4 L431.4,651.9 L430.8,651.5 L430.1,651.2 L429.4,650.9 L428.6,650.7 L427.9,650.5 L427.0,650.3 L426.1,650.3 L425.4,650.3 L424.4,650.5 L423.6,650.6 L422.8,650.8 L421.9,651.0 L421.1,651.3 L420.6,651.2 L419.9,650.9 L419.1,650.5 L418.6,650.3 L417.9,650.0 L416.9,649.8 L416.1,649.6 L415.4,649.4 L414.6,649.3 L413.6,649.2 L412.6,649.3 L411.6,649.2 L410.8,649.3 L409.9,649.5 L409.1,649.8 L408.5,650.0 L407.9,650.3 L407.1,650.7 L406.5,651.0 L405.9,651.5 L405.4,651.8 L404.8,652.3 L404.3,652.8 L404.0,653.5 L403.9,654.5 L403.8,655.3 L403.9,656.0 L404.1,657.0 L404.3,657.8 L404.5,658.5 L404.9,659.2 L405.2,659.8 L405.6,660.4 L406.1,660.9 L406.6,661.4 L407.2,661.8 L407.9,662.2 L408.6,662.5 L409.2,662.8 L409.9,663.0 L410.9,663.3 L411.6,663.3 L412.6,663.4 L413.6,663.4 L414.6,663.4 L415.1,663.3Z M414.2,662.5 L415.1,662.4 L415.9,662.2 L416.6,661.9 L417.4,661.6 L418.1,661.3 L418.6,661.0 L419.2,660.5 L419.8,660.0 L420.3,659.5 L420.7,659.0 L421.4,659.2 L421.9,659.5 L422.6,660.0 L423.4,660.2 L424.1,660.5 L424.9,660.7 L425.6,660.9 L426.6,660.9 L427.6,661.0 L428.6,660.9 L429.4,660.7 L430.1,660.5 L430.9,660.1 L431.4,659.8 L431.9,659.3 L432.4,658.8 L432.8,658.0 L433.1,657.3 L433.2,656.5 L433.1,655.7 L432.9,654.8 L432.6,654.3 L432.1,653.6 L431.7,653.0 L431.1,652.6 L430.6,652.2 L429.9,651.9 L429.1,651.6 L428.4,651.4 L427.6,651.3 L426.6,651.2 L425.6,651.3 L424.9,651.5 L424.1,651.7 L423.4,651.9 L422.6,652.2 L421.9,652.5 L421.4,652.9 L420.8,653.0 L420.2,652.5 L419.6,652.2 L418.9,651.8 L418.4,651.5 L417.6,651.2 L416.9,651.0 L416.1,650.8 L415.4,650.5 L414.4,650.3 L413.6,650.3 L412.6,650.3 L411.6,650.2 L410.9,650.3 L409.9,650.5 L409.3,650.8 L408.6,651.1 L407.9,651.4 L407.3,651.8 L406.6,652.3 L406.1,652.6 L405.6,653.1 L405.1,653.8 L405.0,654.5 L404.9,655.5 L405.1,656.5 L405.2,657.3 L405.4,658.0 L405.7,658.8 L406.1,659.5 L406.5,660.0 L407.0,660.5 L407.6,661.0 L408.1,661.3 L408.9,661.7 L409.5,662.0 L410.2,662.3 L411.1,662.5 L412.1,662.5 L413.0,662.5 L413.9,662.6 L414.2,662.5Z M415.0,661.5 L415.7,661.3 L416.4,661.0 L417.1,660.7 L417.8,660.3 L418.4,659.8 L418.8,659.3 L419.2,658.8 L419.6,658.3 L420.0,657.5 L420.3,656.8 L420.6,656.2 L420.6,655.5 L420.3,654.8 L419.9,654.2 L419.4,653.7 L418.9,653.2 L418.2,652.8 L417.6,652.4 L416.9,652.1 L416.1,651.8 L415.4,651.6 L414.6,651.3 L413.9,651.2 L412.9,651.2 L411.9,651.2 L410.9,651.3 L410.1,651.5 L409.4,651.8 L408.8,652.0 L408.1,652.4 L407.6,652.8 L406.9,653.3 L406.4,653.8 L406.1,654.3 L406.0,655.3 L406.1,656.3 L406.2,657.0 L406.4,657.9 L406.6,658.5 L407.0,659.3 L407.4,659.8 L408.0,660.3 L408.6,660.7 L409.2,661.0 L409.9,661.3 L410.6,661.6 L411.6,661.7 L412.6,661.7 L413.6,661.8 L414.6,661.7 L415.0,661.5Z M428.3,660.3 L429.1,660.2 L429.9,660.0 L430.6,659.7 L431.1,659.3 L431.6,658.8 L432.1,658.3 L432.5,657.5 L432.6,656.8 L432.6,655.8 L432.4,655.0 L432.1,654.5 L431.6,653.9 L431.1,653.4 L430.6,653.0 L429.9,652.6 L429.1,652.4 L428.4,652.2 L427.4,652.1 L426.6,652.0 L425.9,652.1 L425.1,652.4 L424.4,652.7 L423.6,653.0 L423.1,653.4 L422.6,653.8 L422.1,654.3 L421.6,654.8 L421.1,655.5 L421.1,656.1 L421.5,656.8 L421.9,657.3 L422.4,658.0 L422.9,658.5 L423.4,659.0 L423.9,659.3 L424.6,659.6 L425.4,660.0 L426.1,660.2 L426.9,660.3 L427.9,660.4 L428.3,660.3Z M414.7,660.8 L415.4,660.5 L416.1,660.2 L416.8,659.8 L417.4,659.4 L417.8,658.8 L418.2,658.3 L418.5,657.5 L418.7,656.8 L419.0,656.0 L418.8,655.3 L418.4,654.5 L418.0,654.0 L417.4,653.6 L416.9,653.3 L416.1,652.8 L415.4,652.5 L414.7,652.3 L413.9,652.1 L412.9,652.1 L411.9,652.1 L410.9,652.2 L410.1,652.5 L409.4,652.8 L408.8,653.0 L408.2,653.5 L407.6,654.0 L407.1,654.5 L407.0,655.3 L407.0,656.3 L407.1,657.0 L407.3,658.0 L407.6,658.6 L408.1,659.3 L408.6,659.7 L409.1,660.0 L409.9,660.5 L410.6,660.8 L411.4,660.9 L412.4,660.9 L413.4,661.0 L414.4,660.9 L414.7,660.8Z M429.6,659.5 L430.3,659.3 L430.9,658.9 L431.4,658.4 L431.8,657.8 L432.1,657.2 L432.2,656.3 L432.0,655.5 L431.6,654.8 L431.2,654.3 L430.7,653.8 L430.1,653.4 L429.4,653.2 L428.6,653.0 L427.6,652.8 L426.6,652.8 L425.9,653.1 L425.1,653.4 L424.5,653.8 L423.9,654.3 L423.5,654.8 L423.1,655.5 L423.1,656.1 L423.4,656.8 L423.7,657.5 L424.1,658.1 L424.6,658.6 L425.4,659.0 L425.9,659.3 L426.6,659.6 L427.6,659.8 L428.6,659.7 L429.6,659.5 L429.6,659.5Z M414.6,660.0 L415.1,659.8 L415.9,659.4 L416.4,659.0 L416.9,658.4 L417.2,657.8 L417.4,657.0 L417.6,656.1 L417.5,655.5 L417.1,654.8 L416.6,654.3 L416.1,653.9 L415.5,653.5 L414.9,653.3 L414.1,653.0 L413.1,652.9 L412.1,652.9 L411.1,653.0 L410.4,653.2 L409.7,653.5 L409.1,653.9 L408.6,654.3 L408.1,654.8 L407.9,655.8 L408.0,656.8 L408.1,657.7 L408.4,658.3 L408.9,659.0 L409.4,659.3 L410.1,659.8 L410.6,660.0 L411.6,660.2 L412.6,660.2 L413.6,660.2 L414.6,660.0 L414.6,660.0Z M429.6,659.0 L430.3,658.8 L430.8,658.3 L431.3,657.8 L431.6,657.2 L431.7,656.3 L431.5,655.5 L431.1,654.9 L430.6,654.4 L430.1,654.0 L429.4,653.8 L428.4,653.6 L427.6,653.5 L426.9,653.6 L426.1,653.9 L425.4,654.3 L424.9,654.8 L424.5,655.3 L424.5,656.3 L424.7,657.0 L425.0,657.8 L425.5,658.3 L426.1,658.7 L426.7,659.0 L427.6,659.2 L428.6,659.2 L429.6,659.0 L429.6,659.0Z M414.5,659.3 L415.1,659.0 L415.8,658.5 L416.1,658.0 L416.4,657.3 L416.5,656.3 L416.4,655.3 L415.9,654.8 L415.4,654.4 L414.7,654.0 L414.1,653.8 L413.1,653.7 L412.1,653.6 L411.1,653.7 L410.4,654.0 L409.9,654.3 L409.3,654.8 L408.8,655.3 L408.7,656.3 L408.8,657.3 L409.1,658.0 L409.4,658.5 L410.1,659.0 L410.7,659.3 L411.6,659.5 L412.6,659.5 L413.6,659.5 L414.5,659.3 L414.5,659.3Z M429.6,658.5 L430.2,658.3 L430.8,657.8 L431.1,657.3 L431.3,656.3 L431.0,655.5 L430.6,655.0 L430.0,654.5 L429.1,654.3 L428.4,654.2 L427.4,654.2 L426.6,654.5 L426.0,654.8 L425.6,655.3 L425.4,656.3 L425.6,657.3 L425.9,657.8 L426.5,658.3 L427.1,658.6 L428.1,658.8 L429.1,658.8 L429.6,658.5Z M414.2,658.8 L414.9,658.3 L415.4,658.0 L415.7,657.3 L415.7,656.3 L415.6,655.5 L415.0,655.0 L414.4,654.7 L413.7,654.3 L412.9,654.3 L411.9,654.2 L411.1,654.5 L410.4,654.8 L409.9,655.2 L409.4,655.8 L409.4,656.8 L409.6,657.6 L410.1,658.2 L410.6,658.6 L411.4,659.0 L412.4,659.0 L413.4,659.0 L414.2,658.8 L414.2,658.8Z M429.3,658.3 L430.0,658.0 L430.5,657.5 L430.9,657.0 L430.9,656.1 L430.6,655.5 L429.9,655.1 L429.4,654.8 L428.4,654.7 L427.4,654.7 L426.8,655.0 L426.2,655.5 L426.1,656.3 L426.1,657.0 L426.6,657.8 L427.1,658.2 L427.9,658.5 L428.9,658.5 L429.3,658.3Z M414.0,658.5 L414.6,658.2 L415.2,657.8 L415.4,657.0 L415.4,656.0 L415.1,655.5 L414.6,655.0 L413.9,654.7 L413.1,654.5 L412.1,654.5 L411.4,654.7 L410.6,655.0 L410.1,655.5 L409.7,656.0 L409.7,657.0 L410.0,657.8 L410.6,658.2 L411.2,658.5 L412.1,658.7 L413.1,658.7 L414.0,658.5 L414.0,658.5Z M429.2,658.3 L429.9,658.0 L430.4,657.5 L430.9,656.9 L430.9,656.2 L430.4,655.5 L429.9,655.2 L429.1,654.9 L428.1,654.9 L427.2,655.0 L426.6,655.4 L426.3,656.0 L426.3,657.0 L426.6,657.6 L427.1,658.1 L427.9,658.4 L428.9,658.4 L429.2,658.3Z M446.5,733.3 L447.4,733.2 L448.4,733.1 L449.4,733.2 L450.1,732.9 L451.1,732.9 L451.9,732.7 L452.9,732.7 L453.6,732.4 L454.5,732.3 L455.4,732.2 L456.1,731.9 L456.9,731.7 L457.8,731.5 L458.5,731.3 L459.4,731.2 L460.1,730.8 L460.8,730.5 L461.4,730.3 L462.1,730.0 L462.8,729.5 L463.4,729.2 L464.0,728.8 L464.5,728.3 L465.1,727.9 L465.6,727.4 L466.1,726.9 L466.7,726.5 L467.1,725.9 L467.6,725.4 L468.1,724.9 L468.5,724.3 L469.0,723.8 L469.4,723.2 L469.7,722.5 L470.0,721.8 L470.4,721.2 L470.6,720.4 L471.0,719.8 L471.2,719.0 L471.4,718.2 L471.5,717.3 L471.7,716.5 L471.7,715.5 L472.0,714.8 L472.0,713.8 L472.0,712.8 L472.0,711.8 L472.0,710.8 L472.0,709.8 L471.7,709.0 L471.7,708.0 L471.5,707.3 L471.2,706.5 L471.0,705.8 L470.9,704.9 L470.5,704.3 L470.3,703.5 L470.0,702.8 L469.6,702.2 L469.2,701.5 L469.0,700.8 L468.4,700.3 L468.1,699.7 L467.7,699.0 L467.2,698.5 L466.9,698.0 L466.4,697.5 L465.9,697.0 L465.4,696.5 L464.9,696.0 L464.4,695.5 L463.7,695.0 L463.2,694.5 L462.6,694.2 L462.1,693.7 L461.4,693.3 L460.9,693.0 L460.1,692.5 L459.6,692.3 L459.1,692.1 L458.4,691.8 L457.8,691.5 L457.1,691.1 L456.4,690.8 L455.9,690.5 L455.1,690.3 L454.4,690.0 L453.6,689.8 L452.9,689.5 L452.1,689.3 L451.4,689.0 L450.6,688.8 L449.6,688.5 L448.9,688.5 L448.1,688.3 L447.4,688.0 L446.4,687.8 L445.6,687.8 L444.9,687.5 L443.9,687.5 L443.1,687.3 L442.1,687.0 L441.4,687.0 L440.4,686.8 L439.6,686.7 L438.6,686.7 L437.9,686.4 L436.9,686.4 L435.9,686.4 L435.1,686.2 L434.1,686.2 L433.1,686.2 L432.1,686.2 L431.1,686.2 L430.1,686.2 L429.1,686.2 L428.1,686.2 L427.1,686.3 L426.4,686.3 L425.6,686.6 L424.6,686.6 L423.7,686.8 L422.9,686.8 L422.3,686.8 L421.4,687.0 L420.6,687.2 L419.9,687.4 L419.1,687.6 L418.4,687.8 L417.6,688.1 L416.9,688.5 L416.4,688.8 L415.7,689.3 L415.2,689.8 L414.7,690.3 L414.2,690.8 L413.9,691.4 L413.5,692.0 L413.1,692.7 L412.9,693.4 L412.6,694.2 L412.4,694.9 L412.2,695.8 L411.9,696.5 L411.7,697.3 L411.7,698.3 L411.4,699.0 L411.4,700.0 L411.4,701.0 L411.4,702.0 L411.4,703.0 L411.4,704.0 L411.4,705.0 L411.4,706.0 L411.7,706.8 L411.7,707.8 L411.9,708.5 L411.9,709.5 L412.2,710.3 L412.2,711.3 L412.5,712.0 L412.7,712.8 L412.9,713.7 L413.0,714.5 L413.2,715.3 L413.5,716.0 L413.7,716.8 L413.9,717.5 L414.2,718.3 L414.4,719.2 L414.6,720.0 L414.9,720.5 L415.2,721.3 L415.5,722.0 L415.9,722.7 L416.2,723.3 L416.6,723.9 L417.0,724.5 L417.4,725.2 L417.9,725.7 L418.2,726.3 L418.7,726.8 L419.2,727.3 L419.8,727.8 L420.4,728.1 L420.9,728.6 L421.5,729.0 L422.1,729.4 L422.8,729.8 L423.4,730.1 L424.0,730.5 L424.7,730.8 L425.4,731.2 L426.1,731.5 L426.9,731.8 L427.6,732.0 L428.3,732.3 L429.1,732.4 L429.9,732.6 L430.6,732.8 L431.4,732.8 L432.1,733.0 L432.9,733.0 L433.9,733.2 L434.9,733.2 L435.6,733.4 L436.6,733.4 L437.6,733.4 L438.6,733.4 L439.6,733.5 L440.6,733.5 L441.6,733.5 L442.6,733.4 L443.6,733.4 L444.6,733.4 L445.6,733.4 L446.5,733.3 L446.5,733.3Z M445.9,733.3 L446.6,733.0 L447.6,733.0 L448.6,733.0 L449.5,732.8 L450.4,732.8 L451.4,732.8 L452.4,732.6 L453.1,732.5 L454.1,732.3 L454.9,732.1 L455.6,732.0 L456.6,731.8 L457.4,731.6 L458.1,731.4 L458.9,731.1 L459.6,730.9 L460.4,730.7 L461.1,730.4 L461.7,730.0 L462.4,729.6 L462.9,729.3 L463.6,728.9 L464.1,728.5 L464.9,728.1 L465.4,727.6 L465.9,727.1 L466.4,726.8 L466.9,726.3 L467.4,725.6 L467.9,725.1 L468.4,724.6 L468.6,724.0 L469.1,723.3 L469.4,722.8 L469.9,722.1 L470.1,721.5 L470.4,720.8 L470.6,720.0 L470.9,719.3 L471.1,718.5 L471.4,717.8 L471.6,717.0 L471.6,716.0 L471.9,715.3 L471.9,714.3 L471.9,713.3 L471.9,712.3 L471.9,711.3 L471.9,710.3 L471.6,709.5 L471.6,708.5 L471.4,707.8 L471.4,706.8 L471.2,706.0 L470.9,705.3 L470.7,704.5 L470.4,703.8 L470.1,703.2 L469.7,702.5 L469.4,701.8 L469.1,701.3 L468.6,700.5 L468.4,700.0 L467.8,699.5 L467.4,698.9 L466.9,698.4 L466.5,697.8 L466.0,697.3 L465.5,696.8 L465.0,696.3 L464.5,695.8 L463.9,695.4 L463.4,694.9 L462.8,694.5 L462.3,694.0 L461.6,693.7 L460.9,693.3 L460.3,693.0 L459.6,692.6 L459.0,692.3 L458.4,692.0 L457.6,691.6 L457.0,691.3 L456.3,691.0 L455.6,690.7 L454.9,690.4 L454.1,690.1 L453.4,689.9 L452.6,689.6 L451.9,689.4 L451.1,689.2 L450.4,688.9 L449.6,688.8 L448.6,688.6 L447.9,688.4 L447.1,688.1 L446.4,688.0 L445.4,687.9 L444.6,687.6 L443.7,687.5 L442.9,687.4 L442.1,687.1 L441.2,687.0 L440.4,686.8 L439.6,686.8 L438.6,686.7 L437.9,686.5 L436.9,686.5 L435.9,686.5 L435.1,686.2 L434.1,686.3 L433.1,686.3 L432.1,686.3 L431.1,686.3 L430.1,686.3 L429.1,686.3 L428.1,686.3 L427.4,686.3 L426.4,686.5 L425.6,686.7 L424.6,686.7 L423.9,686.9 L422.9,686.9 L422.1,687.1 L421.4,687.0 L420.6,687.2 L419.9,687.4 L419.1,687.7 L418.4,687.9 L417.6,688.1 L416.9,688.5 L416.4,688.9 L415.7,689.3 L415.3,689.8 L414.8,690.3 L414.3,690.8 L413.9,691.5 L413.6,692.0 L413.1,692.8 L412.9,693.5 L412.6,694.2 L412.4,695.0 L412.3,695.8 L412.0,696.5 L411.8,697.3 L411.8,698.3 L411.5,699.0 L411.5,700.0 L411.5,701.0 L411.5,702.0 L411.5,703.0 L411.5,704.0 L411.5,705.0 L411.5,706.0 L411.8,706.8 L411.8,707.8 L412.0,708.5 L412.0,709.5 L412.3,710.3 L412.3,711.3 L412.6,712.0 L412.8,712.8 L412.9,713.6 L413.0,714.5 L413.3,715.3 L413.5,716.0 L413.8,716.8 L414.0,717.5 L414.2,718.3 L414.4,719.2 L414.6,719.9 L415.0,720.5 L415.2,721.3 L415.5,722.0 L415.9,722.6 L416.3,723.3 L416.6,723.9 L417.0,724.5 L417.4,725.1 L417.9,725.6 L418.3,726.3 L418.8,726.8 L419.3,727.3 L419.8,727.8 L420.4,728.1 L420.9,728.6 L421.6,729.0 L422.1,729.3 L422.8,729.8 L423.4,730.1 L424.1,730.5 L424.8,730.8 L425.4,731.1 L426.1,731.4 L426.9,731.7 L427.6,732.0 L428.4,732.2 L429.1,732.3 L430.1,732.5 L430.9,732.7 L431.6,733.0 L432.6,732.9 L433.4,733.2 L434.4,733.1 L435.3,733.3 L436.1,733.4 L437.1,733.4 L438.1,733.4 L439.1,733.4 L440.1,733.4 L441.1,733.4 L442.1,733.4 L443.1,733.3 L444.1,733.3 L445.1,733.3 L445.9,733.3 L445.9,733.3Z M444.9,732.8 L445.9,732.8 L446.6,732.5 L447.6,732.4 L448.6,732.4 L449.4,732.2 L450.4,732.2 L451.3,732.0 L452.1,732.0 L453.1,731.8 L453.9,731.8 L454.9,731.6 L455.6,731.4 L456.4,731.3 L457.4,731.1 L458.1,730.8 L458.9,730.7 L459.6,730.4 L460.4,730.2 L461.1,729.8 L461.6,729.5 L462.4,729.2 L462.9,728.8 L463.6,728.4 L464.1,727.8 L464.6,727.5 L465.1,727.0 L465.6,726.5 L466.3,726.0 L466.6,725.5 L467.1,725.0 L467.7,724.5 L468.1,723.9 L468.5,723.3 L469.0,722.8 L469.3,722.0 L469.6,721.5 L469.9,720.8 L470.2,720.0 L470.5,719.3 L470.7,718.5 L470.9,717.8 L471.1,716.9 L471.2,716.0 L471.4,715.2 L471.5,714.3 L471.5,713.3 L471.5,712.3 L471.5,711.3 L471.5,710.3 L471.3,709.5 L471.3,708.5 L471.0,707.8 L470.9,706.8 L470.7,706.0 L470.6,705.2 L470.2,704.5 L470.0,703.8 L469.6,703.1 L469.3,702.5 L468.9,701.8 L468.6,701.3 L468.1,700.7 L467.7,700.0 L467.4,699.5 L466.9,699.0 L466.4,698.3 L465.9,697.8 L465.4,697.3 L464.9,696.8 L464.4,696.3 L463.9,695.9 L463.4,695.4 L462.9,695.0 L462.2,694.5 L461.6,694.2 L461.1,693.8 L460.4,693.5 L459.7,693.0 L459.1,692.8 L458.4,692.4 L457.6,692.1 L457.1,691.8 L456.3,691.5 L455.6,691.1 L454.9,690.9 L454.1,690.5 L453.4,690.3 L452.6,690.1 L451.9,689.8 L451.1,689.7 L450.4,689.5 L449.6,689.3 L448.7,689.0 L447.9,688.8 L447.3,688.5 L446.4,688.4 L445.6,688.2 L444.9,688.0 L443.9,687.9 L443.1,687.7 L442.1,687.6 L441.4,687.3 L440.6,687.3 L439.9,687.0 L438.9,686.9 L438.1,686.7 L437.1,686.6 L436.1,686.6 L435.4,686.5 L434.4,686.4 L433.4,686.4 L432.4,686.4 L431.4,686.4 L430.4,686.4 L429.4,686.4 L428.4,686.5 L427.5,686.5 L426.6,686.6 L425.9,686.9 L424.9,687.0 L424.0,687.0 L423.1,687.2 L422.4,687.3 L421.4,687.3 L420.4,687.5 L419.6,687.6 L418.9,687.8 L418.1,688.1 L417.4,688.5 L416.9,688.9 L416.3,689.3 L415.7,689.8 L415.2,690.3 L414.8,690.8 L414.4,691.5 L414.0,692.0 L413.6,692.8 L413.4,693.5 L413.1,694.3 L412.9,695.0 L412.6,695.8 L412.4,696.5 L412.1,697.3 L412.1,698.3 L411.9,699.0 L411.9,700.0 L411.9,701.0 L411.9,702.0 L411.9,703.0 L411.9,704.0 L411.9,705.0 L412.1,706.0 L412.2,706.8 L412.2,707.8 L412.4,708.5 L412.5,709.5 L412.7,710.3 L412.9,711.3 L412.9,712.0 L413.2,712.8 L413.4,713.7 L413.5,714.5 L413.6,715.3 L413.8,716.3 L414.0,717.0 L414.2,717.8 L414.5,718.5 L414.7,719.3 L414.9,720.0 L415.2,720.8 L415.6,721.5 L415.9,722.1 L416.2,722.8 L416.6,723.5 L417.0,724.0 L417.4,724.5 L417.9,725.2 L418.3,725.8 L418.7,726.3 L419.2,726.8 L419.7,727.3 L420.4,727.7 L420.9,728.2 L421.4,728.6 L422.0,729.0 L422.6,729.3 L423.3,729.8 L423.9,730.1 L424.6,730.4 L425.4,730.8 L426.0,731.0 L426.6,731.5 L427.4,731.6 L428.1,731.8 L428.9,732.1 L429.6,732.3 L430.4,732.6 L431.4,732.6 L431.9,732.8 L432.9,732.7 L433.6,732.9 L434.6,732.8 L435.6,733.0 L436.6,733.0 L437.6,733.0 L438.6,733.0 L439.6,733.0 L440.6,733.0 L441.6,733.0 L442.6,732.9 L443.6,732.9 L444.6,732.8 L444.9,732.8Z M441.4,732.3 L442.4,732.2 L443.4,732.1 L444.1,732.0 L445.1,732.0 L445.9,731.8 L446.9,731.6 L447.6,731.5 L448.6,731.5 L449.6,731.3 L450.6,731.3 L451.4,731.2 L452.4,731.2 L453.1,731.0 L454.1,730.8 L454.9,730.8 L455.6,730.5 L456.6,730.3 L457.4,730.1 L458.1,729.9 L458.9,729.8 L459.6,729.5 L460.4,729.3 L461.1,728.9 L461.8,728.5 L462.4,728.1 L463.0,727.8 L463.6,727.3 L464.1,726.9 L464.6,726.5 L465.1,726.0 L465.7,725.5 L466.1,725.0 L466.6,724.5 L467.2,724.0 L467.6,723.4 L468.0,722.8 L468.4,722.3 L468.8,721.5 L469.1,720.9 L469.4,720.2 L469.6,719.5 L469.9,718.8 L470.1,717.8 L470.3,717.0 L470.5,716.3 L470.6,715.3 L470.8,714.5 L470.9,713.8 L470.9,712.8 L470.9,711.8 L470.9,710.8 L470.8,710.0 L470.7,709.0 L470.5,708.3 L470.5,707.3 L470.2,706.5 L470.0,705.8 L469.8,705.0 L469.5,704.3 L469.1,703.5 L468.9,703.0 L468.5,702.3 L468.1,701.7 L467.6,701.0 L467.4,700.5 L466.9,699.8 L466.4,699.3 L465.9,698.8 L465.6,698.3 L465.1,697.8 L464.6,697.3 L464.1,696.8 L463.5,696.3 L462.9,695.8 L462.4,695.4 L461.9,695.0 L461.2,694.5 L460.6,694.2 L459.9,693.8 L459.4,693.5 L458.6,693.2 L457.9,692.8 L457.3,692.5 L456.6,692.2 L455.9,691.9 L455.1,691.6 L454.4,691.3 L453.6,691.1 L452.9,690.8 L452.1,690.6 L451.4,690.5 L450.6,690.3 L449.7,690.0 L449.0,689.8 L448.2,689.5 L447.4,689.3 L446.6,689.1 L445.9,688.8 L445.1,688.7 L444.4,688.5 L443.4,688.3 L442.6,688.1 L441.9,687.9 L441.1,687.8 L440.2,687.5 L439.4,687.3 L438.6,687.3 L437.9,687.0 L436.9,687.0 L435.9,687.0 L435.1,686.8 L434.1,686.8 L433.1,686.8 L432.1,686.8 L431.1,686.8 L430.1,686.8 L429.1,686.8 L428.4,686.8 L427.4,686.9 L426.6,687.1 L425.6,687.3 L424.9,687.3 L423.9,687.5 L423.1,687.6 L422.3,687.8 L421.6,687.8 L420.9,688.0 L420.1,688.1 L419.4,688.3 L418.6,688.5 L417.9,688.9 L417.2,689.3 L416.6,689.8 L416.1,690.1 L415.6,690.7 L415.1,691.3 L414.9,691.8 L414.4,692.5 L414.1,693.2 L413.9,693.9 L413.6,694.7 L413.4,695.4 L413.1,696.3 L413.0,697.0 L412.8,697.8 L412.7,698.8 L412.5,699.5 L412.5,700.5 L412.5,701.5 L412.6,702.5 L412.6,703.5 L412.6,704.5 L412.6,705.5 L412.8,706.3 L412.9,707.0 L413.1,708.0 L413.1,708.8 L413.3,709.8 L413.3,710.3 L413.5,711.0 L413.5,712.0 L413.8,712.8 L413.9,713.5 L414.1,714.4 L414.2,715.3 L414.4,716.1 L414.6,717.0 L414.8,717.8 L414.9,718.5 L415.1,719.3 L415.4,720.0 L415.7,720.8 L416.1,721.5 L416.4,722.1 L416.7,722.8 L417.1,723.4 L417.5,724.0 L417.9,724.5 L418.4,725.2 L418.7,725.8 L419.2,726.3 L419.7,726.8 L420.4,727.3 L420.9,727.7 L421.4,728.1 L422.0,728.5 L422.6,728.9 L423.3,729.3 L423.9,729.6 L424.6,730.0 L425.4,730.3 L426.0,730.5 L426.6,730.9 L427.4,731.1 L428.1,731.4 L428.9,731.7 L429.6,731.9 L430.5,732.0 L431.4,732.1 L432.4,732.2 L433.4,732.3 L434.1,732.3 L434.9,732.3 L435.6,732.3 L436.6,732.4 L437.6,732.4 L438.6,732.4 L439.6,732.4 L440.6,732.3 L441.4,732.3 L441.4,732.3Z M438.9,731.5 L439.9,731.5 L440.9,731.4 L441.9,731.3 L442.6,731.2 L443.5,731.0 L444.4,730.9 L445.1,730.8 L445.9,730.5 L446.9,730.3 L447.6,730.3 L448.6,730.2 L449.6,730.1 L450.6,730.1 L451.4,730.0 L452.4,730.0 L453.4,729.9 L454.1,729.7 L455.0,729.5 L455.9,729.4 L456.6,729.2 L457.4,729.0 L458.1,728.8 L459.0,728.5 L459.8,728.3 L460.4,728.0 L461.1,727.7 L461.7,727.3 L462.4,727.0 L462.9,726.5 L463.6,726.1 L464.1,725.6 L464.6,725.2 L465.1,724.7 L465.6,724.2 L466.1,723.8 L466.6,723.2 L467.1,722.5 L467.4,722.0 L467.8,721.3 L468.1,720.8 L468.4,720.0 L468.7,719.3 L469.0,718.5 L469.2,717.8 L469.4,717.0 L469.6,716.3 L469.7,715.3 L469.9,714.5 L470.0,713.5 L470.0,712.5 L470.1,711.5 L470.1,710.5 L469.9,709.5 L469.8,708.8 L469.6,707.8 L469.5,707.0 L469.3,706.3 L469.1,705.4 L468.8,704.8 L468.5,704.0 L468.1,703.3 L467.9,702.8 L467.4,702.0 L467.1,701.5 L466.6,700.9 L466.2,700.3 L465.7,699.8 L465.3,699.3 L464.9,698.6 L464.4,698.1 L463.9,697.6 L463.4,697.1 L462.9,696.7 L462.4,696.2 L461.7,695.8 L461.1,695.3 L460.6,695.0 L459.9,694.7 L459.2,694.3 L458.6,694.0 L457.9,693.6 L457.1,693.3 L456.6,693.0 L455.9,692.8 L455.1,692.4 L454.4,692.2 L453.6,691.9 L452.9,691.7 L452.1,691.5 L451.1,691.3 L450.4,691.1 L449.6,691.0 L448.9,690.7 L448.1,690.4 L447.4,690.2 L446.6,689.9 L445.9,689.6 L445.1,689.4 L444.4,689.2 L443.5,689.0 L442.9,688.8 L441.9,688.6 L441.1,688.3 L440.4,688.2 L439.6,687.9 L438.9,687.8 L437.9,687.6 L437.1,687.4 L436.1,687.4 L435.1,687.3 L434.4,687.2 L433.4,687.2 L432.4,687.2 L431.4,687.2 L430.4,687.2 L429.4,687.2 L428.4,687.3 L427.6,687.3 L426.6,687.5 L425.9,687.7 L425.0,687.8 L424.1,688.0 L423.4,688.1 L422.6,688.3 L421.6,688.4 L420.9,688.6 L420.0,688.8 L419.2,689.0 L418.6,689.3 L417.9,689.7 L417.3,690.0 L416.8,690.5 L416.3,691.0 L415.9,691.6 L415.5,692.3 L415.1,692.9 L414.8,693.5 L414.6,694.3 L414.3,695.0 L414.1,696.0 L413.9,696.8 L413.7,697.5 L413.6,698.5 L413.5,699.3 L413.4,700.3 L413.4,701.3 L413.4,702.3 L413.4,703.3 L413.5,704.3 L413.5,705.3 L413.7,706.0 L413.8,707.0 L414.0,707.8 L414.1,708.4 L414.1,709.1 L414.2,710.0 L414.4,711.0 L414.4,711.8 L414.6,712.8 L414.7,713.5 L414.9,714.3 L415.0,715.3 L415.1,716.0 L415.3,717.0 L415.5,717.8 L415.6,718.6 L415.9,719.4 L416.1,720.0 L416.4,720.8 L416.7,721.5 L417.1,722.3 L417.4,722.8 L417.9,723.5 L418.2,724.0 L418.6,724.7 L419.1,725.3 L419.5,725.8 L420.0,726.3 L420.6,726.8 L421.1,727.2 L421.6,727.7 L422.3,728.0 L422.9,728.4 L423.6,728.8 L424.1,729.1 L424.9,729.4 L425.6,729.8 L426.4,730.0 L426.9,730.3 L427.6,730.5 L428.4,730.8 L429.1,731.1 L430.1,731.3 L430.9,731.5 L431.9,731.5 L432.4,731.5 L433.4,731.5 L434.1,731.6 L434.9,731.5 L435.8,731.5 L436.6,731.6 L437.6,731.6 L438.6,731.6 L438.9,731.5Z M438.1,730.5 L438.9,730.5 L439.9,730.4 L440.6,730.3 L441.6,730.1 L442.4,730.0 L443.1,729.8 L444.1,729.6 L444.9,729.4 L445.6,729.1 L446.4,728.9 L447.1,728.8 L448.1,728.8 L449.1,728.7 L450.1,728.7 L451.1,728.6 L452.1,728.6 L452.9,728.5 L453.9,728.3 L454.6,728.2 L455.6,728.0 L456.4,727.9 L457.1,727.7 L457.9,727.5 L458.6,727.3 L459.4,727.0 L460.1,726.8 L460.9,726.4 L461.4,726.0 L462.1,725.6 L462.6,725.2 L463.2,724.8 L463.8,724.3 L464.4,723.8 L464.9,723.3 L465.4,722.9 L465.8,722.3 L466.2,721.8 L466.6,721.2 L466.9,720.5 L467.3,719.8 L467.6,719.0 L467.9,718.3 L468.1,717.5 L468.3,716.8 L468.5,716.0 L468.6,715.3 L468.9,714.4 L469.0,713.5 L469.0,712.5 L469.1,711.5 L469.0,710.5 L468.9,709.5 L468.8,708.8 L468.7,707.8 L468.5,707.0 L468.3,706.3 L468.1,705.5 L467.8,704.8 L467.5,704.0 L467.1,703.4 L466.8,702.8 L466.4,702.1 L466.0,701.5 L465.6,701.0 L465.1,700.4 L464.6,699.8 L464.2,699.3 L463.8,698.8 L463.3,698.3 L462.8,697.8 L462.2,697.3 L461.6,696.8 L461.1,696.5 L460.5,696.0 L459.9,695.6 L459.1,695.3 L458.6,695.0 L457.9,694.6 L457.1,694.3 L456.5,694.0 L455.9,693.8 L455.1,693.5 L454.4,693.3 L453.6,693.0 L452.9,692.8 L451.9,692.5 L451.1,692.4 L450.4,692.3 L449.4,692.1 L448.6,691.9 L447.9,691.5 L447.4,691.3 L446.6,690.9 L445.9,690.7 L445.1,690.4 L444.4,690.1 L443.6,689.9 L442.9,689.6 L442.1,689.4 L441.4,689.1 L440.6,689.0 L439.9,688.7 L439.1,688.5 L438.2,688.3 L437.4,688.0 L436.6,688.0 L435.6,687.9 L434.9,687.8 L433.9,687.7 L432.9,687.7 L431.9,687.7 L430.9,687.7 L429.9,687.7 L428.9,687.8 L428.1,687.8 L427.1,687.9 L426.4,688.2 L425.6,688.3 L424.6,688.5 L423.9,688.7 L423.1,688.9 L422.4,689.1 L421.5,689.3 L420.6,689.5 L419.9,689.8 L419.1,690.0 L418.6,690.3 L417.9,690.8 L417.4,691.3 L416.9,691.8 L416.5,692.3 L416.1,693.0 L415.9,693.6 L415.6,694.5 L415.4,695.3 L415.1,696.0 L415.0,696.8 L414.8,697.5 L414.7,698.5 L414.6,699.4 L414.5,700.3 L414.5,701.3 L414.5,702.3 L414.6,703.3 L414.6,704.3 L414.6,705.0 L414.9,705.8 L415.0,706.8 L415.1,707.5 L415.3,708.5 L415.4,709.3 L415.4,710.3 L415.5,711.3 L415.6,712.2 L415.7,713.0 L415.8,714.0 L415.9,714.8 L416.0,715.8 L416.1,716.6 L416.3,717.5 L416.4,718.3 L416.6,719.3 L416.9,720.0 L417.1,720.7 L417.4,721.3 L417.7,722.0 L418.1,722.7 L418.5,723.3 L418.9,723.8 L419.4,724.5 L419.7,725.0 L420.2,725.5 L420.7,726.0 L421.4,726.5 L421.9,727.0 L422.4,727.3 L423.1,727.8 L423.7,728.0 L424.4,728.5 L425.1,728.8 L425.8,729.0 L426.5,729.3 L427.1,729.6 L427.9,729.8 L428.6,730.1 L429.4,730.3 L430.4,730.5 L431.1,730.6 L432.1,730.6 L433.1,730.6 L434.1,730.7 L435.1,730.6 L435.7,730.5 L436.6,730.6 L437.6,730.6 L438.1,730.5Z M434.6,729.5 L435.6,729.4 L436.6,729.5 L437.6,729.4 L438.4,729.3 L439.4,729.1 L440.1,729.0 L440.9,728.8 L441.8,728.5 L442.6,728.3 L443.4,728.1 L444.1,727.9 L444.9,727.7 L445.6,727.4 L446.4,727.1 L447.1,727.0 L447.9,727.1 L448.6,727.0 L449.6,727.0 L450.6,727.0 L451.6,726.9 L452.6,726.8 L453.4,726.7 L454.4,726.6 L455.1,726.5 L456.1,726.4 L456.9,726.2 L457.7,726.0 L458.4,725.8 L459.1,725.5 L459.9,725.2 L460.6,724.8 L461.1,724.5 L461.8,724.0 L462.4,723.7 L462.9,723.3 L463.4,722.8 L463.9,722.3 L464.4,721.8 L464.9,721.2 L465.3,720.5 L465.6,720.0 L466.0,719.3 L466.3,718.5 L466.6,717.8 L466.8,717.0 L467.1,716.3 L467.3,715.5 L467.4,714.8 L467.7,714.0 L467.8,713.0 L467.8,712.0 L467.9,711.3 L467.8,710.5 L467.7,709.5 L467.6,708.8 L467.4,707.8 L467.3,707.0 L467.1,706.2 L466.9,705.5 L466.6,704.8 L466.2,704.0 L465.9,703.3 L465.6,702.8 L465.1,702.1 L464.7,701.5 L464.3,701.0 L463.9,700.5 L463.4,699.8 L462.9,699.3 L462.4,698.8 L461.9,698.4 L461.4,698.0 L460.8,697.5 L460.1,697.0 L459.6,696.7 L458.9,696.3 L458.3,696.0 L457.6,695.7 L456.9,695.4 L456.1,695.1 L455.4,694.8 L454.6,694.5 L453.9,694.3 L453.1,694.1 L452.4,693.9 L451.6,693.8 L450.6,693.7 L449.7,693.5 L448.9,693.5 L448.1,693.2 L447.4,692.8 L446.9,692.5 L446.1,692.1 L445.5,691.8 L444.9,691.5 L444.1,691.1 L443.4,690.9 L442.6,690.5 L441.9,690.3 L441.3,690.0 L440.6,689.8 L439.9,689.5 L439.1,689.2 L438.4,689.0 L437.5,688.8 L436.6,688.6 L435.7,688.5 L434.9,688.4 L433.9,688.3 L432.9,688.3 L431.9,688.3 L430.9,688.3 L429.9,688.3 L428.9,688.4 L427.9,688.5 L427.1,688.6 L426.4,688.8 L425.4,689.0 L424.6,689.2 L423.9,689.5 L423.1,689.8 L422.4,690.0 L421.6,690.3 L420.9,690.5 L420.2,690.8 L419.6,691.1 L418.9,691.5 L418.4,692.0 L417.9,692.5 L417.4,693.0 L417.1,693.8 L416.9,694.4 L416.6,695.3 L416.4,696.0 L416.3,696.8 L416.1,697.8 L416.0,698.5 L415.9,699.5 L415.8,700.3 L415.8,701.3 L415.8,702.3 L415.9,703.0 L415.9,704.0 L416.1,705.0 L416.3,705.8 L416.4,706.5 L416.6,707.4 L416.9,708.3 L416.9,709.0 L416.9,709.9 L416.9,710.5 L416.9,711.5 L417.0,712.5 L417.0,713.5 L417.0,714.5 L417.1,715.5 L417.1,716.3 L417.2,717.3 L417.3,718.3 L417.5,719.0 L417.7,719.8 L417.9,720.5 L418.3,721.3 L418.6,722.0 L418.9,722.5 L419.4,723.2 L419.7,723.8 L420.1,724.3 L420.6,724.9 L421.1,725.4 L421.7,725.8 L422.2,726.3 L422.9,726.7 L423.4,727.0 L424.1,727.4 L424.9,727.8 L425.6,728.0 L426.2,728.3 L426.9,728.5 L427.6,728.8 L428.4,729.0 L429.2,729.3 L430.1,729.5 L430.9,729.6 L431.9,729.6 L432.9,729.7 L433.9,729.6 L434.6,729.5 L434.6,729.5Z M435.0,728.3 L435.9,728.2 L436.9,728.1 L437.6,727.9 L438.4,727.8 L439.1,727.5 L440.0,727.3 L440.8,727.0 L441.6,726.8 L442.3,726.5 L443.0,726.3 L443.6,726.0 L444.4,725.7 L445.1,725.3 L445.6,725.0 L446.2,724.8 L447.1,724.9 L448.1,725.0 L449.1,725.0 L449.6,725.0 L450.6,725.0 L451.6,725.0 L452.6,725.0 L453.6,724.9 L454.6,724.8 L455.4,724.8 L456.4,724.6 L457.1,724.5 L457.9,724.2 L458.6,724.0 L459.4,723.6 L459.9,723.3 L460.6,722.9 L461.1,722.5 L461.7,722.0 L462.3,721.5 L462.8,721.0 L463.2,720.5 L463.6,720.0 L464.1,719.3 L464.4,718.8 L464.8,718.0 L465.1,717.4 L465.4,716.8 L465.6,716.0 L465.9,715.3 L466.1,714.4 L466.3,713.5 L466.4,712.8 L466.5,711.8 L466.4,710.8 L466.3,710.0 L466.2,709.0 L466.1,708.1 L465.9,707.3 L465.8,706.5 L465.6,705.8 L465.3,705.0 L465.0,704.3 L464.6,703.5 L464.3,703.0 L463.9,702.4 L463.4,701.8 L463.0,701.3 L462.6,700.7 L462.1,700.2 L461.6,699.7 L461.1,699.3 L460.5,698.8 L459.9,698.3 L459.4,698.0 L458.6,697.5 L458.1,697.3 L457.4,696.9 L456.6,696.6 L455.9,696.3 L455.1,696.1 L454.4,695.9 L453.6,695.7 L452.9,695.5 L451.9,695.3 L451.1,695.2 L450.1,695.2 L449.1,695.1 L448.1,695.1 L447.4,694.8 L446.9,694.4 L446.4,694.0 L445.6,693.5 L445.1,693.2 L444.5,692.8 L443.9,692.4 L443.1,692.1 L442.6,691.8 L441.9,691.4 L441.2,691.0 L440.6,690.8 L439.9,690.5 L439.1,690.1 L438.4,689.9 L437.6,689.7 L436.9,689.4 L435.9,689.3 L435.1,689.2 L434.4,689.0 L433.4,689.0 L432.4,689.0 L431.4,689.0 L430.4,689.0 L429.4,689.0 L428.6,689.1 L427.6,689.2 L426.9,689.4 L426.1,689.7 L425.4,689.9 L424.6,690.2 L423.9,690.5 L423.1,690.8 L422.6,691.0 L421.9,691.4 L421.1,691.8 L420.6,692.0 L419.9,692.5 L419.4,693.0 L418.9,693.5 L418.5,694.0 L418.2,694.8 L418.0,695.5 L417.8,696.3 L417.6,697.3 L417.5,698.0 L417.4,699.0 L417.3,699.8 L417.3,700.8 L417.3,701.8 L417.4,702.5 L417.5,703.5 L417.6,704.3 L417.9,705.2 L418.0,706.0 L418.2,706.8 L418.5,707.5 L418.8,708.3 L418.9,709.0 L418.8,709.8 L418.7,710.8 L418.6,711.6 L418.6,712.5 L418.5,713.5 L418.4,714.5 L418.4,715.4 L418.3,716.3 L418.3,717.3 L418.4,718.1 L418.5,719.0 L418.7,719.8 L419.0,720.5 L419.3,721.3 L419.6,721.9 L420.0,722.5 L420.4,723.1 L420.9,723.8 L421.3,724.3 L421.8,724.8 L422.4,725.2 L422.9,725.6 L423.6,726.0 L424.1,726.3 L424.9,726.7 L425.6,727.0 L426.4,727.3 L427.1,727.5 L427.8,727.8 L428.6,728.0 L429.4,728.2 L430.1,728.4 L431.1,728.5 L432.1,728.5 L433.1,728.5 L434.1,728.4 L435.0,728.3 L435.0,728.3Z M432.3,727.3 L433.1,727.3 L434.1,727.1 L434.9,727.0 L435.6,726.8 L436.6,726.5 L437.4,726.3 L438.0,726.0 L438.6,725.8 L439.4,725.5 L440.1,725.1 L440.8,724.8 L441.4,724.5 L442.1,724.1 L442.6,723.8 L443.4,723.3 L443.9,723.0 L444.4,722.5 L444.9,722.0 L445.7,722.0 L446.6,722.3 L447.4,722.5 L448.2,722.5 L449.1,722.7 L450.1,722.8 L450.9,722.9 L451.9,722.9 L452.9,723.0 L453.9,723.0 L454.9,722.9 L455.9,722.8 L456.6,722.7 L457.4,722.5 L458.1,722.2 L458.9,721.8 L459.4,721.5 L460.1,721.0 L460.6,720.6 L461.1,720.2 L461.6,719.6 L462.1,719.0 L462.4,718.5 L462.9,717.9 L463.2,717.3 L463.6,716.7 L463.9,716.0 L464.2,715.3 L464.4,714.5 L464.7,713.8 L464.8,712.8 L464.9,712.0 L464.9,711.0 L464.8,710.3 L464.7,709.3 L464.6,708.3 L464.5,707.5 L464.3,706.8 L464.1,705.8 L463.9,705.2 L463.6,704.5 L463.2,703.8 L462.9,703.2 L462.4,702.5 L462.0,702.0 L461.6,701.5 L461.1,701.0 L460.6,700.5 L460.0,700.0 L459.4,699.6 L458.9,699.2 L458.1,698.8 L457.6,698.5 L456.9,698.2 L456.1,697.9 L455.4,697.6 L454.6,697.4 L453.9,697.3 L452.9,697.1 L452.1,697.0 L451.1,696.9 L450.1,696.9 L449.1,696.9 L448.1,697.0 L447.4,697.1 L446.6,697.0 L446.1,696.4 L445.6,695.9 L445.1,695.5 L444.6,695.0 L444.1,694.5 L443.5,694.0 L442.9,693.6 L442.4,693.2 L441.8,692.8 L441.1,692.4 L440.6,692.0 L439.9,691.6 L439.2,691.3 L438.6,691.0 L437.9,690.7 L437.1,690.4 L436.4,690.2 L435.4,690.1 L434.6,689.9 L433.6,689.8 L432.9,689.8 L431.9,689.8 L430.9,689.7 L429.9,689.8 L429.1,689.9 L428.1,690.0 L427.4,690.1 L426.6,690.4 L425.9,690.7 L425.1,691.0 L424.5,691.3 L423.9,691.7 L423.2,692.0 L422.6,692.4 L422.0,692.8 L421.4,693.3 L420.9,693.7 L420.4,694.3 L420.0,694.8 L419.6,695.5 L419.4,696.3 L419.3,697.0 L419.1,698.0 L419.0,698.8 L419.0,699.8 L419.0,700.8 L419.1,701.7 L419.2,702.5 L419.4,703.3 L419.5,704.3 L419.8,705.0 L420.0,705.8 L420.2,706.5 L420.6,707.3 L420.9,707.9 L421.2,708.5 L421.4,709.3 L421.2,710.0 L421.0,710.8 L420.8,711.5 L420.6,712.3 L420.4,713.1 L420.1,714.0 L419.9,714.8 L419.8,715.5 L419.7,716.5 L419.6,717.3 L419.6,718.3 L419.7,719.0 L419.9,719.8 L420.1,720.6 L420.4,721.3 L420.8,722.0 L421.2,722.5 L421.6,723.1 L422.1,723.7 L422.6,724.1 L423.2,724.5 L423.9,725.0 L424.4,725.3 L425.1,725.6 L425.9,725.9 L426.6,726.1 L427.4,726.4 L428.1,726.7 L428.9,726.9 L429.6,727.1 L430.6,727.2 L431.6,727.3 L432.3,727.3 L432.3,727.3Z M433.3,725.8 L434.1,725.6 L434.9,725.4 L435.6,725.1 L436.2,724.8 L436.9,724.5 L437.6,724.1 L438.1,723.8 L438.7,723.3 L439.3,722.8 L439.8,722.3 L440.3,721.8 L440.8,721.3 L441.2,720.8 L441.6,720.3 L442.1,719.5 L442.4,719.0 L442.9,718.3 L443.1,717.8 L443.6,717.6 L444.3,718.0 L444.9,718.4 L445.6,718.7 L446.4,719.0 L447.0,719.3 L447.7,719.5 L448.4,719.8 L449.2,720.0 L450.1,720.3 L450.9,720.5 L451.6,720.6 L452.6,720.8 L453.4,720.8 L454.4,720.8 L455.2,720.8 L456.1,720.7 L456.9,720.5 L457.6,720.2 L458.4,719.8 L458.9,719.5 L459.4,719.0 L460.0,718.5 L460.4,718.0 L460.9,717.5 L461.4,716.8 L461.7,716.3 L462.1,715.7 L462.4,715.0 L462.7,714.3 L463.0,713.5 L463.1,712.8 L463.3,711.8 L463.2,710.8 L463.1,709.8 L463.1,709.0 L462.9,708.0 L462.8,707.3 L462.6,706.3 L462.4,705.5 L462.1,704.9 L461.8,704.3 L461.4,703.6 L461.0,703.0 L460.6,702.5 L460.1,702.0 L459.6,701.5 L459.0,701.0 L458.4,700.6 L457.9,700.3 L457.1,699.9 L456.4,699.5 L455.8,699.3 L454.9,699.1 L454.1,698.9 L453.2,698.8 L452.4,698.8 L451.4,698.8 L450.6,698.8 L449.6,698.9 L448.9,699.1 L448.0,699.3 L447.3,699.5 L446.6,699.9 L445.9,700.3 L445.4,700.6 L445.0,700.0 L444.7,699.3 L444.4,698.7 L444.0,698.0 L443.6,697.4 L443.2,696.8 L442.9,696.2 L442.4,695.6 L441.9,695.0 L441.4,694.5 L440.9,694.0 L440.4,693.5 L439.9,693.1 L439.4,692.7 L438.6,692.3 L438.1,692.0 L437.4,691.6 L436.6,691.3 L435.9,691.1 L435.1,691.0 L434.4,690.8 L433.4,690.7 L432.4,690.6 L431.4,690.6 L430.4,690.6 L429.4,690.7 L428.6,690.8 L427.6,691.0 L427.0,691.3 L426.4,691.6 L425.6,691.9 L425.0,692.3 L424.4,692.8 L423.9,693.2 L423.4,693.6 L422.8,694.0 L422.4,694.6 L421.9,695.2 L421.4,695.8 L421.1,696.3 L420.9,697.3 L420.8,698.0 L420.8,699.0 L420.8,700.0 L420.9,700.8 L421.1,701.8 L421.2,702.5 L421.4,703.3 L421.6,704.1 L421.9,704.8 L422.2,705.5 L422.6,706.3 L422.9,706.8 L423.3,707.5 L423.7,708.0 L424.2,708.5 L424.6,709.1 L424.9,709.6 L424.4,710.2 L424.0,710.8 L423.6,711.4 L423.2,712.0 L422.9,712.6 L422.5,713.3 L422.1,714.0 L421.9,714.6 L421.5,715.3 L421.3,716.0 L421.1,716.8 L420.9,717.8 L420.9,718.8 L421.1,719.8 L421.3,720.5 L421.6,721.2 L422.0,721.8 L422.4,722.3 L422.9,722.9 L423.4,723.3 L424.1,723.8 L424.6,724.1 L425.4,724.4 L426.1,724.7 L426.9,725.0 L427.6,725.2 L428.4,725.5 L429.1,725.6 L429.9,725.8 L430.9,725.9 L431.9,725.9 L432.9,725.8 L433.3,725.8Z M432.3,724.3 L433.1,724.2 L433.9,723.9 L434.6,723.5 L435.1,723.2 L435.7,722.8 L436.3,722.3 L436.8,721.8 L437.2,721.3 L437.6,720.7 L437.9,720.0 L438.2,719.3 L438.4,718.5 L438.6,717.6 L438.7,716.8 L438.6,715.8 L438.6,715.0 L438.4,714.0 L438.1,713.3 L437.9,712.6 L437.5,712.0 L437.1,711.5 L436.6,710.9 L436.9,710.4 L437.6,710.2 L438.4,709.8 L438.9,709.4 L439.3,708.8 L439.6,708.3 L440.1,707.6 L440.4,707.0 L440.7,706.3 L440.9,705.5 L441.1,704.5 L441.3,703.8 L441.4,703.0 L441.5,702.0 L441.5,701.0 L441.4,700.0 L441.3,699.3 L441.1,698.5 L440.9,697.7 L440.6,696.9 L440.3,696.3 L439.9,695.5 L439.6,695.0 L439.1,694.5 L438.6,693.9 L438.1,693.5 L437.4,693.0 L436.9,692.7 L436.1,692.3 L435.4,692.1 L434.6,691.9 L433.9,691.7 L432.9,691.6 L432.1,691.5 L431.1,691.5 L430.4,691.6 L429.4,691.7 L428.6,691.8 L427.8,692.0 L427.1,692.4 L426.5,692.8 L425.9,693.3 L425.4,693.7 L424.9,694.2 L424.4,694.7 L423.9,695.3 L423.6,695.8 L423.1,696.5 L422.9,697.3 L422.7,698.0 L422.6,699.0 L422.8,700.0 L422.9,700.8 L423.1,701.5 L423.4,702.3 L423.6,703.0 L424.0,703.8 L424.4,704.4 L424.8,705.0 L425.1,705.5 L425.6,706.0 L426.1,706.6 L426.7,707.0 L427.3,707.5 L427.9,707.9 L428.5,708.3 L429.1,708.6 L429.9,708.9 L430.6,709.2 L431.4,709.5 L432.1,709.8 L432.9,710.0 L433.6,710.3 L432.6,710.5 L431.9,710.7 L431.1,710.9 L430.4,711.2 L429.6,711.5 L428.9,711.8 L428.2,712.0 L427.5,712.3 L426.9,712.6 L426.1,713.0 L425.6,713.4 L425.1,713.8 L424.5,714.3 L424.1,714.8 L423.6,715.5 L423.1,716.0 L422.8,716.5 L422.5,717.3 L422.3,718.0 L422.3,719.0 L422.4,719.8 L422.6,720.5 L423.1,721.3 L423.5,721.8 L424.0,722.3 L424.6,722.7 L425.3,723.0 L425.9,723.3 L426.6,723.6 L427.4,723.8 L428.1,724.0 L429.1,724.2 L429.9,724.4 L430.9,724.4 L431.9,724.4 L432.3,724.3Z M456.2,718.3 L456.9,718.0 L457.6,717.6 L458.1,717.3 L458.7,716.8 L459.2,716.3 L459.6,715.8 L460.1,715.1 L460.5,714.5 L460.9,713.8 L461.1,713.2 L461.3,712.3 L461.4,711.5 L461.4,710.5 L461.4,709.5 L461.3,708.8 L461.2,707.8 L461.1,707.0 L460.9,706.2 L460.6,705.5 L460.2,704.8 L459.9,704.2 L459.4,703.5 L459.0,703.0 L458.5,702.5 L457.9,702.1 L457.4,701.8 L456.6,701.3 L456.0,701.0 L455.1,700.8 L454.4,700.7 L453.4,700.6 L452.4,700.7 L451.6,700.8 L450.6,701.0 L449.9,701.3 L449.3,701.5 L448.6,702.0 L448.1,702.4 L447.6,702.8 L447.0,703.3 L446.6,703.8 L446.1,704.3 L445.6,705.0 L445.1,705.5 L444.8,706.0 L444.4,706.8 L444.1,707.5 L443.9,708.1 L443.6,708.8 L443.3,709.5 L443.0,710.3 L443.2,711.0 L443.6,711.8 L444.0,712.3 L444.4,712.8 L444.9,713.4 L445.3,714.0 L445.8,714.5 L446.3,715.0 L446.9,715.5 L447.4,715.9 L448.0,716.3 L448.6,716.6 L449.3,717.0 L449.9,717.3 L450.6,717.7 L451.4,718.0 L452.1,718.2 L452.9,718.4 L453.9,718.5 L454.9,718.5 L455.9,718.4 L456.2,718.3Z M433.5,705.5 L434.3,705.3 L434.9,705.0 L435.5,704.5 L436.1,704.2 L436.6,703.7 L437.1,703.2 L437.5,702.5 L437.8,701.8 L438.1,701.3 L438.4,700.5 L438.6,699.5 L438.6,698.8 L438.6,698.0 L438.5,697.0 L438.2,696.3 L437.9,695.6 L437.5,695.0 L437.1,694.5 L436.5,694.0 L435.9,693.6 L435.2,693.3 L434.5,693.0 L433.9,692.8 L432.9,692.7 L432.1,692.5 L431.1,692.5 L430.4,692.7 L429.4,692.8 L428.6,693.0 L428.0,693.3 L427.4,693.7 L426.9,694.2 L426.4,694.7 L425.9,695.3 L425.5,695.8 L425.2,696.5 L425.0,697.3 L424.9,698.3 L424.8,699.0 L424.9,699.8 L425.1,700.6 L425.4,701.3 L425.8,702.0 L426.1,702.5 L426.6,703.2 L427.1,703.6 L427.6,704.1 L428.3,704.5 L428.9,704.9 L429.6,705.3 L430.4,705.5 L431.1,705.6 L432.1,705.6 L433.1,705.6 L433.5,705.5Z M455.9,715.8 L456.6,715.4 L457.1,715.0 L457.6,714.5 L458.1,714.0 L458.6,713.4 L459.0,712.8 L459.2,712.0 L459.4,711.3 L459.5,710.3 L459.4,709.3 L459.4,708.3 L459.3,707.5 L459.1,706.5 L458.9,705.9 L458.5,705.3 L458.1,704.7 L457.6,704.0 L457.1,703.6 L456.6,703.3 L455.9,702.9 L455.1,702.6 L454.2,702.5 L453.6,702.5 L452.7,702.8 L452.0,703.0 L451.4,703.4 L450.9,703.8 L450.4,704.4 L449.9,705.0 L449.4,705.5 L449.1,706.2 L448.8,706.8 L448.6,707.6 L448.4,708.5 L448.3,709.3 L448.1,710.3 L448.0,711.0 L448.4,711.8 L448.7,712.3 L449.1,713.0 L449.6,713.5 L450.1,714.0 L450.6,714.4 L451.2,714.8 L451.9,715.3 L452.4,715.5 L453.1,715.8 L454.1,716.0 L455.1,715.9 L455.9,715.8 L455.9,715.8Z M431.2,722.8 L432.1,722.6 L432.9,722.4 L433.4,722.0 L434.0,721.5 L434.5,721.0 L434.9,720.5 L435.1,719.5 L435.2,718.8 L435.0,718.0 L434.7,717.3 L434.4,716.8 L433.9,716.3 L433.1,715.8 L432.6,715.5 L431.9,715.3 L431.1,715.0 L430.2,715.0 L429.4,715.1 L428.4,715.3 L427.6,715.4 L426.9,715.6 L426.1,716.0 L425.6,716.3 L425.0,716.8 L424.5,717.3 L424.1,717.8 L423.8,718.5 L423.7,719.5 L424.0,720.3 L424.4,720.9 L424.9,721.4 L425.5,721.8 L426.1,722.1 L426.9,722.3 L427.8,722.5 L428.6,722.8 L429.4,722.9 L430.4,722.8 L430.9,722.8 L431.2,722.8Z M433.2,702.3 L433.9,701.9 L434.6,701.6 L435.1,701.1 L435.6,700.6 L436.1,700.1 L436.4,699.5 L436.7,698.8 L436.7,697.8 L436.5,697.0 L436.3,696.3 L436.0,695.5 L435.5,695.0 L435.0,694.5 L434.4,694.2 L433.6,693.9 L432.9,693.7 L432.1,693.5 L431.1,693.4 L430.4,693.7 L429.6,693.9 L428.9,694.3 L428.4,694.6 L427.9,695.1 L427.4,695.8 L426.9,696.3 L426.7,697.0 L426.7,698.0 L426.9,698.9 L427.1,699.7 L427.5,700.3 L427.9,700.9 L428.4,701.4 L429.0,701.8 L429.6,702.2 L430.4,702.4 L431.4,702.4 L432.4,702.4 L433.2,702.3 L433.2,702.3Z M455.2,713.3 L455.9,712.9 L456.4,712.4 L456.9,711.9 L457.2,711.3 L457.5,710.5 L457.5,709.5 L457.5,708.5 L457.5,707.5 L457.2,706.8 L457.0,706.0 L456.5,705.5 L456.1,704.9 L455.4,704.7 L454.6,704.4 L453.9,704.7 L453.1,704.9 L452.7,705.5 L452.2,706.0 L452.0,706.8 L451.7,707.5 L451.7,708.5 L451.7,709.5 L451.7,710.5 L451.9,711.3 L452.4,712.0 L452.9,712.5 L453.4,713.0 L453.9,713.3 L454.9,713.4 L455.2,713.3Z M429.7,721.5 L430.6,721.4 L431.4,721.2 L432.1,720.9 L432.6,720.4 L433.0,719.8 L432.7,719.0 L432.4,718.4 L431.6,718.1 L430.9,717.9 L430.1,717.6 L429.1,717.6 L428.1,717.6 L427.2,717.8 L426.4,718.0 L425.9,718.4 L425.2,718.8 L425.0,719.5 L425.3,720.3 L425.8,720.8 L426.4,721.1 L427.1,721.3 L428.1,721.3 L428.9,721.6 L429.7,721.5 L429.7,721.5Z M435.7,678.5 L436.4,678.2 L437.0,677.8 L437.4,677.2 L437.7,676.5 L438.0,675.8 L438.0,674.8 L437.7,674.0 L437.5,673.3 L437.0,672.8 L436.5,672.3 L435.9,671.9 L435.1,671.7 L434.1,671.7 L433.2,671.8 L432.6,672.2 L432.0,672.5 L431.5,673.0 L431.1,673.7 L431.0,674.5 L430.7,675.3 L431.0,676.0 L431.2,676.8 L431.6,677.4 L432.1,677.9 L432.6,678.4 L433.4,678.7 L434.4,678.7 L435.4,678.7 L435.7,678.5Z"/>
</g>
</svg>
</body></html>
